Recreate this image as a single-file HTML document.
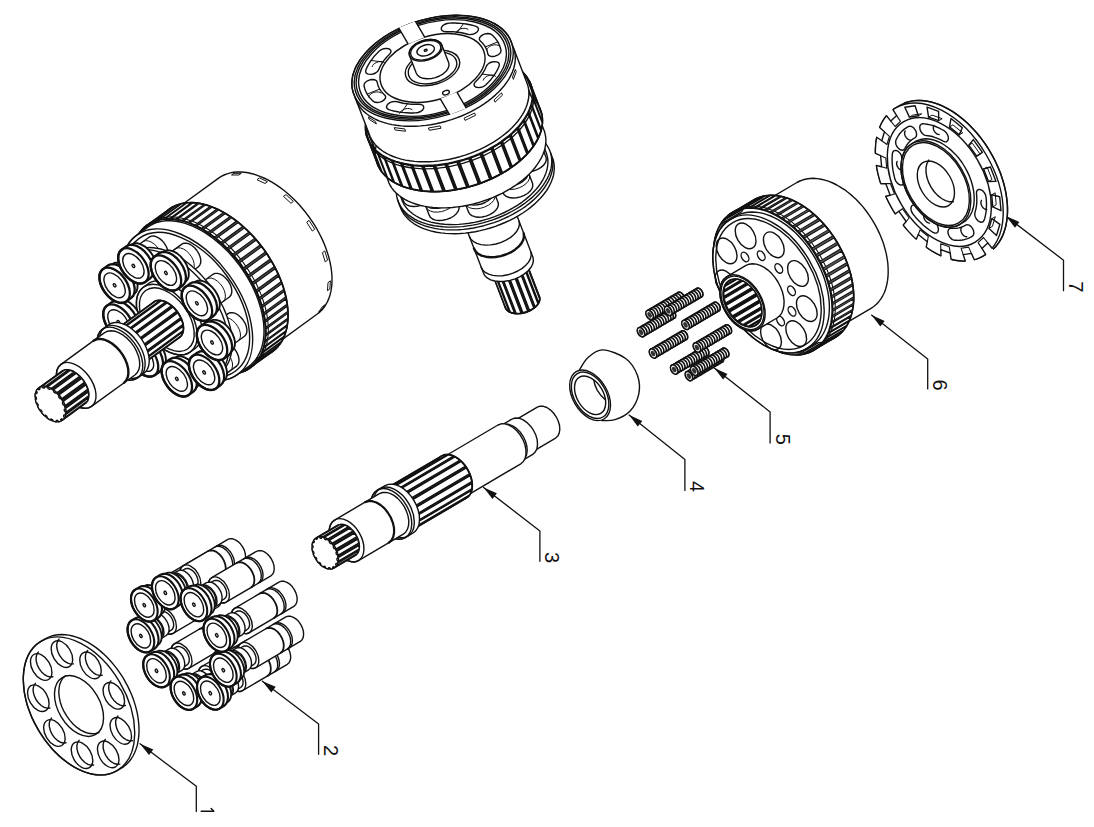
<!DOCTYPE html>
<html><head><meta charset="utf-8"><style>
html,body{margin:0;padding:0;background:#fff;width:1094px;height:827px;overflow:hidden}
svg{display:block}
</style></head><body>
<svg width="1094" height="827" viewBox="0 0 1094 827" stroke-linejoin="round" stroke-linecap="round">
<rect width="1094" height="827" fill="#fff"/>
<path d="M140 743.8L196.3 786.3L196.3 811.5" fill="none" stroke="#111" stroke-width="1.3"/>
<path d="M140 743.8L149 755.1L153.3 749.4Z" fill="#111"/>
<path d="M201.2 811.3L213.8 811.3L211.2 808.6" fill="none" stroke="#111" stroke-width="1.5"/>
<path d="M262.4 681.2L318.6 724.1L318.6 754.3" fill="none" stroke="#111" stroke-width="1.3"/>
<path d="M262.4 681.2L271.3 692.6L275.7 686.8Z" fill="#111"/>
<text x="0" y="0" transform="translate(324.1 750.5) rotate(90)" font-family="Liberation Sans, sans-serif" font-size="20" text-anchor="middle" fill="#111">2</text>
<path d="M483.6 487.5L539.9 531L539.9 561.3" fill="none" stroke="#111" stroke-width="1.3"/>
<path d="M483.6 487.5L492.5 498.9L496.9 493.2Z" fill="#111"/>
<text x="0" y="0" transform="translate(545.4 557.5) rotate(90)" font-family="Liberation Sans, sans-serif" font-size="20" text-anchor="middle" fill="#111">3</text>
<path d="M629.1 415.1L684.9 459.5L684.9 490.4" fill="none" stroke="#111" stroke-width="1.3"/>
<path d="M629.1 415.1L637.8 426.6L642.3 421Z" fill="#111"/>
<text x="0" y="0" transform="translate(690.4 486.6) rotate(90)" font-family="Liberation Sans, sans-serif" font-size="20" text-anchor="middle" fill="#111">4</text>
<path d="M714.3 368.1L770.1 411.9L770.1 443.1" fill="none" stroke="#111" stroke-width="1.3"/>
<path d="M714.3 368.1L723.1 379.6L727.5 373.9Z" fill="#111"/>
<text x="0" y="0" transform="translate(775.6 439.3) rotate(90)" font-family="Liberation Sans, sans-serif" font-size="20" text-anchor="middle" fill="#111">5</text>
<path d="M871.5 315.1L927.7 359L927.7 388.9" fill="none" stroke="#111" stroke-width="1.3"/>
<path d="M871.5 315.1L880.3 326.6L884.7 320.9Z" fill="#111"/>
<text x="0" y="0" transform="translate(933.2 385.1) rotate(90)" font-family="Liberation Sans, sans-serif" font-size="20" text-anchor="middle" fill="#111">6</text>
<path d="M1006.1 216.3L1063.5 260.2L1063.5 290.7" fill="none" stroke="#111" stroke-width="1.3"/>
<path d="M1006.1 216.3L1015 227.7L1019.4 221.9Z" fill="#111"/>
<text x="0" y="0" transform="translate(1069 286.9) rotate(90)" font-family="Liberation Sans, sans-serif" font-size="20" text-anchor="middle" fill="#111">7</text>
<path d="M490.9 270.2 490.7 267.4 491.7 264.5 493.7 261.5 496.8 258.8 500.7 256.5 505 254.8 509.6 253.8 514 253.6 518.1 254.1 521.5 255.3 523.9 257.3 525.3 259.7 539.7 297.1 539.9 299.9 538.9 302.8 536.8 305.8 533.7 308.5 529.9 310.8 525.6 312.5 521 313.5 516.5 313.8 512.5 313.2 509.1 312 506.6 310 505.2 307.6Z" fill="#fff" stroke="#111" stroke-width="1.4"/>
<path d="M491.1 265.9 490.6 268.8 491.4 271.5 493.4 273.7 496.3 275.3 500.1 276.2 504.4 276.4 508.9 275.7 513.4 274.4 517.6 272.3 521.1 269.8 523.7 267 525.2 264 525.6 261 524.7 258.4 522.8 256.2 537.1 293.5 539.1 295.7 539.9 298.4 539.6 301.3 538 304.3 535.4 307.2 531.9 309.7 527.8 311.7 523.3 313.1 518.7 313.7 514.4 313.6 510.6 312.7 507.7 311 505.8 308.8 505 306.2 505.4 303.2Z" fill="#1a1a1a" stroke="none"/>
<path d="M525 259.1L538.9 295.3L539.7 298L525.9 261.9ZM525.8 263.2L539.7 299.3L538.7 302.5L524.8 266.3ZM524 267.7L537.9 303.8L535.1 306.8L521.3 270.7ZM519.8 271.8L533.7 308L529.6 310.4L515.8 274.2ZM513.8 275.1L527.7 311.2L523 312.6L509.1 276.5ZM507.1 276.9L520.9 313L516.2 313.3L502.4 277.2ZM500.5 277L514.4 313.1L510.4 312.2L496.6 276.1ZM495.1 275.4L509 311.5L506.4 309.5L492.5 273.4ZM491.8 272.3L505.6 308.5L504.8 305.7L490.9 269.6Z" fill="#fff" stroke="#111" stroke-width="1.2"/>
<path d="M539.3 296.1 539.9 299 539.3 302.1 537.3 305.2 534.2 308.2 530.2 310.6 525.6 312.5 520.7 313.5 516 313.7 511.8 313 508.4 311.5 506.1 309.3 505 306.6" fill="none" stroke="#111" stroke-width="1.4"/>
<path d="M524.9 258.7 525.6 261.6 524.9 264.7 523 267.9 519.9 270.8 515.8 273.3 511.2 275.1 506.4 276.2 501.7 276.4 497.4 275.7 494 274.2 491.7 272 490.7 269.2" fill="none" stroke="#111" stroke-width="1.8"/>
<path d="M490.9 270.2 490.7 267.4 491.7 264.5 493.7 261.5 496.8 258.8 500.7 256.5 505 254.8 509.6 253.8 514 253.6 518.1 254.1 521.5 255.3 523.9 257.3 525.3 259.7" fill="none" stroke="#111" stroke-width="1.4"/>
<path d="M451.7 190.4 451.3 187.2 452 183.8 453.8 180.4 456.6 177 460.3 173.9 464.6 171.2 469.5 169 474.7 167.4 480 166.5 485.1 166.3 489.9 166.8 494.1 168.1 497.5 169.9 500 172.3 501.4 175.2 533 257.4 533.4 260.6 532.7 264 530.9 267.5 528.1 270.8 524.4 273.9 520.1 276.6 515.2 278.8 510 280.4 504.7 281.3 499.6 281.5 494.8 281 490.6 279.8 487.2 277.9 484.7 275.5 483.3 272.6Z" fill="#fff" stroke="#111" stroke-width="1.4"/>
<path d="M523.7 233.4 524 236.6 523.2 240 521.4 243.4 518.6 246.7 515 249.7 510.7 252.4 505.8 254.5 500.7 256.1 495.5 257 490.4 257.2 485.7 256.7 481.5 255.6 478.1 253.8 475.6 251.4 474 248.6" fill="none" stroke="#111" stroke-width="2.4"/>
<path d="M519.1 221.3 519.4 224.5 518.6 227.8 516.8 231.2 514 234.5 510.3 237.6 506 240.2 501.2 242.4 496 244 490.8 244.9 485.8 245.1 481 244.6 476.9 243.4 473.5 241.6 470.9 239.3 469.4 236.5" fill="none" stroke="#111" stroke-width="1.4"/>
<path d="M530.9 252.1 531.2 255.3 530.4 258.6 528.6 262.1 525.8 265.3 522.2 268.4 517.8 271 513 273.2 507.9 274.8 502.6 275.7 497.6 275.9 492.9 275.4 488.7 274.2 485.3 272.4 482.7 270.1 481.2 267.3" fill="none" stroke="#111" stroke-width="1.4"/>
<path d="M499 176.7 500.8 181.3 498.6 184.7 496.8 180.1Z" fill="#fff" stroke="#111" stroke-width="1.1"/>
<path d="M491.9 184.8 493.7 189.5 489.6 192.3 487.8 187.6Z" fill="#fff" stroke="#111" stroke-width="1.1"/>
<path d="M480.5 190.9 482.3 195.6 477.2 197.1 475.4 192.4Z" fill="#fff" stroke="#111" stroke-width="1.1"/>
<path d="M467.6 193.4 469.4 198.1 464.4 197.9 462.6 193.3Z" fill="#fff" stroke="#111" stroke-width="1.1"/>
<path d="M456.2 191.7 458 196.4 454.5 194.6 452.7 189.9Z" fill="#fff" stroke="#111" stroke-width="1.1"/>
<path d="M397.6 199.7 396.8 196.7 396.4 193.6 396.3 190.4 396.6 187.2 397.2 183.9 398.1 180.6 399.4 177.3 400.9 174 402.8 170.7 405 167.4 407.5 164.1 410.2 160.9 413.3 157.8 416.5 154.7 420.1 151.8 423.9 148.9 427.9 146.2 432 143.5 436.4 141.1 440.9 138.7 445.6 136.6 450.4 134.6 455.3 132.8 460.3 131.2 465.3 129.7 470.4 128.5 475.5 127.5 480.5 126.6 485.6 126 490.6 125.6 495.5 125.5 500.4 125.5 505.1 125.8 509.7 126.2 514.1 126.9 518.4 127.8 522.5 128.9 526.4 130.3 530 131.8 533.4 133.5 536.6 135.4 539.5 137.4 542.1 139.6 544.4 142 546.4 144.5 548.1 147.2 549.5 150 550.6 152.9 553.1 159.4 553.8 162.4 554.2 165.5 554.3 168.7 554 171.9 553.5 175.2 552.5 178.5 551.3 181.8 549.7 185.1 547.9 188.5 545.7 191.8 543.2 195 540.4 198.2 537.4 201.3 534.1 204.4 530.6 207.4 526.8 210.2 522.8 213 518.6 215.6 514.2 218.1 509.7 220.4 505 222.5 500.2 224.5 495.4 226.3 490.4 228 485.3 229.4 480.3 230.6 475.2 231.7 470.1 232.5 465.1 233.1 460.1 233.5 455.1 233.7 450.3 233.6 445.5 233.4 441 232.9 436.5 232.2 432.2 231.3 428.2 230.2 424.3 228.9 420.6 227.4 417.2 225.7 414.1 223.8 411.2 221.7 408.6 219.5 406.3 217.1 404.2 214.6 402.5 211.9 401.1 209.1 400.1 206.2Z" fill="#fff" stroke="#111" stroke-width="1.4"/>
<path d="M552.2 158 552.7 161.1 552.9 164.3 552.7 167.5 552.2 170.8 551.3 174.1 550.1 177.5 548.6 180.9 546.7 184.2 544.6 187.5 542.1 190.8 539.4 194.1 536.3 197.3 533 200.4 529.5 203.4 525.7 206.3 521.7 209 517.4 211.7 513 214.2 508.5 216.5 503.8 218.7 498.9 220.8 494 222.6 488.9 224.2 483.9 225.7 478.7 226.9 473.6 228 468.5 228.8 463.4 229.4 458.3 229.8 453.3 229.9 448.5 229.9 443.7 229.6 439.1 229.1 434.6 228.4 430.3 227.4 426.2 226.3 422.3 224.9 418.7 223.4 415.3 221.6 412.1 219.7 409.2 217.6 406.7 215.3 404.4 212.9 402.4 210.3 400.8 207.6 399.4 204.7" fill="none" stroke="#111" stroke-width="1.4"/>
<path d="M393.5 178 392.8 174.9 392.4 171.8 392.4 168.6 392.7 165.3 393.4 162 394.5 158.6 395.9 155.2 397.6 151.9 399.7 148.5 402.1 145.2 404.8 142 407.8 138.8 411.1 135.6 414.7 132.6 418.5 129.7 422.5 127 426.8 124.3 431.3 121.8 435.9 119.5 440.7 117.4 445.6 115.4 450.5 113.7 455.6 112.1 460.7 110.8 465.9 109.7 471 108.8 476.2 108.1 481.3 107.7 486.3 107.5 491.2 107.5 496 107.8 500.6 108.3 505.1 109 509.4 110 513.4 111.2 517.3 112.6 520.9 114.2 524.2 116 527.3 118 530 120.2 532.4 122.6 534.6 125.1 536.3 127.8 537.8 130.6 538.9 133.5 546.7 154.1 547.5 157.1 547.9 160.3 547.9 163.5 547.5 166.8 546.9 170.1 545.8 173.4 544.4 176.8 542.7 180.2 540.6 183.5 538.2 186.8 535.5 190.1 532.4 193.3 529.1 196.4 525.6 199.4 521.8 202.3 517.7 205.1 513.5 207.7 509 210.2 504.4 212.5 499.6 214.7 494.7 216.6 489.7 218.4 484.6 219.9 479.5 221.3 474.4 222.4 469.2 223.3 464.1 223.9 459 224.4 454 224.6 449.1 224.5 444.3 224.3 439.7 223.8 435.2 223 430.9 222.1 426.8 220.9 423 219.5 419.4 217.9 416.1 216 413 214 410.3 211.8 407.8 209.5 405.7 206.9 403.9 204.3 402.5 201.5 401.4 198.5Z" fill="#fff" stroke="#111" stroke-width="1.4"/>
<path d="M511.8 154.5 511.6 152.1 512.5 149.5 514.3 147 516.9 144.7 520.2 142.7 524 141.2 527.9 140.3 531.7 140.1 535.2 140.6 538.1 141.7 540.3 143.3 541.5 145.4 546.1 157.6 546.3 160 545.5 162.5 543.7 165.1 541 167.4 537.7 169.4 534 170.8 530 171.7 526.2 171.9 522.7 171.5 519.8 170.4 517.7 168.7 516.5 166.6Z" fill="#fff" stroke="#111" stroke-width="1.4"/>
<path d="M541.5 145.4 541.7 147.8 540.8 150.4 539 152.9 536.4 155.3 533.1 157.2 529.3 158.7 525.4 159.6 521.5 159.8 518 159.3 515.1 158.3 513 156.6 511.8 154.5" fill="none" stroke="#111" stroke-width="1.4"/>
<path d="M543.1 150.1 542.9 152.6 541.6 155.2 539.4 157.7 536.3 160 532.7 161.8 528.7 163 524.7 163.5 521 163.4 517.7 162.5 515.2 161.1 513.6 159.1" fill="none" stroke="#111" stroke-width="1"/>
<path d="M498.3 180.5 498.1 178.1 499 175.6 500.8 173 503.4 170.7 506.7 168.7 510.5 167.3 514.4 166.4 518.2 166.2 521.7 166.6 524.6 167.7 526.8 169.4 528 171.5 532.6 183.6 532.8 186 532 188.6 530.2 191.1 527.5 193.5 524.2 195.4 520.5 196.9 516.6 197.8 512.7 198 509.2 197.5 506.3 196.4 504.2 194.8 503 192.7Z" fill="#fff" stroke="#111" stroke-width="1.4"/>
<path d="M528 171.5 528.2 173.9 527.3 176.5 525.5 179 522.9 181.3 519.6 183.3 515.8 184.8 511.9 185.6 508.1 185.9 504.6 185.4 501.6 184.3 499.5 182.7 498.3 180.5" fill="none" stroke="#111" stroke-width="1.4"/>
<path d="M529.6 176.1 529.4 178.7 528.1 181.3 525.9 183.8 522.8 186 519.2 187.8 515.3 189 511.3 189.6 507.5 189.4 504.2 188.6 501.7 187.1 500.1 185.1" fill="none" stroke="#111" stroke-width="1"/>
<path d="M463.9 199.7 463.7 197.3 464.5 194.8 466.3 192.2 469 189.9 472.3 187.9 476 186.5 479.9 185.6 483.8 185.4 487.3 185.8 490.2 186.9 492.3 188.6 493.5 190.7 498.2 202.8 498.4 205.2 497.5 207.8 495.7 210.3 493.1 212.7 489.8 214.6 486 216.1 482.1 217 478.2 217.2 474.8 216.7 471.8 215.6 469.7 214 468.5 211.9Z" fill="#fff" stroke="#111" stroke-width="1.4"/>
<path d="M493.5 190.7 493.7 193.1 492.9 195.7 491.1 198.2 488.4 200.5 485.1 202.5 481.4 204 477.4 204.8 473.6 205.1 470.1 204.6 467.2 203.5 465.1 201.9 463.9 199.7" fill="none" stroke="#111" stroke-width="1.4"/>
<path d="M495.1 195.3 494.9 197.9 493.6 200.5 491.4 203 488.4 205.2 484.7 207 480.8 208.2 476.8 208.8 473 208.6 469.8 207.8 467.2 206.3 465.6 204.3" fill="none" stroke="#111" stroke-width="1"/>
<path d="M424.6 203.1 424.4 200.7 425.2 198.1 427 195.6 429.7 193.3 433 191.3 436.7 189.8 440.6 188.9 444.5 188.7 448 189.2 450.9 190.3 453 191.9 454.2 194 458.9 206.2 459.1 208.6 458.2 211.2 456.4 213.7 453.8 216 450.5 218 446.7 219.4 442.8 220.3 438.9 220.5 435.5 220.1 432.5 219 430.4 217.3 429.2 215.2Z" fill="#fff" stroke="#111" stroke-width="1.4"/>
<path d="M454.2 194 454.4 196.5 453.6 199 451.8 201.5 449.1 203.9 445.8 205.8 442.1 207.3 438.1 208.2 434.3 208.4 430.8 208 427.9 206.9 425.8 205.2 424.6 203.1" fill="none" stroke="#111" stroke-width="1.4"/>
<path d="M455.8 198.7 455.6 201.2 454.3 203.8 452.1 206.4 449.1 208.6 445.4 210.4 441.5 211.6 437.5 212.1 433.7 212 430.5 211.1 427.9 209.7 426.3 207.7" fill="none" stroke="#111" stroke-width="1"/>
<path d="M398.8 189 398.6 186.6 399.5 184.1 401.3 181.5 403.9 179.2 407.2 177.2 411 175.8 414.9 174.9 418.7 174.7 422.2 175.1 425.1 176.2 427.3 177.9 428.5 180 433.1 192.1 433.3 194.5 432.5 197.1 430.7 199.6 428 202 424.7 203.9 421 205.4 417 206.3 413.2 206.5 409.7 206 406.8 204.9 404.7 203.3 403.5 201.2Z" fill="#fff" stroke="#111" stroke-width="1.4"/>
<path d="M428.5 180 428.6 182.4 427.8 185 426 187.5 423.4 189.8 420 191.8 416.3 193.3 412.4 194.1 408.5 194.4 405 193.9 402.1 192.8 400 191.2 398.8 189" fill="none" stroke="#111" stroke-width="1.4"/>
<path d="M430.1 184.6 429.9 187.2 428.6 189.8 426.3 192.3 423.3 194.5 419.7 196.3 415.7 197.5 411.7 198.1 408 197.9 404.7 197.1 402.2 195.6 400.6 193.6" fill="none" stroke="#111" stroke-width="1"/>
<path d="M550.6 152.9 551.3 155.9 551.7 159 551.8 162.2 551.5 165.4 551 168.7 550 172 548.8 175.3 547.2 178.6 545.3 181.9 543.2 185.2 540.7 188.5 537.9 191.7 534.9 194.8 531.6 197.9 528 200.8 524.3 203.7 520.3 206.4 516.1 209 511.7 211.5 507.2 213.8 502.5 216 497.7 218 492.8 219.8 487.9 221.4 482.8 222.9 477.8 224.1 472.7 225.1 467.6 225.9 462.5 226.6 457.5 226.9 452.6 227.1 447.8 227.1 443 226.8 438.4 226.3 434 225.7 429.7 224.8 425.7 223.6 421.8 222.3 418.1 220.8 414.7 219.1 411.6 217.2 408.7 215.2 406.1 213 403.7 210.6 401.7 208 400 205.4 398.6 202.6 397.6 199.7" fill="none" stroke="#111" stroke-width="1.4"/>
<path d="M380.6 161.1 379.9 158 379.4 154.9 379.3 151.8 379.6 148.5 380.1 145.3 381 141.9 382.2 138.6 383.8 135.3 385.6 131.9 387.7 128.6 390.1 125.3 392.8 122.1 395.8 119 399.1 115.9 402.6 112.9 406.3 109.9 410.2 107.2 414.3 104.5 418.7 101.9 423.1 99.6 427.8 97.3 432.5 95.2 437.4 93.3 442.4 91.6 447.4 90.1 452.5 88.7 457.6 87.6 462.7 86.6 467.8 85.9 472.8 85.4 477.8 85.1 482.7 85 487.6 85.1 492.3 85.4 496.9 86 501.3 86.7 505.5 87.7 509.6 88.8 513.4 90.2 517 91.8 520.4 93.5 523.5 95.4 526.4 97.5 529 99.8 531.3 102.2 533.3 104.7 535 107.4 536.4 110.2 537.4 113.1 544.6 131.8 545.3 134.8 545.8 137.9 545.9 141.1 545.6 144.3 545.1 147.6 544.2 150.9 543 154.2 541.5 157.6 539.6 160.9 537.5 164.2 535.1 167.5 532.4 170.7 529.4 173.9 526.1 177 522.7 180 518.9 182.9 515 185.7 510.9 188.4 506.5 190.9 502.1 193.3 497.4 195.5 492.7 197.6 487.8 199.5 482.8 201.2 477.8 202.8 472.7 204.1 467.6 205.3 462.5 206.2 457.4 206.9 452.4 207.5 447.4 207.8 442.5 207.9 437.6 207.7 432.9 207.4 428.4 206.9 423.9 206.1 419.7 205.2 415.6 204 411.8 202.6 408.2 201.1 404.8 199.3 401.7 197.4 398.8 195.3 396.2 193.1 393.9 190.7 391.9 188.1 390.2 185.5 388.8 182.6 387.8 179.7Z" fill="#fff" stroke="#111" stroke-width="1.4"/>
<path d="M538.2 115 538.9 118 539.3 121.1 539.4 124.3 539.2 127.5 538.6 130.8 537.7 134.1 536.5 137.4 535 140.8 533.2 144.1 531 147.4 528.6 150.7 525.9 153.9 522.9 157.1 519.7 160.2 516.2 163.2 512.5 166.1 508.5 168.9 504.4 171.6 500.1 174.1 495.6 176.5 491 178.7 486.2 180.8 481.3 182.7 476.4 184.4 471.4 186 466.3 187.3 461.2 188.5 456.1 189.4 451 190.1 445.9 190.7 440.9 191 436 191.1 431.2 190.9 426.5 190.6 421.9 190.1 417.5 189.3 413.2 188.4 409.2 187.2 405.4 185.8 401.7 184.3 398.4 182.5 395.2 180.6 392.4 178.5 389.8 176.3 387.5 173.9 385.5 171.3 383.8 168.6 382.4 165.8 381.3 162.9" fill="none" stroke="#111" stroke-width="1.4"/>
<path d="M366.7 136.1 366 133.1 365.5 129.9 365.4 126.7 365.6 123.5 366.1 120.2 366.9 116.9 368.1 113.5 369.5 110.1 371.3 106.8 373.3 103.4 375.6 100.1 378.2 96.8 381.1 93.6 384.2 90.5 387.6 87.4 391.2 84.4 395 81.5 399 78.7 403.3 76.1 407.7 73.5 412.2 71.2 416.9 68.9 421.7 66.9 426.6 64.9 431.6 63.2 436.7 61.7 441.8 60.3 446.9 59.1 452.1 58.2 457.2 57.4 462.3 56.8 467.4 56.5 472.4 56.3 477.3 56.4 482 56.6 486.7 57.1 491.2 57.7 495.6 58.6 499.8 59.7 503.8 60.9 507.5 62.4 511.1 64 514.4 65.8 517.5 67.8 520.3 70 522.9 72.3 525.1 74.7 527.1 77.3 528.8 80 530.2 82.9 531.2 85.8 541.3 111.9 542 115 542.5 118.1 542.6 121.3 542.4 124.5 541.9 127.8 541.1 131.2 539.9 134.5 538.5 137.9 536.8 141.3 534.7 144.6 532.4 147.9 529.8 151.2 526.9 154.4 523.8 157.6 520.4 160.7 516.8 163.6 513 166.5 509 169.3 504.7 172 500.3 174.5 495.8 176.9 491.1 179.1 486.3 181.2 481.4 183.1 476.4 184.8 471.3 186.4 466.2 187.7 461.1 188.9 455.9 189.9 450.8 190.6 445.7 191.2 440.6 191.6 435.6 191.7 430.7 191.7 426 191.4 421.3 191 416.8 190.3 412.4 189.4 408.2 188.4 404.2 187.1 400.5 185.6 396.9 184 393.6 182.2 390.5 180.2 387.7 178.1 385.1 175.8 382.9 173.3 380.9 170.7 379.2 168 377.8 165.2 376.8 162.2Z" fill="#fff" stroke="#111" stroke-width="1.4"/>
<path d="M367.5 115.2 366.5 118.6 365.8 121.9 365.5 125.1 365.4 128.4 365.7 131.5 366.3 134.6 367.2 137.6 368.5 140.5 370 143.2 371.8 145.9 374 148.4 376.4 150.8 379 153 382 155.1 385.2 157 388.6 158.7 392.3 160.3 396.2 161.6 400.3 162.8 404.6 163.7 409 164.5 413.6 165.1 418.3 165.4 423.2 165.6 428.1 165.5 433.1 165.3 438.2 164.8 443.3 164.1 448.5 163.3 453.6 162.2 458.7 160.9 463.8 159.5 468.9 157.8 473.8 156 478.7 154 483.4 151.9 488 149.6 492.5 147.1 496.8 144.5 501 141.8 504.9 139 508.6 136 512.1 133 515.3 129.9 518.3 126.7 521.1 123.4 523.5 120.1 525.7 116.8 527.6 113.4 529.2 110.1 530.5 106.7 531.5 103.4 532.1 100.1 532.5 96.8 532.5 93.6 532.2 90.4 531.6 87.3 530.7 84.3 529.5 81.4 528 78.7 526.2 76 524 73.5 521.6 71.1 519 68.9 529 95 531.7 97.3 534.1 99.6 536.2 102.2 538 104.8 539.5 107.6 540.8 110.5 541.7 113.5 542.3 116.5 542.6 119.7 542.5 122.9 542.2 126.2 541.5 129.5 540.5 132.9 539.2 136.2 537.7 139.6 535.8 142.9 533.6 146.3 531.1 149.6 528.4 152.8 525.4 156 522.1 159.1 518.6 162.2 514.9 165.1 511 167.9 506.9 170.7 502.6 173.3 498.1 175.7 493.5 178 488.7 180.2 483.8 182.2 478.9 184 473.9 185.6 468.8 187.1 463.6 188.3 458.5 189.4 453.4 190.3 448.2 190.9 443.1 191.4 438.1 191.7 433.2 191.7 428.3 191.6 423.6 191.2 419 190.7 414.6 189.9 410.3 188.9 406.2 187.8 402.3 186.4 398.7 184.9 395.2 183.1 392 181.2 389.1 179.2 386.4 176.9 384 174.6 381.9 172 380 169.4 378.5 166.6 377.3 163.7 376.4 160.7 375.8 157.7 375.5 154.5 375.5 151.3 375.9 148 376.5 144.7 377.5 141.3Z" fill="#1a1a1a" stroke="none"/>
<path d="M530.5 83.8L540.1 108.7L541.8 114.3L532.2 89.4ZM532.5 90.8L542.1 115.7L542.4 121.6L532.8 96.7ZM532.7 98.2L542.3 123.1L541.3 129.2L531.7 104.3ZM531.3 105.9L540.9 130.8L538.5 137L528.9 112.1ZM528.2 113.7L537.7 138.6L534.1 144.8L524.5 119.9ZM523.5 121.4L533 146.3L528.2 152.4L518.6 127.5ZM517.2 129L526.8 153.9L520.8 159.7L511.2 134.8ZM509.6 136.2L519.2 161.1L512.2 166.5L502.6 141.6ZM500.8 142.9L510.3 167.8L502.5 172.7L492.9 147.8ZM490.9 148.9L500.4 173.9L491.9 178.2L482.3 153.3ZM480.1 154.3L489.7 179.2L480.7 182.8L471.1 157.9ZM468.8 158.7L478.3 183.6L469 186.5L459.4 161.6ZM457 162.2L466.6 187.1L457 189.2L447.5 164.2ZM445.1 164.6L454.7 189.6L445.2 190.8L435.6 165.8ZM433.3 166L442.8 191L433.6 191.3L424 166.3ZM421.7 166.3L431.3 191.2L422.5 190.7L412.9 165.7ZM410.8 165.5L420.4 190.4L412.2 188.9L402.6 164ZM400.6 163.5L410.2 188.5L402.8 186.2L393.2 161.2ZM391.5 160.6L401 185.5L394.5 182.4L385 157.4ZM383.5 156.6L393 181.5L387.6 177.7L378 152.7ZM376.8 151.7L386.4 176.6L382.1 172.1L372.5 147.2ZM371.6 146L381.2 170.9L378.2 165.8L368.6 140.9ZM368 139.6L377.6 164.5L375.9 159L366.3 134ZM366.1 132.6L375.6 157.5L375.3 151.6L365.7 126.7ZM365.8 125.2L375.4 150.1L376.4 144L366.8 119.1ZM521.7 71.7L531.3 96.6L535.6 101.1L526 76.2ZM526.9 77.4L536.5 102.3L539.5 107.4L529.9 82.5Z" fill="#fff" stroke="#111" stroke-width="1.3"/>
<path d="M531.5 86.3L533.2 91.9M533.4 93.3L533.8 99.2M533.7 100.7L532.7 106.8M532.3 108.4L529.9 114.6M529.1 116.2L525.5 122.4M524.4 123.9L519.6 130M518.2 131.5L512.2 137.3M510.6 138.7L503.6 144.1M501.7 145.4L493.9 150.3M491.8 151.5L483.3 155.8M481.1 156.8L472.1 160.4M469.7 161.2L460.4 164.1M458 164.7L448.4 166.8M446.1 167.2L436.6 168.4M434.2 168.6L425 168.9M422.7 168.8L413.9 168.2M411.8 168L403.6 166.5M401.6 166.1L394.2 163.8M392.4 163.1L385.9 160M384.4 159.1L379 155.2M377.8 154.2L373.5 149.7M372.6 148.5L369.6 143.4M369 142.1L367.3 136.5M367 135.1L366.7 129.2M366.8 127.7L367.8 121.6M522.7 74.2L527 78.7M527.9 79.9L530.9 85" fill="none" stroke="#111" stroke-width="1.3"/>
<path d="M539.4 107.2 540.6 110.1 541.6 113.1 542.2 116.2 542.5 119.3 542.5 122.6 542.2 125.9 541.6 129.2 540.6 132.6 539.4 135.9 537.8 139.3 535.9 142.7 533.7 146 531.3 149.4 528.6 152.6 525.6 155.8 522.3 159 518.8 162 515.1 165 511.1 167.8 507 170.6 502.7 173.2 498.2 175.6 493.6 178 488.8 180.1 483.9 182.1 478.9 184 473.9 185.6 468.7 187.1 463.6 188.3 458.4 189.4 453.3 190.3 448.1 191 443 191.4 438 191.7 433 191.7 428.1 191.6 423.4 191.2 418.8 190.6 414.3 189.8 410.1 188.9 406 187.7 402.1 186.3 398.4 184.7 395 183 391.8 181.1 388.8 179 386.2 176.7 383.8 174.3 381.7 171.8 379.9 169.1 378.3 166.3 377.2 163.4 376.3 160.4 375.7 157.3" fill="none" stroke="#111" stroke-width="1.4"/>
<path d="M529.3 81.1 530.6 84 531.6 87 532.2 90 532.5 93.2 532.5 96.4 532.2 99.7 531.6 103.1 530.6 106.4 529.3 109.8 527.8 113.2 525.9 116.5 523.7 119.9 521.3 123.2 518.5 126.5 515.5 129.7 512.3 132.8 508.8 135.9 505 138.8 501.1 141.7 497 144.4 492.6 147 488.2 149.5 483.5 151.8 478.7 154 473.9 156 468.9 157.8 463.8 159.5 458.7 160.9 453.6 162.2 448.4 163.3 443.2 164.1 438.1 164.8 433 165.3 427.9 165.5 423 165.6 418.1 165.4 413.4 165.1 408.8 164.5 404.3 163.7 400 162.7 395.9 161.5 392 160.2 388.4 158.6 384.9 156.8 381.7 154.9 378.8 152.8 376.1 150.6 373.7 148.2 371.6 145.6 369.8 142.9 368.3 140.1 367.1 137.2 366.2 134.2 365.7 131.1" fill="none" stroke="#111" stroke-width="1.8"/>
<path d="M366.7 136.1 366 133.1 365.5 129.9 365.4 126.7 365.6 123.5 366.1 120.2 366.9 116.9 368.1 113.5 369.5 110.1 371.3 106.8 373.3 103.4 375.6 100.1 378.2 96.8 381.1 93.6 384.2 90.5 387.6 87.4 391.2 84.4 395 81.5 399 78.7 403.3 76.1 407.7 73.5 412.2 71.2 416.9 68.9 421.7 66.9 426.6 64.9 431.6 63.2 436.7 61.7 441.8 60.3 446.9 59.1 452.1 58.2 457.2 57.4 462.3 56.8 467.4 56.5 472.4 56.3 477.3 56.4 482 56.6 486.7 57.1 491.2 57.7 495.6 58.6 499.8 59.7 503.8 60.9 507.5 62.4 511.1 64 514.4 65.8 517.5 67.8 520.3 70 522.9 72.3 525.1 74.7 527.1 77.3 528.8 80 530.2 82.9 531.2 85.8" fill="none" stroke="#111" stroke-width="1.4"/>
<path d="M353.1 92.3 352.4 89.2 351.9 86.1 351.9 82.9 352.1 79.6 352.7 76.3 353.6 72.9 354.8 69.5 356.3 66.2 358.2 62.8 360.3 59.4 362.8 56.1 365.5 52.9 368.5 49.6 371.8 46.5 375.3 43.5 379.1 40.5 383.1 37.7 387.3 35 391.7 32.4 396.2 30 400.9 27.7 405.7 25.6 410.6 23.7 415.6 22 420.7 20.4 425.9 19.1 431 17.9 436.2 16.9 441.4 16.2 446.5 15.7 451.5 15.4 456.5 15.3 461.4 15.4 466.2 15.7 470.8 16.3 475.3 17 479.6 18 483.7 19.2 487.5 20.5 491.2 22.1 494.6 23.9 497.8 25.8 500.7 27.9 503.3 30.2 505.6 32.6 507.7 35.2 509.4 37.9 510.8 40.8 511.9 43.7 527.6 84.8 528.4 87.9 528.8 91 528.9 94.2 528.7 97.5 528.1 100.8 527.2 104.2 526 107.5 524.5 110.9 522.6 114.3 520.4 117.6 518 121 515.2 124.2 512.2 127.4 509 130.6 505.4 133.6 501.7 136.5 497.7 139.4 493.5 142.1 489.1 144.6 484.6 147.1 479.9 149.3 475.1 151.4 470.1 153.4 465.1 155.1 460 156.7 454.9 158 449.7 159.2 444.6 160.1 439.4 160.9 434.3 161.4 429.2 161.7 424.2 161.8 419.4 161.7 414.6 161.4 410 160.8 405.5 160.1 401.2 159.1 397.1 157.9 393.2 156.5 389.6 155 386.1 153.2 383 151.3 380.1 149.1 377.5 146.9 375.1 144.4 373.1 141.8 371.4 139.1 370 136.3 368.9 133.3Z" fill="#fff" stroke="#111" stroke-width="1.4"/>
<ellipse cx="432.5" cy="68" rx="83" ry="49" transform="rotate(-17 432.5 68)" fill="none" stroke="#111" stroke-width="1.4"/>
<path d="M514 49.3 514.8 52.4 515.2 55.5 515.3 58.7 515.1 62 514.5 65.3 513.6 68.7 512.4 72.1 510.8 75.4 509 78.8 506.8 82.2 504.4 85.5 501.6 88.7 498.6 92 495.3 95.1 491.8 98.1 488 101.1 484.1 103.9 479.9 106.6 475.5 109.2 471 111.6 466.3 113.9 461.5 116 456.5 117.9 451.5 119.6 446.4 121.2 441.3 122.5 436.1 123.7 430.9 124.7 425.8 125.4 420.7 125.9 415.6 126.2 410.6 126.3 405.7 126.2 401 125.9 396.4 125.3 391.9 124.6 387.6 123.6 383.5 122.4 379.6 121.1 375.9 119.5 372.5 117.7 369.3 115.8 366.5 113.7 363.8 111.4 361.5 109 359.5 106.4 357.8 103.7 356.4 100.8 355.3 97.9" fill="none" stroke="#111" stroke-width="1.4"/>
<path d="M515.2 69.7 512.5 77 513.4 79.4 516.1 72Z" fill="none" stroke="#111" stroke-width="1"/>
<path d="M501.3 93.1 494.1 99.9 495 102.2 502.2 95.4Z" fill="none" stroke="#111" stroke-width="1"/>
<path d="M474.3 113.2 464.1 118.1 465 120.4 475.2 115.5Z" fill="none" stroke="#111" stroke-width="1"/>
<path d="M439.7 126 428.4 128 429.3 130.3 440.6 128.3Z" fill="none" stroke="#111" stroke-width="1"/>
<path d="M404.3 128.9 394.2 127.6 395.1 130 405.2 131.2Z" fill="none" stroke="#111" stroke-width="1"/>
<path d="M375.1 121.3 368.3 117 369.2 119.4 376 123.7Z" fill="none" stroke="#111" stroke-width="1"/>
<ellipse cx="432.5" cy="68" rx="80.5" ry="47.5" transform="rotate(-17 432.5 68)" fill="none" stroke="#111" stroke-width="1.4"/>
<ellipse cx="432.5" cy="68" rx="78.5" ry="46.3" transform="rotate(-17 432.5 68)" fill="none" stroke="#111" stroke-width="1.4"/>
<ellipse cx="432.5" cy="68" rx="76" ry="44.8" transform="rotate(-17 432.5 68)" fill="none" stroke="#111" stroke-width="1.4"/>
<path d="M365.8 70.3 366.6 68.3 367.5 66.4 368.6 64.4 369.8 62.4 371.1 60.5 372.5 58.6 374 56.6 375.7 54.8 377.4 52.9 379.3 51 379.3 51 381.3 49.6 383.7 48.7 386.3 48.4 388.6 48.7 390.2 49.6 391 51 390.7 52.6 389.5 54.3 389.5 54.3 388 55.8 386.6 57.3 385.3 58.8 384 60.4 382.9 61.9 381.8 63.5 380.9 65.1 380 66.7 379.3 68.3 378.6 69.9 378.6 69.9 377.5 71.5 375.6 73 373.2 74 370.6 74.4 368.3 74.1 366.5 73.3 365.7 71.9 365.8 70.3Z" fill="#fff" stroke="#111" stroke-width="1.4"/>
<path d="M372.2 66.6 372.7 65.4 373.7 64.2 375.1 63.2 376.7 62.4 378.5 61.8 380.3 61.6 382 61.7 383.5 62.1 384.6 62.8" fill="none" stroke="#111" stroke-width="1"/>
<path d="M382.9 61.9L371.1 60.5" fill="none" stroke="#111" stroke-width="1"/>
<path d="M449.4 23.1 452.3 23 455.2 23 458 23.2 460.8 23.4 463.5 23.6 466.1 24 468.7 24.5 471.3 25 473.7 25.6 476.1 26.3 476.1 26.3 477.7 27.3 478.5 28.7 478.2 30.3 477 32 475 33.4 472.6 34.3 470 34.6 467.7 34.3 467.7 34.3 465.8 33.8 463.8 33.3 461.8 32.8 459.7 32.5 457.5 32.2 455.3 31.9 453.1 31.8 450.8 31.7 448.5 31.7 446.2 31.7 446.2 31.7 443.8 31.5 442.1 30.6 441.3 29.2 441.4 27.6 442.5 25.9 444.4 24.5 446.9 23.5 449.4 23.1Z" fill="#fff" stroke="#111" stroke-width="1.4"/>
<path d="M455.8 33.3 456.3 32.1 457.2 30.9 458.6 29.9 460.2 29 462.1 28.5 463.9 28.3 465.6 28.4 467 28.8 468.1 29.5" fill="none" stroke="#111" stroke-width="1"/>
<path d="M457.5 32.2L463.5 23.6" fill="none" stroke="#111" stroke-width="1"/>
<path d="M491.6 34.6 493.1 36 494.5 37.4 495.7 38.8 496.8 40.4 497.8 41.9 498.7 43.6 499.5 45.2 500.1 47 500.6 48.7 501 50.5 501 50.5 500.7 52.2 499.5 53.8 497.5 55.2 495 56.2 492.5 56.5 490.2 56.2 488.6 55.3 487.8 53.9 487.8 53.9 487.5 52.4 487.1 51 486.6 49.6 486 48.3 485.3 46.9 484.5 45.7 483.6 44.4 482.6 43.3 481.5 42.1 480.3 41 480.3 41 479.4 39.7 479.5 38 480.6 36.4 482.6 34.9 485 33.9 487.6 33.5 489.9 33.7 491.6 34.6Z" fill="#fff" stroke="#111" stroke-width="1.4"/>
<path d="M486.8 49.8 487.3 48.6 488.3 47.5 489.6 46.4 491.3 45.6 493.1 45 494.9 44.8 496.6 44.9 498.1 45.3 499.2 46" fill="none" stroke="#111" stroke-width="1"/>
<path d="M485.3 46.9L497.8 41.9" fill="none" stroke="#111" stroke-width="1"/>
<path d="M499.2 65.7 498.4 67.7 497.5 69.6 496.4 71.6 495.2 73.6 493.9 75.5 492.5 77.4 491 79.4 489.3 81.2 487.6 83.1 485.7 85 485.7 85 483.7 86.4 481.3 87.3 478.7 87.6 476.4 87.3 474.8 86.4 474 85 474.3 83.4 475.5 81.7 475.5 81.7 477 80.2 478.4 78.7 479.7 77.2 481 75.6 482.1 74.1 483.2 72.5 484.1 70.9 485 69.3 485.7 67.7 486.4 66.1 486.4 66.1 487.5 64.5 489.4 63 491.8 62 494.4 61.6 496.7 61.9 498.5 62.7 499.3 64.1 499.2 65.7Z" fill="#fff" stroke="#111" stroke-width="1.4"/>
<path d="M483.3 80.2 483.8 79 484.7 77.8 486.1 76.8 487.7 75.9 489.6 75.4 491.4 75.1 493.1 75.2 494.6 75.7 495.6 76.4" fill="none" stroke="#111" stroke-width="1"/>
<path d="M482.1 74.1L493.9 75.5" fill="none" stroke="#111" stroke-width="1"/>
<path d="M415.6 112.9 412.7 113 409.8 113 407 112.8 404.2 112.6 401.5 112.4 398.9 112 396.3 111.5 393.7 111 391.3 110.4 388.9 109.7 388.9 109.7 387.3 108.7 386.5 107.3 386.8 105.7 388 104 390 102.6 392.4 101.7 395 101.4 397.3 101.7 397.3 101.7 399.2 102.2 401.2 102.7 403.2 103.2 405.3 103.5 407.5 103.8 409.7 104.1 411.9 104.2 414.2 104.3 416.5 104.3 418.8 104.3 418.8 104.3 421.2 104.5 422.9 105.4 423.7 106.8 423.6 108.4 422.5 110.1 420.6 111.5 418.1 112.5 415.6 112.9Z" fill="#fff" stroke="#111" stroke-width="1.4"/>
<path d="M399.7 113.5 400.2 112.3 401.2 111.1 402.6 110.1 404.2 109.2 406 108.7 407.8 108.5 409.6 108.6 411 109 412.1 109.7" fill="none" stroke="#111" stroke-width="1"/>
<path d="M407.5 103.8L401.5 112.4" fill="none" stroke="#111" stroke-width="1"/>
<path d="M373.4 101.4 371.9 100 370.5 98.6 369.3 97.2 368.2 95.6 367.2 94.1 366.3 92.4 365.5 90.8 364.9 89 364.4 87.3 364 85.5 364 85.5 364.3 83.8 365.5 82.2 367.5 80.8 370 79.8 372.5 79.5 374.8 79.8 376.4 80.7 377.2 82.1 377.2 82.1 377.5 83.6 377.9 85 378.4 86.4 379 87.7 379.7 89.1 380.5 90.3 381.4 91.6 382.4 92.7 383.5 93.9 384.7 95 384.7 95 385.6 96.3 385.5 98 384.4 99.6 382.4 101.1 380 102.1 377.4 102.5 375.1 102.3 373.4 101.4Z" fill="#fff" stroke="#111" stroke-width="1.4"/>
<path d="M368.7 96.9 369.2 95.7 370.1 94.6 371.5 93.5 373.2 92.7 375 92.1 376.8 91.9 378.5 92 380 92.4 381 93.1" fill="none" stroke="#111" stroke-width="1"/>
<path d="M379.7 89.1L367.2 94.1" fill="none" stroke="#111" stroke-width="1"/>
<ellipse cx="432.5" cy="68" rx="54" ry="31.9" transform="rotate(-17 432.5 68)" fill="none" stroke="#111" stroke-width="1.4"/>
<path d="M408.1 43.9 398.7 27.8 415.3 21.2 424.7 37.2Z" fill="#fff" stroke="none"/>
<path d="M407.8 43.3L399 28.3" fill="none" stroke="#111" stroke-width="1.4"/>
<path d="M424.4 36.7L415.6 21.7" fill="none" stroke="#111" stroke-width="1.4"/>
<path d="M456.9 92.1 466.3 108.2 449.7 114.8 440.3 98.8Z" fill="#fff" stroke="none"/>
<path d="M457.2 92.7L466 107.7" fill="none" stroke="#111" stroke-width="1.4"/>
<path d="M440.6 99.3L449.4 114.3" fill="none" stroke="#111" stroke-width="1.4"/>
<ellipse cx="446" cy="92.6" rx="3.5" ry="2.1" transform="rotate(-17 446 92.6)" fill="none" stroke="#111" stroke-width="1.4"/>
<ellipse cx="432.5" cy="68" rx="28" ry="16.5" transform="rotate(-17 432.5 68)" fill="none" stroke="#111" stroke-width="1.4"/>
<ellipse cx="432.5" cy="68" rx="25" ry="14.8" transform="rotate(-17 432.5 68)" fill="none" stroke="#111" stroke-width="1.4"/>
<path d="M409.4 55.2 409.2 52.6 410.1 49.8 412.1 47 415 44.4 418.7 42.3 422.8 40.7 427.1 39.7 431.3 39.5 435.1 40 438.3 41.2 440.6 43 441.9 45.3 448.8 63 449 65.7 448 68.5 446.1 71.3 443.2 73.8 439.5 76 435.4 77.6 431.1 78.6 426.9 78.8 423.1 78.3 419.9 77.1 417.6 75.3 416.2 73Z" fill="#fff" stroke="#111" stroke-width="1.4"/>
<ellipse cx="425.7" cy="50.3" rx="17" ry="10" transform="rotate(-17 425.7 50.3)" fill="none" stroke="#111" stroke-width="1.4"/>
<ellipse cx="425.7" cy="50.3" rx="15.5" ry="9.1" transform="rotate(-17 425.7 50.3)" fill="none" stroke="#111" stroke-width="1.4"/>
<ellipse cx="425.7" cy="50.3" rx="9" ry="5.3" transform="rotate(-17 425.7 50.3)" fill="none" stroke="#111" stroke-width="1.4"/>
<ellipse cx="425.7" cy="50.3" rx="1.5" ry="0.9" transform="rotate(-17 425.7 50.3)" fill="none" stroke="#111" stroke-width="1.4"/>
<path d="M171.7 212.2 169.2 214.2 167 216.5 164.9 219 163.1 221.7 161.5 224.7 160.1 227.9 159 231.3 158.1 234.9 157.5 238.7 157.1 242.6 157 246.7 157.1 250.9 157.5 255.3 158.2 259.7 159 264.2 160.2 268.8 161.5 273.4 163.1 278 165 282.7 167 287.4 169.3 292 171.7 296.5 174.4 301.1 177.3 305.5 180.3 309.8 183.5 314 186.8 318.1 190.2 322 193.8 325.8 197.5 329.4 201.3 332.7 205.2 335.9 209.1 338.9 213.1 341.6 217.1 344.1 221.1 346.3 225.1 348.3 229.1 350 233.1 351.4 237 352.6 240.9 353.4 244.7 354 248.4 354.3 251.9 354.3 255.4 354 258.7 353.4 261.9 352.5 264.9 351.3 267.8 349.9 270.4 348.1 317.3 314 319.8 312.1 322.1 309.8 324.1 307.3 325.9 304.5 327.5 301.6 328.9 298.4 330 295 330.9 291.4 331.5 287.6 331.9 283.7 332 279.6 331.9 275.3 331.5 271 330.9 266.6 330 262.1 328.9 257.5 327.5 252.9 325.9 248.2 324.1 243.6 322 238.9 319.7 234.3 317.3 229.7 314.6 225.2 311.8 220.8 308.7 216.5 305.6 212.3 302.2 208.2 298.8 204.3 295.2 200.5 291.5 196.9 287.7 193.5 283.8 190.3 279.9 187.4 275.9 184.7 271.9 182.2 267.9 179.9 263.9 178 259.9 176.3 255.9 174.8 252 173.7 248.1 172.8 244.3 172.3 240.7 172 237.1 172 233.6 172.3 230.3 172.9 227.1 173.8 224.1 175 221.3 176.4 218.6 178.1Z" fill="#fff" stroke="#111" stroke-width="1.4"/>
<path d="M321.3 310 324.8 304.9 322.4 306.6 318.8 311.8Z" fill="none" stroke="#111" stroke-width="1"/>
<path d="M329.9 288.5 330.4 280.8 328 282.6 327.5 290.3Z" fill="none" stroke="#111" stroke-width="1"/>
<path d="M327.5 259.8 324.8 250.9 322.4 252.7 325.1 261.5Z" fill="none" stroke="#111" stroke-width="1"/>
<path d="M314.5 228.9 309.1 220.4 306.7 222.2 312.1 230.7Z" fill="none" stroke="#111" stroke-width="1"/>
<path d="M293.1 201.2 286 194.6 283.5 196.4 290.7 203Z" fill="none" stroke="#111" stroke-width="1"/>
<path d="M267.1 181.5 259.4 177.9 257 179.7 264.6 183.3Z" fill="none" stroke="#111" stroke-width="1"/>
<path d="M240.9 173.3 234 173.3 231.6 175 238.5 175Z" fill="none" stroke="#111" stroke-width="1"/>
<path d="M146.7 225.4 144.2 227.4 141.9 229.7 139.8 232.2 138 234.9 136.3 237.9 134.9 241.1 133.7 244.5 132.7 248 132 251.8 131.6 255.7 131.3 259.7 131.4 263.9 131.6 268.2 132.1 272.7 132.9 277.2 133.9 281.7 135.1 286.4 136.5 291 138.2 295.7 140.1 300.4 142.2 305.1 144.5 309.7 147.1 314.3 149.8 318.9 152.6 323.3 155.7 327.7 158.9 331.9 162.2 336 165.7 340 169.3 343.8 173 347.4 176.8 350.9 180.7 354.2 184.6 357.2 188.6 360 192.6 362.6 196.7 365 200.7 367.1 204.8 368.9 208.8 370.5 212.8 371.8 216.7 372.9 220.6 373.6 224.3 374.1 228 374.3 231.6 374.2 235.1 373.8 238.4 373.2 241.6 372.3 244.6 371.1 247.4 369.6 250.1 367.8 272.8 351.4 275.3 349.4 277.5 347.1 279.6 344.6 281.5 341.9 283.1 338.9 284.6 335.7 285.7 332.4 286.7 328.8 287.4 325 287.9 321.1 288.1 317.1 288.1 312.9 287.8 308.6 287.3 304.2 286.6 299.7 285.6 295.1 284.4 290.5 282.9 285.8 281.2 281.1 279.3 276.4 277.2 271.7 274.9 267.1 272.4 262.5 269.7 258 266.8 253.5 263.8 249.1 260.6 244.9 257.2 240.8 253.7 236.8 250.1 233 246.4 229.4 242.6 225.9 238.8 222.7 234.8 219.6 230.8 216.8 226.8 214.2 222.8 211.8 218.7 209.7 214.7 207.9 210.7 206.3 206.7 205 202.7 204 198.9 203.2 195.1 202.7 191.4 202.5 187.8 202.6 184.4 203 181 203.6 177.9 204.6 174.9 205.8 172 207.2 169.3 209Z" fill="#fff" stroke="#111" stroke-width="1.4"/>
<path d="M134.1 243.1 135.4 239.9 136.9 236.8 138.6 234 140.5 231.3 142.6 229 144.9 226.8 147.5 224.9 150.1 223.2 153 221.9 156 220.7 159.2 219.9 162.5 219.3 166 219 169.6 219 173.2 219.3 177 219.8 180.8 220.6 184.7 221.7 188.7 223 192.6 224.6 196.6 226.5 200.6 228.6 204.6 230.9 208.6 233.5 212.5 236.3 216.4 239.4 220.3 242.6 224 246 227.7 249.6 231.2 253.4 234.6 257.3 237.9 261.4 241.1 265.6 244.1 269.9 247 274.3 249.6 278.8 252.1 283.3 254.4 287.9 256.5 292.5 258.4 297.2 260.1 301.8 261.6 306.4 262.8 311 263.8 315.5 264.6 320 265.1 324.4 265.4 328.7 265.5 332.8 265.3 336.9 264.9 340.8 264.2 344.5 263.3 348.1 262.2 351.4 260.9 354.6 259.3 357.6 257.5 360.4 255.5 362.9 253.3 365.2 250.9 367.3 248.3 369.1 245.5 370.6 242.6 371.9 239.5 372.9 236.3 373.6 232.9 374.1 229.4 374.3 252.1 357.8 255.6 357.6 258.9 357.2 262.2 356.4 265.3 355.4 268.2 354.1 270.9 352.6 273.5 350.8 275.9 348.7 278.1 346.4 280.1 343.9 281.9 341.1 283.5 338.2 284.9 335 286 331.6 286.9 328 287.5 324.3 287.9 320.4 288.1 316.4 288.1 312.2 287.8 307.9 287.2 303.5 286.5 299.1 285.5 294.6 284.2 290 282.8 285.4 281.1 280.7 279.2 276.1 277.1 271.5 274.8 266.9 272.3 262.3 269.6 257.8 266.8 253.4 263.8 249.1 260.6 245 257.3 240.9 253.9 237 250.3 233.2 246.7 229.6 242.9 226.1 239.1 222.9 235.2 219.9 231.3 217.1 227.3 214.5 223.3 212.1 219.3 210 215.3 208.2 211.3 206.5 207.4 205.2 203.5 204.1 199.6 203.3 195.9 202.8 192.2 202.5 188.6 202.6 185.2 202.9 181.9 203.4 178.7 204.3 175.7 205.4 172.8 206.8 170.1 208.4 167.6 210.3 165.3 212.5 163.1 214.9 161.2 217.5 159.5 220.4 158 223.4 156.8 226.7Z" fill="#444" stroke="none"/>
<path d="M249.2 368.4L270.8 352.7L273.8 350.5L252.2 366.2ZM253.3 365.3L274.9 349.6L277.6 346.9L256 362.6ZM256.9 361.5L278.5 345.8L280.8 342.6L259.2 358.3ZM260 357L281.6 341.3L283.4 337.8L261.8 353.5ZM262.4 352L284 336.3L285.4 332.4L263.8 348.1ZM264.3 346.4L285.9 330.8L286.8 326.4L265.2 342.1ZM265.5 340.4L287.1 324.7L287.6 320.1L266 335.8ZM266.1 333.9L287.7 318.2L287.7 313.4L266.1 329ZM266 327.1L287.6 311.4L287.2 306.3L265.6 322ZM265.3 320L286.9 304.3L286 299L264.4 314.7ZM263.9 312.6L285.5 296.9L284.2 291.5L262.6 307.2ZM262 305.1L283.6 289.4L281.8 283.9L260.2 299.6ZM259.4 297.5L281 281.8L278.8 276.3L257.2 292ZM256.2 289.9L277.8 274.2L275.2 268.7L253.6 284.4ZM252.5 282.3L274.1 266.6L271.1 261.3L249.5 276.9ZM248.3 274.9L269.9 259.2L266.5 254L244.9 269.7ZM243.6 267.7L265.2 252L261.5 246.9L239.9 262.6ZM238.4 260.7L260 245L256.1 240.2L234.5 255.9ZM232.9 254.1L254.5 238.4L250.3 233.9L228.7 249.6ZM227.1 247.9L248.7 232.2L244.3 228.1L222.7 243.7ZM221 242.2L242.6 226.5L238 222.7L216.4 238.4ZM214.6 237L236.2 221.3L231.6 217.9L210 233.6ZM208.2 232.3L229.8 216.6L225.1 213.7L203.5 229.4ZM201.6 228.3L223.2 212.6L218.5 210.1L196.9 225.8ZM195 224.9L216.6 209.2L211.9 207.2L190.3 222.9ZM188.5 222.2L210.1 206.5L205.4 205.1L183.8 220.7ZM182.1 220.3L203.7 204.6L199.1 203.6L177.5 219.3ZM175.8 219L197.4 203.3L193 202.9L171.4 218.6ZM169.7 218.5L191.3 202.8L187.1 202.9L165.5 218.6ZM163.9 218.8L185.5 203.1L181.6 203.7L160 219.4ZM158.5 219.7L180.1 204.1L176.4 205.2L154.8 220.9ZM153.5 221.5L175.1 205.8L171.7 207.5L150.1 223.2ZM148.9 223.9L170.5 208.2L167.4 210.4L145.8 226.1ZM144.7 227.1L166.3 211.4L163.7 214L142.1 229.7ZM141.1 230.9L162.7 215.2L160.5 218.3L138.9 234ZM138.1 235.3L159.7 219.6L157.9 223.2L136.3 238.9ZM234.1 373.6L255.7 357.9L259.7 357.2L238.1 372.9ZM239.6 372.6L261.2 356.9L264.9 355.7L243.3 371.4ZM244.6 370.9L266.2 355.2L269.6 353.5L248 369.2Z" fill="#fff" stroke="#111" stroke-width="1.1"/>
<path d="M251.4 366.8L254.4 364.6M255.5 363.7L258.2 361M259.1 359.9L261.4 356.7M262.2 355.4L264 351.9M264.6 350.4L266 346.5M266.5 344.9L267.4 340.6M267.7 338.8L268.2 334.2M268.3 332.3L268.3 327.5M268.2 325.5L267.7 320.4M267.5 318.4L266.6 313.1M266.1 311L264.8 305.6M264.1 303.5L262.3 298M261.6 295.9L259.3 290.4M258.4 288.3L255.8 282.8M254.7 280.7L251.7 275.4M250.4 273.3L247.1 268.1M245.7 266.1L242.1 261M240.6 259.1L236.7 254.3M235.1 252.5L230.9 248M229.3 246.3L224.9 242.2M223.2 240.6L218.6 236.8M216.8 235.4L212.2 232M210.4 230.7L205.6 227.8M203.8 226.7L199.1 224.2M197.2 223.3L192.5 221.3M190.7 220.7L186 219.2M184.2 218.7L179.7 217.7M178 217.4L173.6 217M171.9 216.9L167.7 217M166.1 217.2L162.2 217.8M160.7 218.2L157 219.3M155.6 219.9L152.3 221.6M151 222.3L148 224.5M146.9 225.5L144.3 228.2M143.3 229.3L141.1 232.4M140.3 233.7L138.5 237.3M236.3 372L240.3 371.3M241.8 371L245.4 369.8M246.8 369.3L250.2 367.6" fill="none" stroke="#111" stroke-width="1.1"/>
<path d="M268.3 354.1 271 352.6 273.6 350.8 276 348.7 278.2 346.4 280.2 343.9 282 341.1 283.5 338.1 284.9 334.9 286 331.5 286.9 328 287.5 324.2 287.9 320.4 288.1 316.3 288.1 312.2 287.8 307.9 287.2 303.5 286.5 299 285.4 294.5 284.2 289.9 282.8 285.3 281.1 280.7 279.2 276.1 277.1 271.4 274.8 266.9 272.3 262.3 269.6 257.8 266.8 253.4 263.8 249.1 260.6 245 257.3 240.9 253.9 237 250.3 233.2 246.7 229.6 242.9 226.2 239.1 222.9 235.2 219.9 231.3 217.1 227.3 214.5 223.3 212.1 219.3 210 215.3 208.2 211.3 206.6 207.4 205.2 203.5 204.1 199.7 203.3 195.9 202.8 192.3 202.5 188.7 202.6 185.3 202.9 181.9 203.4 178.8 204.3 175.7 205.4 172.9 206.8 170.2 208.4 167.6 210.3 165.3 212.4" fill="none" stroke="#111" stroke-width="1.4"/>
<path d="M245.6 370.6 248.4 369 250.9 367.2 253.3 365.2 255.5 362.9 257.5 360.3 259.3 357.6 260.9 354.6 262.2 351.4 263.3 348 264.2 344.4 264.9 340.7 265.3 336.8 265.5 332.8 265.4 328.6 265.1 324.3 264.6 320 263.8 315.5 262.8 311 261.6 306.4 260.1 301.8 258.4 297.2 256.5 292.5 254.4 287.9 252.1 283.3 249.6 278.8 247 274.3 244.1 269.9 241.1 265.6 238 261.4 234.7 257.3 231.2 253.4 227.7 249.7 224 246 220.3 242.6 216.5 239.4 212.6 236.4 208.6 233.5 204.7 231 200.7 228.6 196.7 226.5 192.7 224.6 188.7 223 184.8 221.7 180.9 220.6 177 219.8 173.3 219.3 169.6 219 166.1 219 162.6 219.3 159.3 219.9 156.1 220.7 153.1 221.8 150.2 223.2 147.5 224.9 145 226.8 142.7 228.9" fill="none" stroke="#111" stroke-width="1.8"/>
<path d="M146.7 225.4 144.2 227.4 141.9 229.7 139.8 232.2 138 234.9 136.3 237.9 134.9 241.1 133.7 244.5 132.7 248 132 251.8 131.6 255.7 131.3 259.7 131.4 263.9 131.6 268.2 132.1 272.7 132.9 277.2 133.9 281.7 135.1 286.4 136.5 291 138.2 295.7 140.1 300.4 142.2 305.1 144.5 309.7 147.1 314.3 149.8 318.9 152.6 323.3 155.7 327.7 158.9 331.9 162.2 336 165.7 340 169.3 343.8 173 347.4 176.8 350.9 180.7 354.2 184.6 357.2 188.6 360 192.6 362.6 196.7 365 200.7 367.1 204.8 368.9 208.8 370.5 212.8 371.8 216.7 372.9 220.6 373.6 224.3 374.1 228 374.3 231.6 374.2 235.1 373.8 238.4 373.2 241.6 372.3 244.6 371.1 247.4 369.6 250.1 367.8" fill="none" stroke="#111" stroke-width="1.4"/>
<path d="M136.5 235.3 134 237.3 131.8 239.5 129.7 242 127.9 244.8 126.2 247.8 124.9 250.9 123.7 254.3 122.8 257.9 122.1 261.7 121.7 265.6 121.5 269.7 121.6 273.9 121.9 278.2 122.5 282.6 123.3 287.1 124.3 291.7 125.6 296.3 127.2 301 128.9 305.7 130.9 310.3 133.1 315 135.5 319.6 138.1 324.2 140.8 328.6 143.8 333 146.9 337.3 150.2 341.5 153.6 345.5 157.1 349.4 160.8 353.1 164.5 356.6 168.3 359.9 172.2 363 176.2 365.9 180.2 368.6 184.2 371 188.3 373.2 192.3 375.1 196.3 376.7 200.3 378.1 204.2 379.2 208.1 380 211.9 380.5 215.5 380.7 219.1 380.7 222.6 380.4 225.9 379.7 229.1 378.8 232.1 377.6 235 376.2 237.6 374.4 248.9 366.2 251.4 364.2 253.7 362 255.8 359.5 257.6 356.7 259.2 353.7 260.6 350.6 261.8 347.2 262.7 343.6 263.4 339.8 263.8 335.9 264 331.8 263.9 327.6 263.6 323.3 263 318.9 262.2 314.4 261.1 309.8 259.8 305.2 258.3 300.5 256.5 295.8 254.6 291.2 252.4 286.5 250 281.9 247.4 277.3 244.6 272.9 241.7 268.5 238.6 264.2 235.3 260 231.9 256 228.4 252.1 224.7 248.4 221 244.9 217.1 241.6 213.2 238.5 209.3 235.6 205.3 232.9 201.2 230.5 197.2 228.3 193.2 226.4 189.2 224.8 185.2 223.4 181.3 222.3 177.4 221.5 173.6 221 169.9 220.8 166.3 220.8 162.9 221.1 159.6 221.8 156.4 222.7 153.4 223.9 150.5 225.3 147.8 227.1Z" fill="#fff" stroke="#111" stroke-width="1.4"/>
<ellipse cx="187.1" cy="304.9" rx="86" ry="51.6" transform="rotate(54 187.1 304.9)" fill="none" stroke="#111" stroke-width="1.4"/>
<ellipse cx="187.1" cy="304.9" rx="82" ry="49.2" transform="rotate(54 187.1 304.9)" fill="none" stroke="#111" stroke-width="1.4"/>
<path d="M146.9 338.9 145.4 340.6 144.6 342.9 144.5 345.7 145.1 348.8 146.4 352.1 148.3 355.2 150.7 357.9 153.4 360.2 156.2 361.7 158.9 362.5 161.3 362.4 163.4 361.5 175.5 352.7 177 351.1 177.8 348.7 177.9 345.9 177.3 342.8 176 339.6 174.1 336.5 171.7 333.7 169 331.5 166.3 329.9 163.5 329.1 161.1 329.2 159 330.1Z" fill="#fff" stroke="#111" stroke-width="1.4"/>
<path d="M169.4 357.2 170.8 355.2 171.4 352.6 171.3 349.5 170.3 346.1 168.7 342.8 166.4 339.6 163.7 337 160.8 335.1 157.9 334 155.2 333.8 152.9 334.5" fill="none" stroke="#111" stroke-width="1"/>
<path d="M122.3 301.9 120.9 303.6 120 305.9 119.9 308.7 120.6 311.8 121.9 315.1 123.8 318.2 126.1 320.9 128.8 323.2 131.6 324.7 134.3 325.5 136.8 325.5 138.8 324.6 150.9 315.7 152.4 314.1 153.2 311.8 153.3 308.9 152.7 305.8 151.4 302.6 149.5 299.5 147.1 296.7 144.5 294.5 141.7 292.9 139 292.1 136.5 292.2 134.5 293.1Z" fill="#fff" stroke="#111" stroke-width="1.4"/>
<path d="M144.8 320.2 146.2 318.3 146.9 315.7 146.7 312.5 145.8 309.2 144.1 305.8 141.8 302.7 139.1 300 136.2 298.1 133.3 297 130.6 296.8 128.4 297.6" fill="none" stroke="#111" stroke-width="1"/>
<path d="M180.7 358.8 179.3 360.4 178.4 362.8 178.3 365.6 179 368.7 180.3 371.9 182.2 375 184.5 377.8 187.2 380 190 381.6 192.7 382.4 195.2 382.3 197.2 381.4 209.3 372.6 210.8 370.9 211.6 368.6 211.7 365.8 211.1 362.7 209.8 359.4 207.9 356.3 205.5 353.6 202.9 351.3 200.1 349.8 197.4 349 194.9 349.1 192.9 350Z" fill="#fff" stroke="#111" stroke-width="1.4"/>
<path d="M203.2 377 204.6 375.1 205.3 372.5 205.1 369.4 204.2 366 202.5 362.7 200.2 359.5 197.5 356.9 194.6 355 191.7 353.9 189 353.7 186.8 354.4" fill="none" stroke="#111" stroke-width="1"/>
<path d="M118.5 265.1 117.1 266.8 116.2 269.1 116.1 272 116.8 275.1 118.1 278.3 120 281.4 122.3 284.2 125 286.4 127.8 288 130.5 288.7 133 288.7 135 287.8 147.1 279 148.6 277.3 149.4 275 149.5 272.2 148.9 269 147.6 265.8 145.7 262.7 143.3 260 140.7 257.7 137.9 256.2 135.2 255.4 132.7 255.4 130.7 256.3Z" fill="#fff" stroke="#111" stroke-width="1.4"/>
<path d="M141 283.4 142.4 281.5 143.1 278.9 142.9 275.8 142 272.4 140.3 269 138 265.9 135.3 263.3 132.4 261.3 129.5 260.2 126.8 260 124.5 260.8" fill="none" stroke="#111" stroke-width="1"/>
<path d="M208 352.3 206.5 353.9 205.7 356.2 205.6 359.1 206.2 362.2 207.5 365.4 209.4 368.5 211.8 371.3 214.5 373.5 217.2 375.1 220 375.9 222.4 375.8 224.5 374.9 236.6 366.1 238.1 364.4 238.9 362.1 239 359.3 238.4 356.2 237.1 352.9 235.2 349.8 232.8 347.1 230.1 344.8 227.4 343.3 224.6 342.5 222.2 342.6 220.1 343.4Z" fill="#fff" stroke="#111" stroke-width="1.4"/>
<path d="M230.5 370.5 231.9 368.6 232.5 366 232.4 362.9 231.4 359.5 229.8 356.1 227.5 353 224.8 350.4 221.9 348.4 219 347.3 216.3 347.2 214 347.9" fill="none" stroke="#111" stroke-width="1"/>
<path d="M137.3 245.8 135.8 247.5 135 249.8 134.9 252.6 135.5 255.7 136.8 259 138.7 262.1 141.1 264.8 143.7 267.1 146.5 268.6 149.2 269.4 151.7 269.3 153.7 268.4 165.9 259.6 167.3 258 168.2 255.6 168.3 252.8 167.6 249.7 166.3 246.5 164.4 243.4 162.1 240.6 159.4 238.4 156.6 236.8 153.9 236 151.4 236.1 149.4 237Z" fill="#fff" stroke="#111" stroke-width="1.4"/>
<path d="M159.7 264.1 161.1 262.1 161.8 259.5 161.6 256.4 160.7 253 159 249.7 156.8 246.5 154.1 243.9 151.1 242 148.2 240.9 145.5 240.7 143.3 241.4" fill="none" stroke="#111" stroke-width="1"/>
<path d="M215.9 322.4 214.5 324.1 213.6 326.4 213.5 329.2 214.2 332.3 215.5 335.6 217.4 338.7 219.7 341.4 222.4 343.7 225.2 345.2 227.9 346 230.4 345.9 232.4 345 244.5 336.2 246 334.6 246.8 332.2 246.9 329.4 246.3 326.3 245 323.1 243.1 320 240.7 317.2 238.1 315 235.3 313.4 232.6 312.6 230.1 312.7 228.1 313.6Z" fill="#fff" stroke="#111" stroke-width="1.4"/>
<path d="M238.4 340.7 239.8 338.8 240.5 336.1 240.3 333 239.4 329.7 237.7 326.3 235.4 323.2 232.7 320.5 229.8 318.6 226.9 317.5 224.2 317.3 222 318" fill="none" stroke="#111" stroke-width="1"/>
<path d="M169.8 252.9 168.3 254.6 167.5 256.9 167.4 259.7 168 262.8 169.3 266.1 171.2 269.2 173.6 271.9 176.2 274.2 179 275.7 181.7 276.5 184.2 276.4 186.2 275.6 198.4 266.7 199.8 265.1 200.7 262.8 200.8 259.9 200.1 256.8 198.8 253.6 196.9 250.5 194.6 247.7 191.9 245.5 189.1 243.9 186.4 243.1 183.9 243.2 181.9 244.1Z" fill="#fff" stroke="#111" stroke-width="1.4"/>
<path d="M192.2 271.2 193.6 269.3 194.3 266.6 194.1 263.5 193.2 260.2 191.5 256.8 189.3 253.7 186.6 251 183.7 249.1 180.7 248 178.1 247.8 175.8 248.6" fill="none" stroke="#111" stroke-width="1"/>
<path d="M200.8 283.2 199.4 284.8 198.6 287.1 198.5 290 199.1 293.1 200.4 296.3 202.3 299.4 204.6 302.2 207.3 304.4 210.1 306 212.8 306.8 215.3 306.7 217.3 305.8 229.4 297 230.9 295.3 231.7 293 231.8 290.2 231.2 287.1 229.9 283.8 228 280.7 225.6 278 223 275.7 220.2 274.2 217.5 273.4 215 273.4 213 274.3Z" fill="#fff" stroke="#111" stroke-width="1.4"/>
<path d="M223.3 301.4 224.7 299.5 225.4 296.9 225.2 293.8 224.3 290.4 222.6 287 220.3 283.9 217.6 281.3 214.7 279.3 211.8 278.2 209.1 278.1 206.9 278.8" fill="none" stroke="#111" stroke-width="1"/>
<path d="M127.6 255.4 125.2 257.4 123 259.6 121 262.2 119.3 265 117.8 268.1 116.6 271.4 115.7 274.9 115 278.6 114.6 282.5 114.5 286.6 114.7 290.8 115.1 295.1 115.9 299.5 116.9 304 118.1 308.6 119.7 313.2 121.4 317.8 123.5 322.4 125.7 327 128.2 331.5 130.9 336 133.8 340.4 136.9 344.6 140.1 348.7 143.5 352.6 147 356.4 150.7 359.9 154.5 363.3 158.3 366.4 162.2 369.3 166.2 371.9 170.2 374.2 174.1 376.3 178.1 378.1 182.1 379.5 186 380.7 189.8 381.5 193.5 382 197.2 382.2 200.7 382.1 204 381.7 207.3 380.9 210.3 379.8 213.1 378.4 215.8 376.7 219 374.4 221.5 372.4 223.7 370.1 225.6 367.5 227.3 364.7 228.8 361.7 230 358.4 231 354.8 231.6 351.1 232 347.2 232.1 343.2 231.9 339 231.5 334.6 230.8 330.2 229.8 325.7 228.5 321.1 227 316.5 225.2 311.9 223.2 307.3 220.9 302.7 218.4 298.2 215.7 293.7 212.9 289.4 209.8 285.1 206.5 281 203.1 277.1 199.6 273.3 195.9 269.8 192.2 266.4 188.3 263.3 184.4 260.4 180.5 257.8 176.5 255.5 172.5 253.4 168.5 251.7 164.6 250.2 160.7 249 156.8 248.2 153.1 247.7 149.5 247.5 146 247.6 142.6 248.1 139.4 248.8 136.3 249.9 133.5 251.3 130.9 253Z" fill="#fff" stroke="#111" stroke-width="1.4"/>
<ellipse cx="171.7" cy="316" rx="75" ry="45" transform="rotate(54 171.7 316)" fill="none" stroke="#111" stroke-width="1.4"/>
<path d="M143.3 287.2 141 289.3 139.1 292 137.7 295.1 136.8 298.6 136.4 302.5 136.5 306.7 137.1 311.1 138.3 315.6 139.9 320.2 142 324.8 144.5 329.3 147.4 333.7 150.7 337.8 154.2 341.6 157.9 345 161.8 348 165.8 350.5 169.7 352.4 173.7 353.8 177.5 354.6 181.1 354.9 184.5 354.5 187.6 353.5 190.4 351.9 195.2 348.4 197.5 346.3 199.4 343.6 200.9 340.5 201.8 337 202.2 333.1 202.1 328.9 201.4 324.5 200.3 320 198.6 315.4 196.5 310.8 194 306.3 191.1 301.9 187.9 297.8 184.4 294 180.6 290.6 176.8 287.6 172.8 285.1 168.8 283.2 164.9 281.8 161 281 157.4 280.7 154 281.1 150.9 282.1 148.2 283.7Z" fill="#fff" stroke="#111" stroke-width="1.4"/>
<ellipse cx="166.8" cy="319.6" rx="40" ry="24" transform="rotate(54 166.8 319.6)" fill="none" stroke="#111" stroke-width="1.4"/>
<ellipse cx="166.8" cy="319.6" rx="36" ry="21.6" transform="rotate(54 166.8 319.6)" fill="none" stroke="#111" stroke-width="1.4"/>
<path d="M137 340.5 135 342.7 133.9 345.8 133.8 349.5 134.6 353.7 136.4 357.9 138.9 362 142 365.7 145.5 368.6 149.2 370.7 152.8 371.7 156 371.6 158.7 370.5 162.8 367.5 164.7 365.3 165.8 362.3 165.9 358.5 165.1 354.4 163.4 350.1 160.9 346 157.8 342.4 154.2 339.4 150.6 337.4 147 336.3 143.7 336.4 141 337.6Z" fill="#fff" stroke="#111" stroke-width="1.9"/>
<ellipse cx="147.9" cy="355.5" rx="18.5" ry="11.1" transform="rotate(54 147.9 355.5)" fill="none" stroke="#111" stroke-width="1.9"/>
<path d="M131.2 342.8 129.1 345.2 128 348.5 127.8 352.6 128.7 357 130.6 361.7 133.3 366.1 136.7 370 140.5 373.2 144.4 375.5 148.3 376.6 151.8 376.5 154.8 375.2 159.6 371.7 161.7 369.3 162.9 366 163 362 162.1 357.5 160.3 352.9 157.6 348.5 154.2 344.5 150.4 341.3 146.4 339.1 142.5 338 139 338 136.1 339.3Z" fill="#fff" stroke="#111" stroke-width="2.3"/>
<ellipse cx="143" cy="359" rx="20" ry="12" transform="rotate(54 143 359)" fill="none" stroke="#111" stroke-width="2.3"/>
<ellipse cx="143" cy="359" rx="14" ry="8.4" transform="rotate(54 143 359)" fill="none" stroke="#111" stroke-width="1.4"/>
<ellipse cx="143" cy="359" rx="1.8" ry="1.1" transform="rotate(54 143 359)" fill="none" stroke="#111" stroke-width="1.4"/>
<path d="M112.4 303.6 110.5 305.8 109.4 308.8 109.3 312.6 110.1 316.7 111.8 321 114.3 325.1 117.4 328.7 121 331.7 124.6 333.7 128.2 334.8 131.5 334.7 134.2 333.5 138.2 330.6 140.2 328.4 141.2 325.3 141.4 321.6 140.5 317.4 138.8 313.2 136.3 309.1 133.2 305.4 129.7 302.5 126 300.4 122.4 299.4 119.2 299.4 116.5 300.6Z" fill="#fff" stroke="#111" stroke-width="1.9"/>
<ellipse cx="123.3" cy="318.5" rx="18.5" ry="11.1" transform="rotate(54 123.3 318.5)" fill="none" stroke="#111" stroke-width="1.9"/>
<path d="M106.7 305.9 104.6 308.2 103.4 311.6 103.3 315.6 104.2 320.1 106 324.7 108.7 329.1 112.1 333.1 115.9 336.3 119.9 338.5 123.8 339.6 127.3 339.5 130.2 338.2 135 334.7 137.2 332.3 138.3 329 138.5 325 137.6 320.5 135.7 315.9 133 311.5 129.6 307.5 125.8 304.3 121.8 302.1 118 301 114.4 301.1 111.5 302.3Z" fill="#fff" stroke="#111" stroke-width="2.3"/>
<ellipse cx="118.4" cy="322.1" rx="20" ry="12" transform="rotate(54 118.4 322.1)" fill="none" stroke="#111" stroke-width="2.3"/>
<ellipse cx="118.4" cy="322.1" rx="14" ry="8.4" transform="rotate(54 118.4 322.1)" fill="none" stroke="#111" stroke-width="1.4"/>
<ellipse cx="118.4" cy="322.1" rx="1.8" ry="1.1" transform="rotate(54 118.4 322.1)" fill="none" stroke="#111" stroke-width="1.4"/>
<path d="M170.8 360.4 168.9 362.6 167.8 365.7 167.6 369.4 168.5 373.6 170.2 377.8 172.7 381.9 175.8 385.6 179.3 388.5 183 390.6 186.6 391.6 189.9 391.5 192.6 390.4 196.6 387.4 198.6 385.2 199.6 382.1 199.8 378.4 198.9 374.3 197.2 370 194.7 365.9 191.6 362.3 188.1 359.3 184.4 357.3 180.8 356.2 177.6 356.3 174.9 357.5Z" fill="#fff" stroke="#111" stroke-width="1.9"/>
<ellipse cx="181.7" cy="375.4" rx="18.5" ry="11.1" transform="rotate(54 181.7 375.4)" fill="none" stroke="#111" stroke-width="1.9"/>
<path d="M165.1 362.7 163 365.1 161.8 368.4 161.7 372.5 162.5 376.9 164.4 381.5 167.1 386 170.5 389.9 174.3 393.1 178.3 395.3 182.2 396.5 185.7 396.4 188.6 395.1 193.4 391.6 195.6 389.2 196.7 385.9 196.9 381.8 196 377.4 194.1 372.8 191.4 368.3 188 364.4 184.2 361.2 180.2 359 176.4 357.8 172.8 357.9 169.9 359.2Z" fill="#fff" stroke="#111" stroke-width="2.3"/>
<ellipse cx="176.8" cy="378.9" rx="20" ry="12" transform="rotate(54 176.8 378.9)" fill="none" stroke="#111" stroke-width="2.3"/>
<ellipse cx="176.8" cy="378.9" rx="14" ry="8.4" transform="rotate(54 176.8 378.9)" fill="none" stroke="#111" stroke-width="1.4"/>
<ellipse cx="176.8" cy="378.9" rx="1.8" ry="1.1" transform="rotate(54 176.8 378.9)" fill="none" stroke="#111" stroke-width="1.4"/>
<path d="M108.6 266.8 106.7 269 105.6 272.1 105.4 275.8 106.3 279.9 108 284.2 110.5 288.3 113.6 291.9 117.1 294.9 120.8 297 124.4 298 127.7 297.9 130.4 296.7 134.4 293.8 136.4 291.6 137.4 288.5 137.6 284.8 136.7 280.7 135 276.4 132.5 272.3 129.4 268.6 125.9 265.7 122.2 263.6 118.6 262.6 115.3 262.7 112.7 263.9Z" fill="#fff" stroke="#111" stroke-width="1.9"/>
<ellipse cx="119.5" cy="281.8" rx="18.5" ry="11.1" transform="rotate(54 119.5 281.8)" fill="none" stroke="#111" stroke-width="1.9"/>
<path d="M102.9 269.1 100.8 271.5 99.6 274.8 99.5 278.8 100.3 283.3 102.2 287.9 104.9 292.3 108.3 296.3 112.1 299.5 116.1 301.7 120 302.8 123.5 302.7 126.4 301.5 131.2 297.9 133.4 295.6 134.5 292.2 134.7 288.2 133.8 283.7 131.9 279.1 129.2 274.7 125.8 270.8 122 267.6 118 265.3 114.2 264.2 110.6 264.3 107.7 265.6Z" fill="#fff" stroke="#111" stroke-width="2.3"/>
<ellipse cx="114.6" cy="285.3" rx="20" ry="12" transform="rotate(54 114.6 285.3)" fill="none" stroke="#111" stroke-width="2.3"/>
<ellipse cx="114.6" cy="285.3" rx="14" ry="8.4" transform="rotate(54 114.6 285.3)" fill="none" stroke="#111" stroke-width="1.4"/>
<ellipse cx="114.6" cy="285.3" rx="1.8" ry="1.1" transform="rotate(54 114.6 285.3)" fill="none" stroke="#111" stroke-width="1.4"/>
<path d="M198.1 353.9 196.1 356.1 195 359.2 194.9 362.9 195.7 367 197.5 371.3 200 375.4 203.1 379.1 206.6 382 210.3 384.1 213.9 385.1 217.1 385 219.8 383.8 223.9 380.9 225.8 378.7 226.9 375.6 227 371.9 226.2 367.8 224.5 363.5 222 359.4 218.9 355.8 215.3 352.8 211.7 350.7 208.1 349.7 204.8 349.8 202.1 351Z" fill="#fff" stroke="#111" stroke-width="1.9"/>
<ellipse cx="208.9" cy="368.9" rx="18.5" ry="11.1" transform="rotate(54 208.9 368.9)" fill="none" stroke="#111" stroke-width="1.9"/>
<path d="M192.3 356.2 190.2 358.6 189.1 361.9 188.9 365.9 189.8 370.4 191.7 375 194.4 379.5 197.8 383.4 201.6 386.6 205.5 388.8 209.4 389.9 212.9 389.9 215.9 388.6 220.7 385.1 222.8 382.7 224 379.4 224.1 375.3 223.2 370.9 221.4 366.2 218.7 361.8 215.3 357.9 211.5 354.7 207.5 352.4 203.6 351.3 200.1 351.4 197.2 352.7Z" fill="#fff" stroke="#111" stroke-width="2.3"/>
<ellipse cx="204.1" cy="372.4" rx="20" ry="12" transform="rotate(54 204.1 372.4)" fill="none" stroke="#111" stroke-width="2.3"/>
<ellipse cx="204.1" cy="372.4" rx="14" ry="8.4" transform="rotate(54 204.1 372.4)" fill="none" stroke="#111" stroke-width="1.4"/>
<ellipse cx="204.1" cy="372.4" rx="1.8" ry="1.1" transform="rotate(54 204.1 372.4)" fill="none" stroke="#111" stroke-width="1.4"/>
<path d="M127.3 247.4 125.4 249.6 124.3 252.7 124.2 256.4 125 260.6 126.7 264.8 129.2 268.9 132.4 272.6 135.9 275.5 139.6 277.6 143.1 278.6 146.4 278.5 149.1 277.4 153.1 274.4 155.1 272.2 156.2 269.2 156.3 265.4 155.5 261.3 153.7 257 151.2 252.9 148.1 249.3 144.6 246.3 140.9 244.3 137.3 243.2 134.1 243.3 131.4 244.5Z" fill="#fff" stroke="#111" stroke-width="1.9"/>
<ellipse cx="138.2" cy="262.4" rx="18.5" ry="11.1" transform="rotate(54 138.2 262.4)" fill="none" stroke="#111" stroke-width="1.9"/>
<path d="M121.6 249.7 119.5 252.1 118.3 255.4 118.2 259.5 119.1 263.9 120.9 268.6 123.7 273 127 276.9 130.8 280.1 134.8 282.4 138.7 283.5 142.2 283.4 145.1 282.1 150 278.6 152.1 276.2 153.3 272.9 153.4 268.9 152.5 264.4 150.6 259.8 147.9 255.4 144.6 251.4 140.7 248.2 136.8 246 132.9 244.9 129.4 244.9 126.5 246.2Z" fill="#fff" stroke="#111" stroke-width="2.3"/>
<ellipse cx="133.4" cy="265.9" rx="20" ry="12" transform="rotate(54 133.4 265.9)" fill="none" stroke="#111" stroke-width="2.3"/>
<ellipse cx="133.4" cy="265.9" rx="14" ry="8.4" transform="rotate(54 133.4 265.9)" fill="none" stroke="#111" stroke-width="1.4"/>
<ellipse cx="133.4" cy="265.9" rx="1.8" ry="1.1" transform="rotate(54 133.4 265.9)" fill="none" stroke="#111" stroke-width="1.4"/>
<path d="M206 324 204.1 326.2 203 329.3 202.9 333 203.7 337.2 205.4 341.4 207.9 345.5 211 349.2 214.6 352.1 218.2 354.2 221.8 355.2 225.1 355.2 227.8 354 231.8 351 233.8 348.8 234.8 345.8 235 342 234.1 337.9 232.4 333.6 229.9 329.5 226.8 325.9 223.3 322.9 219.6 320.9 216 319.9 212.8 319.9 210.1 321.1Z" fill="#fff" stroke="#111" stroke-width="1.9"/>
<ellipse cx="216.9" cy="339" rx="18.5" ry="11.1" transform="rotate(54 216.9 339)" fill="none" stroke="#111" stroke-width="1.9"/>
<path d="M200.3 326.4 198.2 328.7 197 332.1 196.9 336.1 197.8 340.6 199.6 345.2 202.3 349.6 205.7 353.5 209.5 356.7 213.5 359 217.4 360.1 220.9 360 223.8 358.7 228.6 355.2 230.8 352.8 231.9 349.5 232.1 345.5 231.2 341 229.3 336.4 226.6 332 223.2 328 219.4 324.8 215.4 322.6 211.6 321.5 208 321.6 205.1 322.8Z" fill="#fff" stroke="#111" stroke-width="2.3"/>
<ellipse cx="212" cy="342.5" rx="20" ry="12" transform="rotate(54 212 342.5)" fill="none" stroke="#111" stroke-width="2.3"/>
<ellipse cx="212" cy="342.5" rx="14" ry="8.4" transform="rotate(54 212 342.5)" fill="none" stroke="#111" stroke-width="1.4"/>
<ellipse cx="212" cy="342.5" rx="1.8" ry="1.1" transform="rotate(54 212 342.5)" fill="none" stroke="#111" stroke-width="1.4"/>
<path d="M159.8 254.6 157.9 256.8 156.8 259.8 156.7 263.5 157.5 267.7 159.2 271.9 161.7 276 164.9 279.7 168.4 282.7 172.1 284.7 175.7 285.7 178.9 285.7 181.6 284.5 185.6 281.5 187.6 279.3 188.7 276.3 188.8 272.5 188 268.4 186.3 264.2 183.7 260.1 180.6 256.4 177.1 253.4 173.4 251.4 169.8 250.4 166.6 250.4 163.9 251.6Z" fill="#fff" stroke="#111" stroke-width="1.9"/>
<ellipse cx="170.7" cy="269.5" rx="18.5" ry="11.1" transform="rotate(54 170.7 269.5)" fill="none" stroke="#111" stroke-width="1.9"/>
<path d="M154.1 256.9 152 259.2 150.8 262.6 150.7 266.6 151.6 271.1 153.4 275.7 156.2 280.1 159.5 284 163.3 287.2 167.3 289.5 171.2 290.6 174.7 290.5 177.6 289.2 182.5 285.7 184.6 283.3 185.8 280 185.9 276 185 271.5 183.1 266.9 180.4 262.5 177.1 258.5 173.3 255.3 169.3 253.1 165.4 252 161.9 252.1 159 253.3Z" fill="#fff" stroke="#111" stroke-width="2.3"/>
<ellipse cx="165.9" cy="273" rx="20" ry="12" transform="rotate(54 165.9 273)" fill="none" stroke="#111" stroke-width="2.3"/>
<ellipse cx="165.9" cy="273" rx="14" ry="8.4" transform="rotate(54 165.9 273)" fill="none" stroke="#111" stroke-width="1.4"/>
<ellipse cx="165.9" cy="273" rx="1.8" ry="1.1" transform="rotate(54 165.9 273)" fill="none" stroke="#111" stroke-width="1.4"/>
<path d="M190.9 284.8 189 287 187.9 290.1 187.8 293.8 188.6 297.9 190.3 302.2 192.8 306.3 195.9 309.9 199.5 312.9 203.1 315 206.7 316 210 315.9 212.7 314.7 216.7 311.8 218.7 309.6 219.7 306.5 219.9 302.8 219.1 298.7 217.3 294.4 214.8 290.3 211.7 286.7 208.2 283.7 204.5 281.6 200.9 280.6 197.7 280.7 195 281.9Z" fill="#fff" stroke="#111" stroke-width="1.9"/>
<ellipse cx="201.8" cy="299.8" rx="18.5" ry="11.1" transform="rotate(54 201.8 299.8)" fill="none" stroke="#111" stroke-width="1.9"/>
<path d="M185.2 287.1 183.1 289.5 181.9 292.8 181.8 296.8 182.7 301.3 184.5 305.9 187.2 310.4 190.6 314.3 194.4 317.5 198.4 319.7 202.3 320.8 205.8 320.8 208.7 319.5 213.5 316 215.7 313.6 216.8 310.3 217 306.2 216.1 301.8 214.2 297.1 211.5 292.7 208.1 288.8 204.3 285.6 200.3 283.3 196.5 282.2 193 282.3 190 283.6Z" fill="#fff" stroke="#111" stroke-width="2.3"/>
<ellipse cx="196.9" cy="303.3" rx="20" ry="12" transform="rotate(54 196.9 303.3)" fill="none" stroke="#111" stroke-width="2.3"/>
<ellipse cx="196.9" cy="303.3" rx="14" ry="8.4" transform="rotate(54 196.9 303.3)" fill="none" stroke="#111" stroke-width="1.4"/>
<ellipse cx="196.9" cy="303.3" rx="1.8" ry="1.1" transform="rotate(54 196.9 303.3)" fill="none" stroke="#111" stroke-width="1.4"/>
<path d="M113.5 331.2 111.3 333.5 110 336.8 109.6 340.8 110.3 345.2 111.8 349.9 114.2 354.5 117.4 358.8 121 362.5 125 365.4 129 367.4 132.9 368.3 136.4 368.1 139.3 366.7 179.8 337.4 182 335 183.3 331.7 183.6 327.7 183 323.3 181.4 318.6 179 314 175.9 309.7 172.2 306 168.3 303.1 164.2 301.1 160.4 300.2 156.8 300.4 153.9 301.8Z" fill="#fff" stroke="#111" stroke-width="1.4"/>
<path d="M110.3 335.6 112 332.5 114.5 330.5 117.8 329.6 121.5 329.8 125.6 331.2 129.7 333.7 133.6 337.1 137.1 341.2 139.9 345.8 141.9 350.5 143 355.2 143.1 359.5 142.1 363.2 140.3 366 137.5 367.7 134.1 368.4 174.6 339 178 338.3 180.7 336.6 182.6 333.8 183.5 330.1 183.4 325.8 182.4 321.1 180.4 316.4 177.5 311.8 174 307.7 170.1 304.3 166 301.8 162 300.4 158.2 300.2 155 301.1 152.4 303.2 150.8 306.2Z" fill="#1a1a1a" stroke="none"/>
<path d="M138.5 367.1L177.9 338.5L180.6 336.5L141.2 365.2ZM142 364.1L181.4 335.5L182.8 332.1L143.4 360.8ZM143.7 359.2L183.1 330.6L183.1 326.3L143.7 354.9ZM143.4 353.1L182.8 324.4L181.3 319.6L141.9 348.2ZM141.1 346.3L180.5 317.7L177.7 313L138.3 341.6ZM137.1 339.9L176.5 311.2L172.8 307.2L133.4 335.8ZM131.9 334.4L171.3 305.8L167.1 302.9L127.7 331.5ZM126.1 330.7L165.5 302.1L161.4 300.7L122 329.3ZM120.4 329.1L159.8 300.5L156.2 300.8L116.8 329.4ZM115.6 329.8L154.9 301.2L152.3 303.2L112.9 331.8Z" fill="#fff" stroke="#111" stroke-width="1.2"/>
<path d="M178.6 338 181.1 336.1 182.8 333.2 183.6 329.6 183.4 325.4 182.3 320.8 180.3 316.2 177.5 311.8 174.2 307.8 170.4 304.5 166.4 302 162.5 300.6 158.8 300.2 155.5 300.9 152.9 302.6" fill="none" stroke="#111" stroke-width="1.4"/>
<path d="M138.2 367.4 140.7 365.5 142.4 362.6 143.1 359 142.9 354.8 141.8 350.2 139.8 345.6 137.1 341.2 133.7 337.2 129.9 333.9 126 331.4 122 329.9 118.3 329.5 115.1 330.3 112.5 332" fill="none" stroke="#111" stroke-width="1.8"/>
<path d="M113.5 331.2 111.3 333.5 110 336.8 109.6 340.8 110.3 345.2 111.8 349.9 114.2 354.5 117.4 358.8 121 362.5 125 365.4 129 367.4 132.9 368.3 136.4 368.1 139.3 366.7" fill="none" stroke="#111" stroke-width="1.4"/>
<path d="M102.3 329.4 100 331.6 98.4 334.5 97.4 337.9 97.1 341.9 97.4 346.2 98.5 350.7 100.2 355.3 102.5 359.9 105.4 364.2 108.6 368.3 112.3 371.9 116.1 375 120.1 377.4 124.1 379 127.9 380 131.5 380.1 134.8 379.4 137.6 377.9 144 373.2 146.3 371 147.9 368.1 148.9 364.7 149.3 360.7 148.9 356.4 147.8 351.9 146.1 347.3 143.8 342.7 141 338.4 137.7 334.3 134 330.7 130.2 327.7 126.2 325.2 122.2 323.6 118.4 322.6 114.8 322.5 111.6 323.2 108.8 324.7Z" fill="#fff" stroke="#111" stroke-width="1.4"/>
<ellipse cx="119.9" cy="353.7" rx="30" ry="18" transform="rotate(54 119.9 353.7)" fill="none" stroke="#111" stroke-width="1.4"/>
<ellipse cx="122.3" cy="351.9" rx="30" ry="18" transform="rotate(54 122.3 351.9)" fill="none" stroke="#111" stroke-width="1.4"/>
<path d="M61 364.4 58.7 366.7 57.1 369.9 56.5 373.8 56.6 378.1 57.7 382.8 59.5 387.6 62.1 392.3 65.3 396.7 69 400.6 72.9 403.9 77.1 406.3 81.2 407.8 85.1 408.3 88.6 407.9 91.5 406.4 135.2 374.7 137.5 372.3 139 369.1 139.7 365.3 139.5 360.9 138.5 356.2 136.6 351.4 134.1 346.7 130.9 342.3 127.2 338.4 123.2 335.2 119.1 332.8 115 331.2 111.1 330.7 107.6 331.2 104.6 332.6Z" fill="#fff" stroke="#111" stroke-width="1.4"/>
<ellipse cx="76.2" cy="385.4" rx="26" ry="15.6" transform="rotate(54 76.2 385.4)" fill="none" stroke="#111" stroke-width="1.4"/>
<path d="M124.1 382.7 126.3 380.3 127.8 377.1 128.4 373.3 128.2 368.9 127.1 364.3 125.3 359.6 122.7 354.9 119.6 350.6 115.9 346.7 112 343.5 107.9 341.1 103.9 339.5 100 338.9 96.5 339.3 93.6 340.7" fill="none" stroke="#111" stroke-width="2.4"/>
<path d="M38.6 388 36.5 390.4 35.3 393.7 35.2 397.7 36.1 402.2 37.9 406.8 40.6 411.3 44 415.2 47.8 418.4 51.8 420.6 55.7 421.7 59.2 421.7 62.1 420.4 85.6 403.3 87.7 401 88.8 397.6 89 393.6 88.1 389.1 86.2 384.5 83.5 380.1 80.1 376.2 76.3 373 72.4 370.7 68.5 369.6 65 369.7 62.1 371Z" fill="#fff" stroke="#111" stroke-width="1.4"/>
<path d="M35.7 392 37.4 389.1 39.9 387.3 43.1 386.6 46.9 387.1 50.9 388.7 54.8 391.5 58.4 395.1 61.5 399.3 63.8 403.9 65.2 408.5 65.6 412.8 64.9 416.5 63.2 419.4 60.7 421.2 57.4 421.9 80.9 404.8 84.1 404.1 86.7 402.3 88.4 399.5 89 395.8 88.7 391.5 87.3 386.9 85 382.3 81.9 378 78.3 374.4 74.3 371.7 70.3 370 66.6 369.5 63.4 370.2 60.8 372.1 59.2 375Z" fill="#1a1a1a" stroke="none"/>
<path d="M61.5 420.6L83.9 404.3L86.2 402.7L63.8 419ZM64.9 417.4L87.4 401.1L88.4 398.1L66 414.4ZM66.2 412.1L88.6 395.8L88.3 391.9L65.9 408.2ZM65.2 405.5L87.6 389.2L85.9 385.1L63.5 401.3ZM62 398.6L84.4 382.3L81.7 378.5L59.3 394.8ZM57.1 392.6L79.6 376.3L76.1 373.4L53.7 389.7ZM51.3 388.2L73.7 371.9L70.2 370.4L47.8 386.7ZM45.5 386.2L67.9 369.9L64.7 370L42.3 386.2ZM40.5 386.8L62.9 370.6L60.6 372.2L38.2 388.5Z" fill="#fff" stroke="#111" stroke-width="1.2"/>
<path d="M61.2 419.1 61.6 418.8 63 419.6 63.4 419.2 63.8 418.7 64.1 418.2 64.4 417.6 63.5 416 63.8 415.5 63.9 414.9 65.3 415.1 65.4 414.5 65.5 413.7 65.6 413 65.6 412.2 64.4 410.9 64.3 410.1 64.2 409.4 65.3 409 65.1 408.2 64.9 407.3 64.7 406.5 64.5 405.6 63 404.7 62.7 403.9 62.4 403.1 63 402.1 62.6 401.3 62.2 400.4 61.7 399.6 61.2 398.8 59.8 398.5 59.3 397.7 58.7 397 58.9 395.6 58.2 394.9 57.6 394.1 56.9 393.4 56.2 392.8 55.1 393.1 54.5 392.5 53.8 392 53.4 390.4 52.6 389.8 51.9 389.3 51.1 388.9 50.4 388.5 49.7 389.4 49 389.1 48.3 388.8 47.4 387.2 46.7 387 46 386.8 45.3 386.7 44.6 386.6 44.4 388 43.8 388 43.2 388 41.9 386.7 41.3 386.8 40.7 387 40.1 387.2 39.6 387.4 40 389 39.5 389.3 39.1 389.7 37.7 388.8 37.3 389.2 36.9 389.7 36.6 390.2 36.3 390.8 37.2 392.4 36.9 392.9 36.8 393.5 35.4 393.3 35.3 393.9 35.2 394.7 35.1 395.4 35.1 396.2 36.3 397.5 36.4 398.3 36.5 399 35.4 399.4 35.5 400.2 35.7 401.1 36 401.9 36.2 402.8 37.6 403.7 38 404.5 38.3 405.3 37.6 406.3 38.1 407.1 38.5 408 39 408.8 39.5 409.6 40.9 410 41.4 410.7 42 411.4 41.8 412.8 42.5 413.6 43.1 414.3 43.8 415 44.5 415.6 45.6 415.3 46.2 415.9 46.9 416.4 47.3 418.1 48.1 418.6 48.8 419.1 49.6 419.5 50.3 419.9 51 419 51.7 419.3 52.4 419.6 53.3 421.2 54 421.4 54.7 421.6 55.4 421.7 56.1 421.8 56.3 420.4 56.9 420.4 57.5 420.4 58.8 421.7 59.4 421.6 60 421.4 60.6 421.2 61.1 421 60.7 419.4 61.2 419.1Z" fill="#fff" stroke="#111" stroke-width="1.4"/>
<path d="M650.5 349.2 649.8 349.8 649.4 350.6 649.3 351.6 649.4 352.7 649.7 353.9 650.3 355.1 651 356.2 651.9 357 652.9 357.7 653.8 358 654.7 358.1 655.5 357.8 686.6 339.5 687.2 339 687.6 338.2 687.7 337.1 687.6 336 687.3 334.8 686.7 333.6 686 332.6 685.1 331.7 684.1 331.1 683.2 330.7 682.3 330.7 681.5 330.9Z" fill="#fff" stroke="#111" stroke-width="1.2"/>
<path d="M654.6 358.1 655.7 357.7 656.5 356.7 656.7 355.3 656.5 353.6 655.7 351.9 654.6 350.4 653.3 349.4 651.9 348.9 650.7 349.1 649.8 349.9M657 356.7 658.1 356.3 658.8 355.3 659.1 353.9 658.8 352.2 658.1 350.5 657 349 655.6 348 654.3 347.5 653.1 347.7 652.2 348.5M659.4 355.3 660.5 354.9 661.2 353.9 661.5 352.4 661.2 350.8 660.5 349.1 659.4 347.6 658 346.6 656.7 346.1 655.4 346.3 654.5 347M661.8 353.9 662.9 353.5 663.6 352.5 663.9 351 663.6 349.4 662.9 347.7 661.8 346.2 660.4 345.2 659 344.7 657.8 344.9 656.9 345.6M664.2 352.5 665.3 352.1 666 351.1 666.3 349.6 666 348 665.3 346.3 664.1 344.8 662.8 343.8 661.4 343.3 660.2 343.5 659.3 344.2M666.6 351.1 667.7 350.7 668.4 349.7 668.6 348.2 668.4 346.6 667.6 344.9 666.5 343.4 665.2 342.4 663.8 341.9 662.6 342.1 661.7 342.8M668.9 349.7 670 349.2 670.8 348.3 671 346.8 670.8 345.2 670 343.5 668.9 342 667.6 341 666.2 340.5 665 340.7 664.1 341.4M671.3 348.2 672.4 347.8 673.2 346.9 673.4 345.4 673.2 343.7 672.4 342.1 671.3 340.6 670 339.6 668.6 339.1 667.4 339.2 666.5 340M673.7 346.8 674.8 346.4 675.6 345.4 675.8 344 675.5 342.3 674.8 340.7 673.7 339.2 672.4 338.2 671 337.7 669.8 337.8 668.9 338.6M676.1 345.4 677.2 345 677.9 344 678.2 342.6 677.9 340.9 677.2 339.3 676.1 337.8 674.7 336.7 673.4 336.3 672.1 336.4 671.2 337.2M678.5 344 679.6 343.6 680.3 342.6 680.6 341.2 680.3 339.5 679.6 337.8 678.5 336.4 677.1 335.3 675.8 334.9 674.5 335 673.6 335.8M680.9 342.6 682 342.2 682.7 341.2 683 339.8 682.7 338.1 682 336.4 680.8 335 679.5 333.9 678.1 333.5 676.9 333.6 676 334.4M683.3 341.2 684.4 340.8 685.1 339.8 685.3 338.4 685.1 336.7 684.3 335 683.2 333.6 681.9 332.5 680.5 332.1 679.3 332.2 678.4 333M685.6 339.8 686.8 339.4 687.5 338.4 687.7 337 687.5 335.3 686.7 333.6 685.6 332.2 684.3 331.1 682.9 330.7 681.7 330.8 680.8 331.6" fill="none" stroke="#111" stroke-width="1.6"/>
<ellipse cx="653" cy="353.5" rx="5" ry="3.1" transform="rotate(59.5 653 353.5)" fill="#fff" stroke="#111" stroke-width="1.6"/>
<ellipse cx="653" cy="353.5" rx="3" ry="1.9" transform="rotate(59.5 653 353.5)" fill="#333" stroke="none"/>
<path d="M638.5 327.9 637.8 328.5 637.4 329.3 637.3 330.3 637.4 331.4 637.7 332.6 638.3 333.8 639 334.9 639.9 335.7 640.9 336.4 641.8 336.7 642.7 336.8 643.5 336.5 674.6 318.2 675.2 317.7 675.6 316.9 675.7 315.8 675.6 314.7 675.3 313.5 674.7 312.3 674 311.3 673.1 310.4 672.1 309.8 671.2 309.4 670.3 309.4 669.5 309.6Z" fill="#fff" stroke="#111" stroke-width="1.2"/>
<path d="M642.6 336.8 643.7 336.4 644.5 335.4 644.7 334 644.5 332.3 643.7 330.6 642.6 329.1 641.3 328.1 639.9 327.6 638.7 327.8 637.8 328.6M645 335.4 646.1 335 646.8 334 647.1 332.6 646.8 330.9 646.1 329.2 645 327.7 643.6 326.7 642.3 326.2 641.1 326.4 640.2 327.2M647.4 334 648.5 333.6 649.2 332.6 649.5 331.1 649.2 329.5 648.5 327.8 647.4 326.3 646 325.3 644.7 324.8 643.4 325 642.5 325.7M649.8 332.6 650.9 332.2 651.6 331.2 651.9 329.7 651.6 328.1 650.9 326.4 649.8 324.9 648.4 323.9 647 323.4 645.8 323.6 644.9 324.3M652.2 331.2 653.3 330.8 654 329.8 654.3 328.3 654 326.7 653.3 325 652.1 323.5 650.8 322.5 649.4 322 648.2 322.2 647.3 322.9M654.6 329.8 655.7 329.4 656.4 328.4 656.6 326.9 656.4 325.3 655.6 323.6 654.5 322.1 653.2 321.1 651.8 320.6 650.6 320.8 649.7 321.5M656.9 328.4 658 327.9 658.8 327 659 325.5 658.8 323.9 658 322.2 656.9 320.7 655.6 319.7 654.2 319.2 653 319.4 652.1 320.1M659.3 326.9 660.4 326.5 661.2 325.6 661.4 324.1 661.2 322.4 660.4 320.8 659.3 319.3 658 318.3 656.6 317.8 655.4 317.9 654.5 318.7M661.7 325.5 662.8 325.1 663.6 324.1 663.8 322.7 663.5 321 662.8 319.4 661.7 317.9 660.4 316.9 659 316.4 657.8 316.5 656.9 317.3M664.1 324.1 665.2 323.7 665.9 322.7 666.2 321.3 665.9 319.6 665.2 318 664.1 316.5 662.7 315.4 661.4 315 660.1 315.1 659.2 315.9M666.5 322.7 667.6 322.3 668.3 321.3 668.6 319.9 668.3 318.2 667.6 316.5 666.5 315.1 665.1 314 663.8 313.6 662.5 313.7 661.6 314.5M668.9 321.3 670 320.9 670.7 319.9 671 318.5 670.7 316.8 670 315.1 668.8 313.7 667.5 312.6 666.1 312.2 664.9 312.3 664 313.1M671.3 319.9 672.4 319.5 673.1 318.5 673.3 317.1 673.1 315.4 672.3 313.7 671.2 312.3 669.9 311.2 668.5 310.8 667.3 310.9 666.4 311.7M673.6 318.5 674.8 318.1 675.5 317.1 675.7 315.7 675.5 314 674.7 312.3 673.6 310.9 672.3 309.8 670.9 309.4 669.7 309.5 668.8 310.3" fill="none" stroke="#111" stroke-width="1.6"/>
<ellipse cx="641" cy="332.2" rx="5" ry="3.1" transform="rotate(59.5 641 332.2)" fill="#fff" stroke="#111" stroke-width="1.6"/>
<ellipse cx="641" cy="332.2" rx="3" ry="1.9" transform="rotate(59.5 641 332.2)" fill="#333" stroke="none"/>
<path d="M671.7 365.2 671 365.8 670.6 366.6 670.5 367.6 670.6 368.7 670.9 369.9 671.5 371.1 672.2 372.2 673.1 373 674.1 373.7 675 374 675.9 374.1 676.7 373.8 707.8 355.5 708.4 355 708.8 354.2 708.9 353.1 708.8 352 708.5 350.8 707.9 349.6 707.2 348.6 706.3 347.7 705.3 347.1 704.4 346.7 703.5 346.7 702.7 346.9Z" fill="#fff" stroke="#111" stroke-width="1.2"/>
<path d="M675.8 374.1 676.9 373.7 677.7 372.7 677.9 371.3 677.7 369.6 676.9 367.9 675.8 366.4 674.5 365.4 673.1 364.9 671.9 365.1 671 365.9M678.2 372.7 679.3 372.3 680 371.3 680.3 369.9 680 368.2 679.3 366.5 678.2 365 676.8 364 675.5 363.5 674.3 363.7 673.4 364.5M680.6 371.3 681.7 370.9 682.4 369.9 682.7 368.4 682.4 366.8 681.7 365.1 680.6 363.6 679.2 362.6 677.9 362.1 676.6 362.3 675.7 363M683 369.9 684.1 369.5 684.8 368.5 685.1 367 684.8 365.4 684.1 363.7 683 362.2 681.6 361.2 680.2 360.7 679 360.9 678.1 361.6M685.4 368.5 686.5 368.1 687.2 367.1 687.5 365.6 687.2 364 686.5 362.3 685.3 360.8 684 359.8 682.6 359.3 681.4 359.5 680.5 360.2M687.8 367.1 688.9 366.7 689.6 365.7 689.8 364.2 689.6 362.6 688.8 360.9 687.7 359.4 686.4 358.4 685 357.9 683.8 358.1 682.9 358.8M690.1 365.7 691.2 365.2 692 364.3 692.2 362.8 692 361.2 691.2 359.5 690.1 358 688.8 357 687.4 356.5 686.2 356.7 685.3 357.4M692.5 364.2 693.6 363.8 694.4 362.9 694.6 361.4 694.4 359.7 693.6 358.1 692.5 356.6 691.2 355.6 689.8 355.1 688.6 355.2 687.7 356M694.9 362.8 696 362.4 696.8 361.4 697 360 696.7 358.3 696 356.7 694.9 355.2 693.6 354.2 692.2 353.7 691 353.8 690.1 354.6M697.3 361.4 698.4 361 699.1 360 699.4 358.6 699.1 356.9 698.4 355.3 697.3 353.8 695.9 352.7 694.6 352.3 693.3 352.4 692.4 353.2M699.7 360 700.8 359.6 701.5 358.6 701.8 357.2 701.5 355.5 700.8 353.8 699.7 352.4 698.3 351.3 697 350.9 695.7 351 694.8 351.8M702.1 358.6 703.2 358.2 703.9 357.2 704.2 355.8 703.9 354.1 703.2 352.4 702 351 700.7 349.9 699.3 349.5 698.1 349.6 697.2 350.4M704.5 357.2 705.6 356.8 706.3 355.8 706.5 354.4 706.3 352.7 705.5 351 704.4 349.6 703.1 348.5 701.7 348.1 700.5 348.2 699.6 349M706.8 355.8 708 355.4 708.7 354.4 708.9 353 708.7 351.3 707.9 349.6 706.8 348.2 705.5 347.1 704.1 346.7 702.9 346.8 702 347.6" fill="none" stroke="#111" stroke-width="1.6"/>
<ellipse cx="674.2" cy="369.5" rx="5" ry="3.1" transform="rotate(59.5 674.2 369.5)" fill="#fff" stroke="#111" stroke-width="1.6"/>
<ellipse cx="674.2" cy="369.5" rx="3" ry="1.9" transform="rotate(59.5 674.2 369.5)" fill="#333" stroke="none"/>
<path d="M647.1 310.6 646.4 311.2 646 312 645.9 313 646 314.1 646.3 315.3 646.9 316.5 647.6 317.6 648.5 318.4 649.5 319.1 650.4 319.4 651.3 319.5 652.1 319.2 683.2 300.9 683.8 300.4 684.2 299.6 684.3 298.5 684.2 297.4 683.9 296.2 683.3 295 682.6 294 681.7 293.1 680.7 292.5 679.8 292.1 678.9 292.1 678.1 292.3Z" fill="#fff" stroke="#111" stroke-width="1.2"/>
<path d="M651.2 319.5 652.3 319.1 653.1 318.1 653.3 316.7 653.1 315 652.3 313.3 651.2 311.8 649.9 310.8 648.5 310.3 647.3 310.5 646.4 311.3M653.6 318.1 654.7 317.7 655.4 316.7 655.7 315.3 655.4 313.6 654.7 311.9 653.6 310.4 652.2 309.4 650.9 308.9 649.7 309.1 648.8 309.9M656 316.7 657.1 316.3 657.8 315.3 658.1 313.8 657.8 312.2 657.1 310.5 656 309 654.6 308 653.3 307.5 652 307.7 651.1 308.4M658.4 315.3 659.5 314.9 660.2 313.9 660.5 312.4 660.2 310.8 659.5 309.1 658.4 307.6 657 306.6 655.6 306.1 654.4 306.3 653.5 307M660.8 313.9 661.9 313.5 662.6 312.5 662.9 311 662.6 309.4 661.9 307.7 660.7 306.2 659.4 305.2 658 304.7 656.8 304.9 655.9 305.6M663.2 312.5 664.3 312.1 665 311.1 665.2 309.6 665 308 664.2 306.3 663.1 304.8 661.8 303.8 660.4 303.3 659.2 303.5 658.3 304.2M665.5 311.1 666.6 310.6 667.4 309.7 667.6 308.2 667.4 306.6 666.6 304.9 665.5 303.4 664.2 302.4 662.8 301.9 661.6 302.1 660.7 302.8M667.9 309.6 669 309.2 669.8 308.3 670 306.8 669.8 305.1 669 303.5 667.9 302 666.6 301 665.2 300.5 664 300.6 663.1 301.4M670.3 308.2 671.4 307.8 672.2 306.8 672.4 305.4 672.1 303.7 671.4 302.1 670.3 300.6 669 299.6 667.6 299.1 666.4 299.2 665.5 300M672.7 306.8 673.8 306.4 674.5 305.4 674.8 304 674.5 302.3 673.8 300.7 672.7 299.2 671.3 298.1 670 297.7 668.7 297.8 667.8 298.6M675.1 305.4 676.2 305 676.9 304 677.2 302.6 676.9 300.9 676.2 299.2 675.1 297.8 673.7 296.7 672.4 296.3 671.1 296.4 670.2 297.2M677.5 304 678.6 303.6 679.3 302.6 679.6 301.2 679.3 299.5 678.6 297.8 677.4 296.4 676.1 295.3 674.7 294.9 673.5 295 672.6 295.8M679.9 302.6 681 302.2 681.7 301.2 681.9 299.8 681.7 298.1 680.9 296.4 679.8 295 678.5 293.9 677.1 293.5 675.9 293.6 675 294.4M682.2 301.2 683.4 300.8 684.1 299.8 684.3 298.4 684.1 296.7 683.3 295 682.2 293.6 680.9 292.5 679.5 292.1 678.3 292.2 677.4 293" fill="none" stroke="#111" stroke-width="1.6"/>
<ellipse cx="649.6" cy="314.9" rx="5" ry="3.1" transform="rotate(59.5 649.6 314.9)" fill="#fff" stroke="#111" stroke-width="1.6"/>
<ellipse cx="649.6" cy="314.9" rx="3" ry="1.9" transform="rotate(59.5 649.6 314.9)" fill="#333" stroke="none"/>
<path d="M686.4 371.8 685.7 372.4 685.3 373.2 685.2 374.2 685.3 375.3 685.6 376.5 686.2 377.7 686.9 378.8 687.8 379.6 688.8 380.3 689.7 380.6 690.6 380.7 691.4 380.4 722.5 362.1 723.1 361.6 723.5 360.8 723.6 359.7 723.5 358.6 723.2 357.4 722.6 356.2 721.9 355.2 721 354.3 720 353.7 719.1 353.3 718.2 353.3 717.4 353.5Z" fill="#fff" stroke="#111" stroke-width="1.2"/>
<path d="M690.5 380.7 691.6 380.3 692.4 379.3 692.6 377.9 692.4 376.2 691.6 374.5 690.5 373 689.2 372 687.8 371.5 686.6 371.7 685.7 372.5M692.9 379.3 694 378.9 694.7 377.9 695 376.5 694.7 374.8 694 373.1 692.9 371.6 691.5 370.6 690.2 370.1 689 370.3 688.1 371.1M695.3 377.9 696.4 377.5 697.1 376.5 697.4 375 697.1 373.4 696.4 371.7 695.3 370.2 693.9 369.2 692.6 368.7 691.3 368.9 690.4 369.6M697.7 376.5 698.8 376.1 699.5 375.1 699.8 373.6 699.5 372 698.8 370.3 697.7 368.8 696.3 367.8 694.9 367.3 693.7 367.5 692.8 368.2M700.1 375.1 701.2 374.7 701.9 373.7 702.2 372.2 701.9 370.6 701.2 368.9 700 367.4 698.7 366.4 697.3 365.9 696.1 366.1 695.2 366.8M702.5 373.7 703.6 373.3 704.3 372.3 704.5 370.8 704.3 369.2 703.5 367.5 702.4 366 701.1 365 699.7 364.5 698.5 364.7 697.6 365.4M704.8 372.3 705.9 371.8 706.7 370.9 706.9 369.4 706.7 367.8 705.9 366.1 704.8 364.6 703.5 363.6 702.1 363.1 700.9 363.3 700 364M707.2 370.8 708.3 370.4 709.1 369.5 709.3 368 709.1 366.3 708.3 364.7 707.2 363.2 705.9 362.2 704.5 361.7 703.3 361.8 702.4 362.6M709.6 369.4 710.7 369 711.5 368 711.7 366.6 711.4 364.9 710.7 363.3 709.6 361.8 708.3 360.8 706.9 360.3 705.7 360.4 704.8 361.2M712 368 713.1 367.6 713.8 366.6 714.1 365.2 713.8 363.5 713.1 361.9 712 360.4 710.6 359.3 709.3 358.9 708 359 707.1 359.8M714.4 366.6 715.5 366.2 716.2 365.2 716.5 363.8 716.2 362.1 715.5 360.4 714.4 359 713 357.9 711.7 357.5 710.4 357.6 709.5 358.4M716.8 365.2 717.9 364.8 718.6 363.8 718.9 362.4 718.6 360.7 717.9 359 716.7 357.6 715.4 356.5 714 356.1 712.8 356.2 711.9 357M719.2 363.8 720.3 363.4 721 362.4 721.2 361 721 359.3 720.2 357.6 719.1 356.2 717.8 355.1 716.4 354.7 715.2 354.8 714.3 355.6M721.5 362.4 722.7 362 723.4 361 723.6 359.6 723.4 357.9 722.6 356.2 721.5 354.8 720.2 353.7 718.8 353.3 717.6 353.4 716.7 354.2" fill="none" stroke="#111" stroke-width="1.6"/>
<ellipse cx="688.9" cy="376.1" rx="5" ry="3.1" transform="rotate(59.5 688.9 376.1)" fill="#fff" stroke="#111" stroke-width="1.6"/>
<ellipse cx="688.9" cy="376.1" rx="3" ry="1.9" transform="rotate(59.5 688.9 376.1)" fill="#333" stroke="none"/>
<path d="M691.7 366.5 691 367.1 690.6 367.9 690.5 368.9 690.6 370 690.9 371.2 691.5 372.4 692.2 373.5 693.1 374.3 694.1 375 695 375.3 695.9 375.4 696.7 375.1 727.8 356.8 728.4 356.3 728.8 355.5 728.9 354.4 728.8 353.3 728.5 352.1 727.9 350.9 727.2 349.9 726.3 349 725.3 348.4 724.4 348 723.5 348 722.7 348.2Z" fill="#fff" stroke="#111" stroke-width="1.2"/>
<path d="M695.8 375.4 696.9 375 697.7 374 697.9 372.6 697.7 370.9 696.9 369.2 695.8 367.7 694.5 366.7 693.1 366.2 691.9 366.4 691 367.2M698.2 374 699.3 373.6 700 372.6 700.3 371.2 700 369.5 699.3 367.8 698.2 366.3 696.8 365.3 695.5 364.8 694.3 365 693.4 365.8M700.6 372.6 701.7 372.2 702.4 371.2 702.7 369.7 702.4 368.1 701.7 366.4 700.6 364.9 699.2 363.9 697.9 363.4 696.6 363.6 695.7 364.3M703 371.2 704.1 370.8 704.8 369.8 705.1 368.3 704.8 366.7 704.1 365 703 363.5 701.6 362.5 700.2 362 699 362.2 698.1 362.9M705.4 369.8 706.5 369.4 707.2 368.4 707.5 366.9 707.2 365.3 706.5 363.6 705.3 362.1 704 361.1 702.6 360.6 701.4 360.8 700.5 361.5M707.8 368.4 708.9 368 709.6 367 709.8 365.5 709.6 363.9 708.8 362.2 707.7 360.7 706.4 359.7 705 359.2 703.8 359.4 702.9 360.1M710.1 367 711.2 366.5 712 365.6 712.2 364.1 712 362.5 711.2 360.8 710.1 359.3 708.8 358.3 707.4 357.8 706.2 358 705.3 358.7M712.5 365.5 713.6 365.1 714.4 364.2 714.6 362.7 714.4 361 713.6 359.4 712.5 357.9 711.2 356.9 709.8 356.4 708.6 356.5 707.7 357.3M714.9 364.1 716 363.7 716.8 362.7 717 361.3 716.7 359.6 716 358 714.9 356.5 713.6 355.5 712.2 355 711 355.1 710.1 355.9M717.3 362.7 718.4 362.3 719.1 361.3 719.4 359.9 719.1 358.2 718.4 356.6 717.3 355.1 715.9 354 714.6 353.6 713.3 353.7 712.4 354.5M719.7 361.3 720.8 360.9 721.5 359.9 721.8 358.5 721.5 356.8 720.8 355.1 719.7 353.7 718.3 352.6 717 352.2 715.7 352.3 714.8 353.1M722.1 359.9 723.2 359.5 723.9 358.5 724.2 357.1 723.9 355.4 723.2 353.7 722 352.3 720.7 351.2 719.3 350.8 718.1 350.9 717.2 351.7M724.5 358.5 725.6 358.1 726.3 357.1 726.5 355.7 726.3 354 725.5 352.3 724.4 350.9 723.1 349.8 721.7 349.4 720.5 349.5 719.6 350.3M726.8 357.1 728 356.7 728.7 355.7 728.9 354.3 728.7 352.6 727.9 350.9 726.8 349.5 725.5 348.4 724.1 348 722.9 348.1 722 348.9" fill="none" stroke="#111" stroke-width="1.6"/>
<ellipse cx="694.2" cy="370.8" rx="5" ry="3.1" transform="rotate(59.5 694.2 370.8)" fill="#fff" stroke="#111" stroke-width="1.6"/>
<ellipse cx="694.2" cy="370.8" rx="3" ry="1.9" transform="rotate(59.5 694.2 370.8)" fill="#333" stroke="none"/>
<path d="M665.7 306.6 665 307.2 664.6 308 664.5 309 664.6 310.1 664.9 311.3 665.5 312.5 666.2 313.6 667.1 314.4 668.1 315.1 669 315.4 669.9 315.5 670.7 315.2 701.8 296.9 702.4 296.4 702.8 295.6 702.9 294.5 702.8 293.4 702.5 292.2 701.9 291 701.2 290 700.3 289.1 699.3 288.5 698.4 288.1 697.5 288.1 696.7 288.3Z" fill="#fff" stroke="#111" stroke-width="1.2"/>
<path d="M669.8 315.5 670.9 315.1 671.7 314.1 671.9 312.7 671.7 311 670.9 309.3 669.8 307.8 668.5 306.8 667.1 306.3 665.9 306.5 665 307.3M672.2 314.1 673.3 313.7 674 312.7 674.3 311.3 674 309.6 673.3 307.9 672.2 306.4 670.8 305.4 669.5 304.9 668.3 305.1 667.4 305.9M674.6 312.7 675.7 312.3 676.4 311.3 676.7 309.8 676.4 308.2 675.7 306.5 674.6 305 673.2 304 671.9 303.5 670.6 303.7 669.7 304.4M677 311.3 678.1 310.9 678.8 309.9 679.1 308.4 678.8 306.8 678.1 305.1 677 303.6 675.6 302.6 674.2 302.1 673 302.3 672.1 303M679.4 309.9 680.5 309.5 681.2 308.5 681.5 307 681.2 305.4 680.5 303.7 679.3 302.2 678 301.2 676.6 300.7 675.4 300.9 674.5 301.6M681.8 308.5 682.9 308.1 683.6 307.1 683.8 305.6 683.6 304 682.8 302.3 681.7 300.8 680.4 299.8 679 299.3 677.8 299.5 676.9 300.2M684.1 307.1 685.2 306.6 686 305.7 686.2 304.2 686 302.6 685.2 300.9 684.1 299.4 682.8 298.4 681.4 297.9 680.2 298.1 679.3 298.8M686.5 305.6 687.6 305.2 688.4 304.3 688.6 302.8 688.4 301.1 687.6 299.5 686.5 298 685.2 297 683.8 296.5 682.6 296.6 681.7 297.4M688.9 304.2 690 303.8 690.8 302.8 691 301.4 690.7 299.7 690 298.1 688.9 296.6 687.6 295.6 686.2 295.1 685 295.2 684.1 296M691.3 302.8 692.4 302.4 693.1 301.4 693.4 300 693.1 298.3 692.4 296.7 691.3 295.2 689.9 294.1 688.6 293.7 687.3 293.8 686.4 294.6M693.7 301.4 694.8 301 695.5 300 695.8 298.6 695.5 296.9 694.8 295.2 693.7 293.8 692.3 292.7 691 292.3 689.7 292.4 688.8 293.2M696.1 300 697.2 299.6 697.9 298.6 698.2 297.2 697.9 295.5 697.2 293.8 696 292.4 694.7 291.3 693.3 290.9 692.1 291 691.2 291.8M698.5 298.6 699.6 298.2 700.3 297.2 700.5 295.8 700.3 294.1 699.5 292.4 698.4 291 697.1 289.9 695.7 289.5 694.5 289.6 693.6 290.4M700.8 297.2 702 296.8 702.7 295.8 702.9 294.4 702.7 292.7 701.9 291 700.8 289.6 699.5 288.5 698.1 288.1 696.9 288.2 696 289" fill="none" stroke="#111" stroke-width="1.6"/>
<ellipse cx="668.2" cy="310.9" rx="5" ry="3.1" transform="rotate(59.5 668.2 310.9)" fill="#fff" stroke="#111" stroke-width="1.6"/>
<ellipse cx="668.2" cy="310.9" rx="3" ry="1.9" transform="rotate(59.5 668.2 310.9)" fill="#333" stroke="none"/>
<path d="M694.4 343.2 693.7 343.8 693.3 344.6 693.2 345.6 693.3 346.7 693.6 347.9 694.2 349.1 694.9 350.2 695.8 351 696.8 351.7 697.7 352 698.6 352.1 699.4 351.8 730.5 333.5 731.1 333 731.5 332.2 731.6 331.1 731.5 330 731.2 328.8 730.6 327.6 729.9 326.6 729 325.7 728 325.1 727.1 324.7 726.2 324.7 725.4 324.9Z" fill="#fff" stroke="#111" stroke-width="1.2"/>
<path d="M698.5 352.1 699.6 351.7 700.4 350.7 700.6 349.3 700.4 347.6 699.6 345.9 698.5 344.4 697.2 343.4 695.8 342.9 694.6 343.1 693.7 343.9M700.9 350.7 702 350.3 702.7 349.3 703 347.9 702.7 346.2 702 344.5 700.9 343 699.5 342 698.2 341.5 697 341.7 696.1 342.5M703.3 349.3 704.4 348.9 705.1 347.9 705.4 346.4 705.1 344.8 704.4 343.1 703.3 341.6 701.9 340.6 700.6 340.1 699.3 340.3 698.4 341M705.7 347.9 706.8 347.5 707.5 346.5 707.8 345 707.5 343.4 706.8 341.7 705.7 340.2 704.3 339.2 702.9 338.7 701.7 338.9 700.8 339.6M708.1 346.5 709.2 346.1 709.9 345.1 710.2 343.6 709.9 342 709.2 340.3 708 338.8 706.7 337.8 705.3 337.3 704.1 337.5 703.2 338.2M710.5 345.1 711.6 344.7 712.3 343.7 712.5 342.2 712.3 340.6 711.5 338.9 710.4 337.4 709.1 336.4 707.7 335.9 706.5 336.1 705.6 336.8M712.8 343.7 713.9 343.2 714.7 342.3 714.9 340.8 714.7 339.2 713.9 337.5 712.8 336 711.5 335 710.1 334.5 708.9 334.7 708 335.4M715.2 342.2 716.3 341.8 717.1 340.9 717.3 339.4 717.1 337.7 716.3 336.1 715.2 334.6 713.9 333.6 712.5 333.1 711.3 333.2 710.4 334M717.6 340.8 718.7 340.4 719.5 339.4 719.7 338 719.4 336.3 718.7 334.7 717.6 333.2 716.3 332.2 714.9 331.7 713.7 331.8 712.8 332.6M720 339.4 721.1 339 721.8 338 722.1 336.6 721.8 334.9 721.1 333.3 720 331.8 718.6 330.7 717.3 330.3 716 330.4 715.1 331.2M722.4 338 723.5 337.6 724.2 336.6 724.5 335.2 724.2 333.5 723.5 331.8 722.4 330.4 721 329.3 719.7 328.9 718.4 329 717.5 329.8M724.8 336.6 725.9 336.2 726.6 335.2 726.9 333.8 726.6 332.1 725.9 330.4 724.7 329 723.4 327.9 722 327.5 720.8 327.6 719.9 328.4M727.2 335.2 728.3 334.8 729 333.8 729.2 332.4 729 330.7 728.2 329 727.1 327.6 725.8 326.5 724.4 326.1 723.2 326.2 722.3 327M729.5 333.8 730.7 333.4 731.4 332.4 731.6 331 731.4 329.3 730.6 327.6 729.5 326.2 728.2 325.1 726.8 324.7 725.6 324.8 724.7 325.6" fill="none" stroke="#111" stroke-width="1.6"/>
<ellipse cx="696.9" cy="347.5" rx="5" ry="3.1" transform="rotate(59.5 696.9 347.5)" fill="#fff" stroke="#111" stroke-width="1.6"/>
<ellipse cx="696.9" cy="347.5" rx="3" ry="1.9" transform="rotate(59.5 696.9 347.5)" fill="#333" stroke="none"/>
<path d="M683 320.6 682.3 321.2 681.9 322 681.8 323 681.9 324.1 682.2 325.3 682.8 326.5 683.5 327.6 684.4 328.4 685.4 329.1 686.3 329.4 687.2 329.5 688 329.2 719.1 310.9 719.7 310.4 720.1 309.6 720.2 308.5 720.1 307.4 719.8 306.2 719.2 305 718.5 304 717.6 303.1 716.6 302.5 715.7 302.1 714.8 302.1 714 302.3Z" fill="#fff" stroke="#111" stroke-width="1.2"/>
<path d="M687.1 329.5 688.2 329.1 689 328.1 689.2 326.7 689 325 688.2 323.3 687.1 321.8 685.8 320.8 684.4 320.3 683.2 320.5 682.3 321.3M689.5 328.1 690.6 327.7 691.3 326.7 691.6 325.3 691.3 323.6 690.6 321.9 689.5 320.4 688.1 319.4 686.8 318.9 685.6 319.1 684.7 319.9M691.9 326.7 693 326.3 693.7 325.3 694 323.8 693.7 322.2 693 320.5 691.9 319 690.5 318 689.2 317.5 687.9 317.7 687 318.4M694.3 325.3 695.4 324.9 696.1 323.9 696.4 322.4 696.1 320.8 695.4 319.1 694.3 317.6 692.9 316.6 691.5 316.1 690.3 316.3 689.4 317M696.7 323.9 697.8 323.5 698.5 322.5 698.8 321 698.5 319.4 697.8 317.7 696.6 316.2 695.3 315.2 693.9 314.7 692.7 314.9 691.8 315.6M699.1 322.5 700.2 322.1 700.9 321.1 701.1 319.6 700.9 318 700.1 316.3 699 314.8 697.7 313.8 696.3 313.3 695.1 313.5 694.2 314.2M701.4 321.1 702.5 320.6 703.3 319.7 703.5 318.2 703.3 316.6 702.5 314.9 701.4 313.4 700.1 312.4 698.7 311.9 697.5 312.1 696.6 312.8M703.8 319.6 704.9 319.2 705.7 318.3 705.9 316.8 705.7 315.1 704.9 313.5 703.8 312 702.5 311 701.1 310.5 699.9 310.6 699 311.4M706.2 318.2 707.3 317.8 708.1 316.8 708.3 315.4 708 313.7 707.3 312.1 706.2 310.6 704.9 309.6 703.5 309.1 702.3 309.2 701.4 310M708.6 316.8 709.7 316.4 710.4 315.4 710.7 314 710.4 312.3 709.7 310.7 708.6 309.2 707.2 308.1 705.9 307.7 704.6 307.8 703.7 308.6M711 315.4 712.1 315 712.8 314 713.1 312.6 712.8 310.9 712.1 309.2 711 307.8 709.6 306.7 708.3 306.3 707 306.4 706.1 307.2M713.4 314 714.5 313.6 715.2 312.6 715.5 311.2 715.2 309.5 714.5 307.8 713.3 306.4 712 305.3 710.6 304.9 709.4 305 708.5 305.8M715.8 312.6 716.9 312.2 717.6 311.2 717.8 309.8 717.6 308.1 716.8 306.4 715.7 305 714.4 303.9 713 303.5 711.8 303.6 710.9 304.4M718.1 311.2 719.3 310.8 720 309.8 720.2 308.4 720 306.7 719.2 305 718.1 303.6 716.8 302.5 715.4 302.1 714.2 302.2 713.3 303" fill="none" stroke="#111" stroke-width="1.6"/>
<ellipse cx="685.5" cy="324.9" rx="5" ry="3.1" transform="rotate(59.5 685.5 324.9)" fill="#fff" stroke="#111" stroke-width="1.6"/>
<ellipse cx="685.5" cy="324.9" rx="3" ry="1.9" transform="rotate(59.5 685.5 324.9)" fill="#333" stroke="none"/>
<path d="M174.3 643.8 172.6 645.4 171.4 647.8 171 650.6 171.2 653.9 172.2 657.3 173.8 660.6 175.9 663.6 178.4 666.1 181.2 667.9 183.9 668.9 186.5 669.1 188.7 668.3 233.5 641.9 235.3 640.3 236.4 638 236.9 635.1 236.6 631.9 235.6 628.5 234 625.1 231.9 622.1 229.4 619.6 226.7 617.8 223.9 616.8 221.3 616.7 219.1 617.5Z" fill="#fff" stroke="#111" stroke-width="1.4"/>
<ellipse cx="181.5" cy="656.1" rx="14.2" ry="8.9" transform="rotate(59.5 181.5 656.1)" fill="none" stroke="#111" stroke-width="1.4"/>
<path d="M213.9 653.5 215.7 651.7 216.8 649.1 217 645.8 216.5 642.2 215.1 638.6 213.1 635.1 210.6 632.2 207.7 630 204.7 628.7 201.9 628.3 199.4 629" fill="none" stroke="#111" stroke-width="1.8"/>
<path d="M220.7 649.4 222.6 647.6 223.7 645 223.9 641.8 223.4 638.2 222 634.5 220 631.1 217.5 628.1 214.6 625.9 211.6 624.6 208.8 624.3 206.3 625" fill="none" stroke="#111" stroke-width="1.4"/>
<path d="M222.5 648.4 224.3 646.6 225.4 644 225.7 640.8 225.1 637.2 223.8 633.5 221.7 630.1 219.2 627.1 216.3 624.9 213.3 623.6 210.5 623.3 208.1 624" fill="none" stroke="#111" stroke-width="1.4"/>
<path d="M170.1 650.6 168.9 651.8 168 653.5 167.7 655.6 167.9 658 168.6 660.5 169.8 663 171.4 665.2 173.2 667.1 175.2 668.4 177.2 669.1 179.1 669.2 180.8 668.7 186.8 665.1 188.1 663.9 189 662.2 189.3 660.1 189.1 657.7 188.4 655.2 187.2 652.7 185.6 650.5 183.8 648.6 181.8 647.3 179.7 646.6 177.8 646.5 176.2 647Z" fill="#fff" stroke="#111" stroke-width="1.4"/>
<ellipse cx="175.5" cy="659.6" rx="10.5" ry="6.6" transform="rotate(59.5 175.5 659.6)" fill="none" stroke="#111" stroke-width="1.4"/>
<path d="M164 651.9 162.4 653.3 161.4 655.3 161 657.9 161.3 660.8 162.1 663.8 163.5 666.7 165.4 669.3 167.6 671.5 170 673.1 172.4 674 174.7 674.1 176.7 673.4 181.8 670.4 183.4 669 184.4 667 184.8 664.4 184.5 661.6 183.7 658.6 182.3 655.6 180.4 653 178.2 650.8 175.8 649.2 173.4 648.3 171.1 648.2 169.1 648.9Z" fill="#fff" stroke="#111" stroke-width="1.4"/>
<ellipse cx="170.3" cy="662.7" rx="12.5" ry="7.9" transform="rotate(59.5 170.3 662.7)" fill="none" stroke="#111" stroke-width="1.4"/>
<path d="M159.6 656.2 158.2 657.5 157.3 659.3 157 661.5 157.2 664 157.9 666.7 159.2 669.2 160.8 671.6 162.8 673.5 164.9 674.9 167 675.7 169 675.8 170.7 675.2 175.9 672.2 177.2 670.9 178.1 669.1 178.5 666.9 178.3 664.4 177.5 661.7 176.3 659.2 174.6 656.8 172.7 654.9 170.6 653.5 168.5 652.7 166.5 652.6 164.7 653.2Z" fill="#fff" stroke="#111" stroke-width="1.4"/>
<ellipse cx="165.1" cy="665.7" rx="11" ry="6.9" transform="rotate(59.5 165.1 665.7)" fill="none" stroke="#111" stroke-width="1.4"/>
<path d="M152.5 654 150.4 655.9 149.1 658.6 148.6 661.9 148.9 665.7 150 669.7 151.9 673.5 154.3 677 157.3 679.9 160.4 682 163.6 683.2 166.6 683.4 169.2 682.5 173.5 679.9 175.5 678.1 176.9 675.4 177.4 672 177.1 668.3 176 664.3 174.1 660.4 171.6 656.9 168.7 654 165.5 651.9 162.4 650.8 159.4 650.6 156.8 651.5Z" fill="#fff" stroke="#111" stroke-width="1.8"/>
<ellipse cx="160.8" cy="668.3" rx="16.5" ry="10.4" transform="rotate(59.5 160.8 668.3)" fill="none" stroke="#111" stroke-width="1.8"/>
<path d="M147.4 655.3 145.2 657.3 143.7 660.2 143.2 663.9 143.5 668 144.7 672.3 146.7 676.6 149.4 680.4 152.6 683.5 156.1 685.8 159.5 687.1 162.8 687.3 165.7 686.3 170 683.8 172.2 681.8 173.6 678.8 174.2 675.2 173.9 671 172.6 666.7 170.6 662.5 167.9 658.7 164.7 655.5 161.3 653.2 157.8 652 154.5 651.8 151.7 652.8Z" fill="#fff" stroke="#111" stroke-width="2.1"/>
<ellipse cx="156.5" cy="670.8" rx="18" ry="11.3" transform="rotate(59.5 156.5 670.8)" fill="none" stroke="#111" stroke-width="2.1"/>
<ellipse cx="156.5" cy="670.8" rx="13.2" ry="8.3" transform="rotate(59.5 156.5 670.8)" fill="none" stroke="#111" stroke-width="1.4"/>
<ellipse cx="156.5" cy="670.8" rx="1.8" ry="1.1" transform="rotate(59.5 156.5 670.8)" fill="none" stroke="#111" stroke-width="1.4"/>
<path d="M158.7 609 156.9 610.6 155.8 612.9 155.3 615.8 155.6 619 156.6 622.4 158.2 625.7 160.3 628.8 162.8 631.3 165.5 633.1 168.2 634.1 170.8 634.2 173.1 633.4 217.9 607 219.6 605.5 220.8 603.1 221.2 600.3 220.9 597 220 593.6 218.4 590.3 216.2 587.3 213.7 584.8 211 582.9 208.3 581.9 205.7 581.8 203.5 582.6Z" fill="#fff" stroke="#111" stroke-width="1.4"/>
<ellipse cx="165.9" cy="621.2" rx="14.2" ry="8.9" transform="rotate(59.5 165.9 621.2)" fill="none" stroke="#111" stroke-width="1.4"/>
<path d="M198.2 618.6 200 616.8 201.1 614.2 201.4 611 200.8 607.4 199.5 603.7 197.5 600.3 194.9 597.3 192 595.1 189.1 593.8 186.3 593.5 183.8 594.2" fill="none" stroke="#111" stroke-width="1.8"/>
<path d="M205.1 614.6 206.9 612.8 208 610.1 208.3 606.9 207.7 603.3 206.4 599.6 204.4 596.2 201.8 593.3 198.9 591 196 589.7 193.2 589.4 190.7 590.1" fill="none" stroke="#111" stroke-width="1.4"/>
<path d="M206.8 613.5 208.6 611.7 209.7 609.1 210 605.9 209.5 602.3 208.1 598.6 206.1 595.2 203.5 592.2 200.7 590 197.7 588.7 194.9 588.4 192.4 589.1" fill="none" stroke="#111" stroke-width="1.4"/>
<path d="M154.5 615.7 153.2 616.9 152.4 618.6 152 620.7 152.2 623.1 152.9 625.7 154.1 628.1 155.7 630.3 157.6 632.2 159.6 633.5 161.6 634.3 163.5 634.4 165.2 633.8 171.2 630.2 172.5 629.1 173.3 627.4 173.7 625.2 173.5 622.8 172.7 620.3 171.6 617.8 170 615.6 168.1 613.8 166.1 612.4 164.1 611.7 162.2 611.6 160.5 612.2Z" fill="#fff" stroke="#111" stroke-width="1.4"/>
<ellipse cx="159.8" cy="624.8" rx="10.5" ry="6.6" transform="rotate(59.5 159.8 624.8)" fill="none" stroke="#111" stroke-width="1.4"/>
<path d="M148.3 617 146.8 618.4 145.8 620.5 145.4 623 145.6 625.9 146.5 628.9 147.9 631.8 149.7 634.4 152 636.6 154.3 638.2 156.8 639.1 159 639.2 161 638.6 166.2 635.5 167.7 634.1 168.7 632.1 169.1 629.5 168.9 626.7 168 623.7 166.6 620.8 164.7 618.1 162.5 615.9 160.1 614.3 157.7 613.4 155.5 613.3 153.5 614Z" fill="#fff" stroke="#111" stroke-width="1.4"/>
<ellipse cx="154.7" cy="627.8" rx="12.5" ry="7.9" transform="rotate(59.5 154.7 627.8)" fill="none" stroke="#111" stroke-width="1.4"/>
<path d="M143.9 621.4 142.6 622.6 141.7 624.4 141.3 626.6 141.5 629.2 142.3 631.8 143.5 634.4 145.2 636.7 147.1 638.6 149.2 640 151.3 640.8 153.3 640.9 155.1 640.3 160.2 637.3 161.6 636 162.5 634.2 162.8 632 162.6 629.5 161.9 626.9 160.6 624.3 159 621.9 157 620 154.9 618.6 152.8 617.8 150.8 617.7 149.1 618.3Z" fill="#fff" stroke="#111" stroke-width="1.4"/>
<ellipse cx="149.5" cy="630.8" rx="11" ry="6.9" transform="rotate(59.5 149.5 630.8)" fill="none" stroke="#111" stroke-width="1.4"/>
<path d="M136.8 619.2 134.8 621 133.5 623.7 132.9 627.1 133.2 630.8 134.4 634.8 136.2 638.7 138.7 642.2 141.6 645.1 144.8 647.2 148 648.3 151 648.5 153.6 647.6 157.9 645.1 159.9 643.2 161.2 640.5 161.7 637.2 161.4 633.4 160.3 629.4 158.4 625.6 156 622.1 153.1 619.2 149.9 617.1 146.7 615.9 143.7 615.7 141.1 616.6Z" fill="#fff" stroke="#111" stroke-width="1.8"/>
<ellipse cx="145.2" cy="633.4" rx="16.5" ry="10.4" transform="rotate(59.5 145.2 633.4)" fill="none" stroke="#111" stroke-width="1.8"/>
<path d="M131.7 620.4 129.5 622.4 128.1 625.4 127.5 629 127.8 633.1 129.1 637.5 131.1 641.7 133.8 645.5 137 648.7 140.4 651 143.9 652.2 147.2 652.4 150 651.4 154.3 648.9 156.5 646.9 158 643.9 158.6 640.3 158.2 636.2 157 631.8 155 627.6 152.3 623.8 149.1 620.6 145.6 618.3 142.2 617.1 138.9 616.9 136 617.9Z" fill="#fff" stroke="#111" stroke-width="2.1"/>
<ellipse cx="140.9" cy="635.9" rx="18" ry="11.3" transform="rotate(59.5 140.9 635.9)" fill="none" stroke="#111" stroke-width="2.1"/>
<ellipse cx="140.9" cy="635.9" rx="13.2" ry="8.3" transform="rotate(59.5 140.9 635.9)" fill="none" stroke="#111" stroke-width="1.4"/>
<ellipse cx="140.9" cy="635.9" rx="1.8" ry="1.1" transform="rotate(59.5 140.9 635.9)" fill="none" stroke="#111" stroke-width="1.4"/>
<path d="M201.7 666.5 200 668.1 198.8 670.4 198.4 673.3 198.7 676.5 199.6 679.9 201.2 683.2 203.4 686.3 205.9 688.7 208.6 690.6 211.3 691.6 213.9 691.7 216.1 690.9 260.9 664.5 262.7 663 263.8 660.6 264.3 657.7 264 654.5 263.1 651.1 261.4 647.8 259.3 644.8 256.8 642.3 254.1 640.4 251.4 639.4 248.8 639.3 246.5 640.1Z" fill="#fff" stroke="#111" stroke-width="1.4"/>
<ellipse cx="208.9" cy="678.7" rx="14.2" ry="8.9" transform="rotate(59.5 208.9 678.7)" fill="none" stroke="#111" stroke-width="1.4"/>
<path d="M241.3 676.1 243.1 674.3 244.2 671.7 244.5 668.5 243.9 664.9 242.6 661.2 240.5 657.8 238 654.8 235.1 652.6 232.2 651.3 229.3 650.9 226.9 651.7" fill="none" stroke="#111" stroke-width="1.8"/>
<path d="M248.2 672.1 250 670.3 251.1 667.6 251.4 664.4 250.8 660.8 249.5 657.1 247.4 653.7 244.9 650.8 242 648.5 239.1 647.2 236.2 646.9 233.8 647.6" fill="none" stroke="#111" stroke-width="1.4"/>
<path d="M249.9 671 251.7 669.2 252.8 666.6 253.1 663.4 252.5 659.8 251.2 656.1 249.2 652.7 246.6 649.7 243.7 647.5 240.8 646.2 238 645.9 235.5 646.6" fill="none" stroke="#111" stroke-width="1.4"/>
<path d="M197.6 673.2 196.3 674.4 195.4 676.1 195.1 678.2 195.3 680.6 196 683.2 197.2 685.6 198.8 687.8 200.6 689.7 202.6 691 204.7 691.8 206.6 691.9 208.2 691.3 214.3 687.7 215.6 686.6 216.4 684.9 216.7 682.7 216.5 680.3 215.8 677.8 214.6 675.3 213.1 673.1 211.2 671.3 209.2 669.9 207.2 669.2 205.3 669.1 203.6 669.7Z" fill="#fff" stroke="#111" stroke-width="1.4"/>
<ellipse cx="202.9" cy="682.3" rx="10.5" ry="6.6" transform="rotate(59.5 202.9 682.3)" fill="none" stroke="#111" stroke-width="1.4"/>
<path d="M191.4 674.5 189.9 675.9 188.8 678 188.5 680.5 188.7 683.4 189.5 686.4 190.9 689.3 192.8 691.9 195 694.1 197.4 695.7 199.8 696.6 202.1 696.7 204.1 696.1 209.2 693 210.8 691.6 211.8 689.6 212.2 687 212 684.2 211.1 681.2 209.7 678.3 207.8 675.6 205.6 673.4 203.2 671.8 200.8 670.9 198.5 670.8 196.6 671.5Z" fill="#fff" stroke="#111" stroke-width="1.4"/>
<ellipse cx="197.7" cy="685.3" rx="12.5" ry="7.9" transform="rotate(59.5 197.7 685.3)" fill="none" stroke="#111" stroke-width="1.4"/>
<path d="M187 678.9 185.6 680.1 184.7 681.9 184.4 684.1 184.6 686.7 185.4 689.3 186.6 691.9 188.2 694.2 190.2 696.1 192.3 697.5 194.4 698.3 196.4 698.4 198.1 697.8 203.3 694.8 204.7 693.5 205.6 691.7 205.9 689.5 205.7 687 204.9 684.4 203.7 681.8 202.1 679.4 200.1 677.5 198 676.1 195.9 675.3 193.9 675.2 192.2 675.8Z" fill="#fff" stroke="#111" stroke-width="1.4"/>
<ellipse cx="192.6" cy="688.3" rx="11" ry="6.9" transform="rotate(59.5 192.6 688.3)" fill="none" stroke="#111" stroke-width="1.4"/>
<path d="M179.9 676.7 177.8 678.5 176.5 681.2 176 684.6 176.3 688.3 177.4 692.3 179.3 696.2 181.8 699.7 184.7 702.6 187.8 704.7 191 705.8 194 706 196.6 705.1 200.9 702.6 203 700.7 204.3 698 204.8 694.7 204.5 690.9 203.4 686.9 201.5 683.1 199 679.6 196.1 676.7 193 674.6 189.8 673.4 186.8 673.2 184.2 674.1Z" fill="#fff" stroke="#111" stroke-width="1.8"/>
<ellipse cx="188.3" cy="690.9" rx="16.5" ry="10.4" transform="rotate(59.5 188.3 690.9)" fill="none" stroke="#111" stroke-width="1.8"/>
<path d="M174.8 677.9 172.6 679.9 171.2 682.9 170.6 686.5 170.9 690.6 172.1 695 174.2 699.2 176.9 703 180.1 706.2 183.5 708.5 187 709.7 190.2 709.9 193.1 708.9 197.4 706.4 199.6 704.4 201.1 701.4 201.6 697.8 201.3 693.7 200.1 689.3 198 685.1 195.3 681.3 192.2 678.1 188.7 675.8 185.2 674.6 182 674.4 179.1 675.4Z" fill="#fff" stroke="#111" stroke-width="2.1"/>
<ellipse cx="183.9" cy="693.4" rx="18" ry="11.3" transform="rotate(59.5 183.9 693.4)" fill="none" stroke="#111" stroke-width="2.1"/>
<ellipse cx="183.9" cy="693.4" rx="13.2" ry="8.3" transform="rotate(59.5 183.9 693.4)" fill="none" stroke="#111" stroke-width="1.4"/>
<ellipse cx="183.9" cy="693.4" rx="1.8" ry="1.1" transform="rotate(59.5 183.9 693.4)" fill="none" stroke="#111" stroke-width="1.4"/>
<path d="M162.1 578.1 160.4 579.7 159.2 582.1 158.8 584.9 159 588.2 160 591.6 161.6 594.9 163.7 597.9 166.2 600.4 169 602.2 171.7 603.3 174.3 603.4 176.5 602.6 221.3 576.2 223.1 574.6 224.2 572.3 224.7 569.4 224.4 566.2 223.4 562.8 221.8 559.5 219.7 556.4 217.2 553.9 214.5 552.1 211.7 551.1 209.2 551 206.9 551.8Z" fill="#fff" stroke="#111" stroke-width="1.4"/>
<ellipse cx="169.3" cy="590.4" rx="14.2" ry="8.9" transform="rotate(59.5 169.3 590.4)" fill="none" stroke="#111" stroke-width="1.4"/>
<path d="M201.7 587.8 203.5 586 204.6 583.4 204.8 580.1 204.3 576.5 202.9 572.9 200.9 569.5 198.4 566.5 195.5 564.3 192.5 563 189.7 562.6 187.3 563.3" fill="none" stroke="#111" stroke-width="1.8"/>
<path d="M208.6 583.7 210.4 581.9 211.5 579.3 211.7 576.1 211.2 572.5 209.8 568.8 207.8 565.4 205.3 562.4 202.4 560.2 199.4 558.9 196.6 558.6 194.1 559.3" fill="none" stroke="#111" stroke-width="1.4"/>
<path d="M210.3 582.7 212.1 580.9 213.2 578.3 213.5 575.1 212.9 571.5 211.6 567.8 209.5 564.4 207 561.4 204.1 559.2 201.2 557.9 198.3 557.6 195.9 558.3" fill="none" stroke="#111" stroke-width="1.4"/>
<path d="M158 584.9 156.7 586.1 155.8 587.8 155.5 589.9 155.7 592.3 156.4 594.8 157.6 597.3 159.2 599.5 161 601.4 163 602.7 165.1 603.5 167 603.5 168.6 603 174.6 599.4 175.9 598.3 176.8 596.5 177.1 594.4 176.9 592 176.2 589.5 175 587 173.4 584.8 171.6 583 169.6 581.6 167.6 580.9 165.6 580.8 164 581.3Z" fill="#fff" stroke="#111" stroke-width="1.4"/>
<ellipse cx="163.3" cy="593.9" rx="10.5" ry="6.6" transform="rotate(59.5 163.3 593.9)" fill="none" stroke="#111" stroke-width="1.4"/>
<path d="M151.8 586.2 150.2 587.6 149.2 589.7 148.8 592.2 149.1 595.1 149.9 598.1 151.3 601 153.2 603.6 155.4 605.8 157.8 607.4 160.2 608.3 162.5 608.4 164.5 607.8 169.6 604.7 171.2 603.3 172.2 601.3 172.6 598.7 172.3 595.9 171.5 592.9 170.1 589.9 168.2 587.3 166 585.1 163.6 583.5 161.2 582.6 158.9 582.5 156.9 583.2Z" fill="#fff" stroke="#111" stroke-width="1.4"/>
<ellipse cx="158.1" cy="597" rx="12.5" ry="7.9" transform="rotate(59.5 158.1 597)" fill="none" stroke="#111" stroke-width="1.4"/>
<path d="M147.4 590.5 146 591.8 145.1 593.6 144.8 595.8 145 598.3 145.7 601 147 603.5 148.6 605.9 150.6 607.8 152.7 609.2 154.8 610 156.8 610.1 158.5 609.5 163.7 606.5 165.1 605.2 165.9 603.4 166.3 601.2 166.1 598.7 165.3 596 164.1 593.5 162.4 591.1 160.5 589.2 158.4 587.8 156.3 587 154.3 586.9 152.5 587.5Z" fill="#fff" stroke="#111" stroke-width="1.4"/>
<ellipse cx="152.9" cy="600" rx="11" ry="6.9" transform="rotate(59.5 152.9 600)" fill="none" stroke="#111" stroke-width="1.4"/>
<path d="M140.3 588.3 138.2 590.2 136.9 592.9 136.4 596.2 136.7 600 137.8 604 139.7 607.8 142.2 611.3 145.1 614.2 148.2 616.3 151.4 617.5 154.4 617.7 157 616.8 161.3 614.2 163.4 612.4 164.7 609.7 165.2 606.3 164.9 602.6 163.8 598.6 161.9 594.8 159.4 591.3 156.5 588.3 153.4 586.2 150.2 585.1 147.2 584.9 144.6 585.8Z" fill="#fff" stroke="#111" stroke-width="1.8"/>
<ellipse cx="148.6" cy="602.6" rx="16.5" ry="10.4" transform="rotate(59.5 148.6 602.6)" fill="none" stroke="#111" stroke-width="1.8"/>
<path d="M135.2 589.6 133 591.6 131.5 594.5 131 598.2 131.3 602.3 132.5 606.6 134.6 610.9 137.3 614.7 140.4 617.8 143.9 620.1 147.4 621.4 150.6 621.6 153.5 620.6 157.8 618.1 160 616.1 161.4 613.1 162 609.5 161.7 605.3 160.4 601 158.4 596.8 155.7 593 152.5 589.8 149.1 587.5 145.6 586.3 142.3 586.1 139.5 587.1Z" fill="#fff" stroke="#111" stroke-width="2.1"/>
<ellipse cx="144.3" cy="605.1" rx="18" ry="11.3" transform="rotate(59.5 144.3 605.1)" fill="none" stroke="#111" stroke-width="2.1"/>
<ellipse cx="144.3" cy="605.1" rx="13.2" ry="8.3" transform="rotate(59.5 144.3 605.1)" fill="none" stroke="#111" stroke-width="1.4"/>
<ellipse cx="144.3" cy="605.1" rx="1.8" ry="1.1" transform="rotate(59.5 144.3 605.1)" fill="none" stroke="#111" stroke-width="1.4"/>
<path d="M228.1 666.2 226.4 667.8 225.2 670.2 224.8 673 225 676.3 226 679.7 227.6 683 229.7 686 232.2 688.5 235 690.3 237.7 691.3 240.3 691.5 242.5 690.7 287.3 664.3 289.1 662.7 290.2 660.4 290.7 657.5 290.4 654.3 289.4 650.9 287.8 647.5 285.7 644.5 283.2 642 280.5 640.2 277.7 639.2 275.2 639.1 272.9 639.9Z" fill="#fff" stroke="#111" stroke-width="1.4"/>
<ellipse cx="235.3" cy="678.5" rx="14.2" ry="8.9" transform="rotate(59.5 235.3 678.5)" fill="none" stroke="#111" stroke-width="1.4"/>
<path d="M267.7 675.9 269.5 674.1 270.6 671.5 270.8 668.2 270.3 664.6 268.9 661 266.9 657.5 264.4 654.6 261.5 652.4 258.5 651 255.7 650.7 253.2 651.4" fill="none" stroke="#111" stroke-width="1.8"/>
<path d="M274.6 671.8 276.4 670 277.5 667.4 277.7 664.2 277.2 660.6 275.8 656.9 273.8 653.5 271.3 650.5 268.4 648.3 265.4 647 262.6 646.7 260.1 647.4" fill="none" stroke="#111" stroke-width="1.4"/>
<path d="M276.3 670.8 278.1 669 279.2 666.4 279.5 663.2 278.9 659.6 277.6 655.9 275.5 652.5 273 649.5 270.1 647.3 267.2 646 264.3 645.7 261.9 646.4" fill="none" stroke="#111" stroke-width="1.4"/>
<path d="M224 673 222.7 674.2 221.8 675.9 221.5 678 221.7 680.4 222.4 682.9 223.6 685.4 225.2 687.6 227 689.5 229 690.8 231 691.5 233 691.6 234.6 691.1 240.6 687.5 241.9 686.3 242.8 684.6 243.1 682.5 242.9 680.1 242.2 677.6 241 675.1 239.4 672.9 237.6 671 235.6 669.7 233.5 669 231.6 668.9 230 669.4Z" fill="#fff" stroke="#111" stroke-width="1.4"/>
<ellipse cx="229.3" cy="682" rx="10.5" ry="6.6" transform="rotate(59.5 229.3 682)" fill="none" stroke="#111" stroke-width="1.4"/>
<path d="M217.8 674.3 216.2 675.7 215.2 677.7 214.8 680.3 215.1 683.2 215.9 686.1 217.3 689.1 219.2 691.7 221.4 693.9 223.8 695.5 226.2 696.4 228.5 696.5 230.5 695.8 235.6 692.8 237.2 691.4 238.2 689.4 238.6 686.8 238.3 684 237.5 681 236.1 678 234.2 675.4 232 673.2 229.6 671.6 227.2 670.7 224.9 670.6 222.9 671.3Z" fill="#fff" stroke="#111" stroke-width="1.4"/>
<ellipse cx="224.1" cy="685.1" rx="12.5" ry="7.9" transform="rotate(59.5 224.1 685.1)" fill="none" stroke="#111" stroke-width="1.4"/>
<path d="M213.4 678.6 212 679.9 211.1 681.7 210.8 683.9 211 686.4 211.7 689.1 213 691.6 214.6 694 216.6 695.9 218.7 697.3 220.8 698.1 222.8 698.2 224.5 697.6 229.7 694.6 231 693.3 231.9 691.5 232.3 689.3 232.1 686.8 231.3 684.1 230.1 681.6 228.4 679.2 226.5 677.3 224.4 675.9 222.3 675.1 220.3 675 218.5 675.6Z" fill="#fff" stroke="#111" stroke-width="1.4"/>
<ellipse cx="218.9" cy="688.1" rx="11" ry="6.9" transform="rotate(59.5 218.9 688.1)" fill="none" stroke="#111" stroke-width="1.4"/>
<path d="M206.3 676.4 204.2 678.3 202.9 681 202.4 684.3 202.7 688.1 203.8 692.1 205.7 695.9 208.1 699.4 211.1 702.3 214.2 704.4 217.4 705.6 220.4 705.8 223 704.9 227.3 702.3 229.3 700.5 230.7 697.8 231.2 694.4 230.9 690.7 229.8 686.7 227.9 682.8 225.4 679.3 222.5 676.4 219.4 674.3 216.2 673.2 213.2 673 210.6 673.9Z" fill="#fff" stroke="#111" stroke-width="1.8"/>
<ellipse cx="214.6" cy="690.7" rx="16.5" ry="10.4" transform="rotate(59.5 214.6 690.7)" fill="none" stroke="#111" stroke-width="1.8"/>
<path d="M201.2 677.7 199 679.7 197.5 682.6 197 686.3 197.3 690.4 198.5 694.7 200.6 699 203.3 702.8 206.4 705.9 209.9 708.2 213.4 709.5 216.6 709.7 219.5 708.7 223.8 706.2 226 704.1 227.4 701.2 228 697.6 227.7 693.4 226.4 689.1 224.4 684.9 221.7 681.1 218.5 677.9 215.1 675.6 211.6 674.3 208.3 674.2 205.5 675.1Z" fill="#fff" stroke="#111" stroke-width="2.1"/>
<ellipse cx="210.3" cy="693.2" rx="18" ry="11.3" transform="rotate(59.5 210.3 693.2)" fill="none" stroke="#111" stroke-width="2.1"/>
<ellipse cx="210.3" cy="693.2" rx="13.2" ry="8.3" transform="rotate(59.5 210.3 693.2)" fill="none" stroke="#111" stroke-width="1.4"/>
<ellipse cx="210.3" cy="693.2" rx="1.8" ry="1.1" transform="rotate(59.5 210.3 693.2)" fill="none" stroke="#111" stroke-width="1.4"/>
<path d="M183.1 565.8 181.3 567.4 180.2 569.7 179.7 572.6 180 575.9 180.9 579.3 182.6 582.6 184.7 585.6 187.2 588.1 189.9 589.9 192.6 590.9 195.2 591 197.5 590.3 242.3 563.9 244 562.3 245.2 560 245.6 557.1 245.3 553.8 244.4 550.4 242.8 547.1 240.6 544.1 238.1 541.6 235.4 539.8 232.7 538.8 230.1 538.7 227.9 539.4Z" fill="#fff" stroke="#111" stroke-width="1.4"/>
<ellipse cx="190.3" cy="578" rx="14.2" ry="8.9" transform="rotate(59.5 190.3 578)" fill="none" stroke="#111" stroke-width="1.4"/>
<path d="M222.6 575.5 224.4 573.7 225.5 571 225.8 567.8 225.2 564.2 223.9 560.6 221.9 557.1 219.3 554.2 216.4 551.9 213.5 550.6 210.7 550.3 208.2 551" fill="none" stroke="#111" stroke-width="1.8"/>
<path d="M229.5 571.4 231.3 569.6 232.4 567 232.7 563.7 232.1 560.2 230.8 556.5 228.8 553.1 226.2 550.1 223.3 547.9 220.4 546.6 217.6 546.2 215.1 546.9" fill="none" stroke="#111" stroke-width="1.4"/>
<path d="M231.2 570.4 233 568.6 234.1 566 234.4 562.7 233.9 559.1 232.5 555.5 230.5 552 227.9 549.1 225.1 546.9 222.1 545.5 219.3 545.2 216.8 545.9" fill="none" stroke="#111" stroke-width="1.4"/>
<path d="M178.9 572.6 177.6 573.7 176.8 575.4 176.4 577.6 176.6 580 177.3 582.5 178.5 585 180.1 587.2 182 589 184 590.4 186 591.1 187.9 591.2 189.6 590.6 195.6 587.1 196.9 585.9 197.7 584.2 198.1 582.1 197.9 579.7 197.1 577.1 196 574.7 194.4 572.5 192.5 570.6 190.5 569.3 188.5 568.5 186.6 568.4 184.9 569Z" fill="#fff" stroke="#111" stroke-width="1.4"/>
<ellipse cx="184.2" cy="581.6" rx="10.5" ry="6.6" transform="rotate(59.5 184.2 581.6)" fill="none" stroke="#111" stroke-width="1.4"/>
<path d="M172.7 573.9 171.2 575.3 170.2 577.3 169.8 579.9 170 582.7 170.9 585.7 172.3 588.6 174.1 591.3 176.4 593.5 178.7 595.1 181.2 596 183.4 596.1 185.4 595.4 190.6 592.4 192.1 591 193.1 588.9 193.5 586.4 193.3 583.5 192.4 580.5 191 577.6 189.1 575 186.9 572.8 184.5 571.2 182.1 570.3 179.9 570.2 177.9 570.8Z" fill="#fff" stroke="#111" stroke-width="1.4"/>
<ellipse cx="179.1" cy="584.6" rx="12.5" ry="7.9" transform="rotate(59.5 179.1 584.6)" fill="none" stroke="#111" stroke-width="1.4"/>
<path d="M168.3 578.2 167 579.4 166.1 581.2 165.7 583.5 165.9 586 166.7 588.6 167.9 591.2 169.6 593.5 171.5 595.5 173.6 596.9 175.7 597.7 177.7 597.8 179.5 597.2 184.6 594.1 186 592.9 186.9 591.1 187.2 588.9 187 586.3 186.3 583.7 185 581.1 183.4 578.8 181.4 576.9 179.3 575.5 177.2 574.7 175.2 574.6 173.5 575.2Z" fill="#fff" stroke="#111" stroke-width="1.4"/>
<ellipse cx="173.9" cy="587.7" rx="11" ry="6.9" transform="rotate(59.5 173.9 587.7)" fill="none" stroke="#111" stroke-width="1.4"/>
<path d="M161.2 576 159.2 577.9 157.8 580.6 157.3 583.9 157.6 587.7 158.8 591.6 160.6 595.5 163.1 599 166 601.9 169.2 604 172.4 605.2 175.4 605.3 178 604.4 182.3 601.9 184.3 600.1 185.6 597.4 186.1 594 185.8 590.2 184.7 586.3 182.8 582.4 180.4 578.9 177.5 576 174.3 573.9 171.1 572.7 168.1 572.6 165.5 573.5Z" fill="#fff" stroke="#111" stroke-width="1.8"/>
<ellipse cx="169.6" cy="590.2" rx="16.5" ry="10.4" transform="rotate(59.5 169.6 590.2)" fill="none" stroke="#111" stroke-width="1.8"/>
<path d="M156.1 577.3 153.9 579.3 152.5 582.2 151.9 585.9 152.2 590 153.5 594.3 155.5 598.5 158.2 602.3 161.4 605.5 164.8 607.8 168.3 609.1 171.6 609.2 174.4 608.3 178.7 605.7 180.9 603.7 182.4 600.8 182.9 597.1 182.6 593 181.4 588.7 179.4 584.5 176.7 580.7 173.5 577.5 170 575.2 166.6 573.9 163.3 573.8 160.4 574.7Z" fill="#fff" stroke="#111" stroke-width="2.1"/>
<ellipse cx="165.3" cy="592.8" rx="18" ry="11.3" transform="rotate(59.5 165.3 592.8)" fill="none" stroke="#111" stroke-width="2.1"/>
<ellipse cx="165.3" cy="592.8" rx="13.2" ry="8.3" transform="rotate(59.5 165.3 592.8)" fill="none" stroke="#111" stroke-width="1.4"/>
<ellipse cx="165.3" cy="592.8" rx="1.8" ry="1.1" transform="rotate(59.5 165.3 592.8)" fill="none" stroke="#111" stroke-width="1.4"/>
<path d="M241.1 643.3 239.3 644.9 238.2 647.2 237.7 650.1 238 653.3 239 656.7 240.6 660.1 242.7 663.1 245.2 665.6 247.9 667.4 250.7 668.4 253.3 668.5 255.5 667.8 300.3 641.4 302.1 639.8 303.2 637.4 303.6 634.6 303.4 631.3 302.4 627.9 300.8 624.6 298.7 621.6 296.2 619.1 293.5 617.3 290.7 616.3 288.1 616.1 285.9 616.9Z" fill="#fff" stroke="#111" stroke-width="1.4"/>
<ellipse cx="248.3" cy="655.5" rx="14.2" ry="8.9" transform="rotate(59.5 248.3 655.5)" fill="none" stroke="#111" stroke-width="1.4"/>
<path d="M280.6 652.9 282.5 651.1 283.5 648.5 283.8 645.3 283.3 641.7 281.9 638 279.9 634.6 277.4 631.6 274.5 629.4 271.5 628.1 268.7 627.8 266.2 628.5" fill="none" stroke="#111" stroke-width="1.8"/>
<path d="M287.5 648.9 289.3 647.1 290.4 644.4 290.7 641.2 290.2 637.6 288.8 634 286.8 630.5 284.2 627.6 281.4 625.4 278.4 624 275.6 623.7 273.1 624.4" fill="none" stroke="#111" stroke-width="1.4"/>
<path d="M289.3 647.9 291.1 646.1 292.2 643.4 292.4 640.2 291.9 636.6 290.5 632.9 288.5 629.5 286 626.6 283.1 624.3 280.1 623 277.3 622.7 274.8 623.4" fill="none" stroke="#111" stroke-width="1.4"/>
<path d="M236.9 650 235.6 651.2 234.8 652.9 234.5 655 234.7 657.5 235.4 660 236.6 662.4 238.1 664.7 240 666.5 242 667.8 244 668.6 245.9 668.7 247.6 668.1 253.6 664.6 254.9 663.4 255.8 661.7 256.1 659.5 255.9 657.1 255.2 654.6 254 652.2 252.4 649.9 250.6 648.1 248.6 646.7 246.5 646 244.6 645.9 243 646.5Z" fill="#fff" stroke="#111" stroke-width="1.4"/>
<ellipse cx="242.3" cy="659.1" rx="10.5" ry="6.6" transform="rotate(59.5 242.3 659.1)" fill="none" stroke="#111" stroke-width="1.4"/>
<path d="M230.7 651.3 229.2 652.7 228.2 654.8 227.8 657.3 228 660.2 228.9 663.2 230.3 666.1 232.2 668.8 234.4 671 236.8 672.6 239.2 673.4 241.5 673.6 243.4 672.9 248.6 669.8 250.1 668.4 251.2 666.4 251.5 663.9 251.3 661 250.5 658 249 655.1 247.2 652.4 245 650.2 242.6 648.6 240.2 647.7 237.9 647.6 235.9 648.3Z" fill="#fff" stroke="#111" stroke-width="1.4"/>
<ellipse cx="237.1" cy="662.1" rx="12.5" ry="7.9" transform="rotate(59.5 237.1 662.1)" fill="none" stroke="#111" stroke-width="1.4"/>
<path d="M226.3 655.7 225 656.9 224.1 658.7 223.8 660.9 224 663.5 224.7 666.1 226 668.7 227.6 671 229.5 672.9 231.6 674.3 233.8 675.1 235.8 675.2 237.5 674.6 242.7 671.6 244 670.4 244.9 668.6 245.3 666.3 245.1 663.8 244.3 661.2 243.1 658.6 241.4 656.3 239.5 654.3 237.4 652.9 235.2 652.1 233.2 652 231.5 652.6Z" fill="#fff" stroke="#111" stroke-width="1.4"/>
<ellipse cx="231.9" cy="665.2" rx="11" ry="6.9" transform="rotate(59.5 231.9 665.2)" fill="none" stroke="#111" stroke-width="1.4"/>
<path d="M219.2 653.5 217.2 655.3 215.9 658 215.4 661.4 215.7 665.2 216.8 669.1 218.7 673 221.1 676.5 224 679.4 227.2 681.5 230.4 682.6 233.4 682.8 236 681.9 240.3 679.4 242.3 677.5 243.7 674.8 244.2 671.5 243.9 667.7 242.7 663.7 240.9 659.9 238.4 656.4 235.5 653.5 232.3 651.4 229.1 650.2 226.2 650.1 223.5 650.9Z" fill="#fff" stroke="#111" stroke-width="1.8"/>
<ellipse cx="227.6" cy="667.7" rx="16.5" ry="10.4" transform="rotate(59.5 227.6 667.7)" fill="none" stroke="#111" stroke-width="1.8"/>
<path d="M214.2 654.7 212 656.7 210.5 659.7 209.9 663.3 210.3 667.5 211.5 671.8 213.5 676 216.2 679.8 219.4 683 222.9 685.3 226.3 686.5 229.6 686.7 232.4 685.7 236.8 683.2 239 681.2 240.4 678.3 241 674.6 240.6 670.5 239.4 666.2 237.4 661.9 234.7 658.1 231.5 655 228.1 652.7 224.6 651.4 221.3 651.2 218.5 652.2Z" fill="#fff" stroke="#111" stroke-width="2.1"/>
<ellipse cx="223.3" cy="670.2" rx="18" ry="11.3" transform="rotate(59.5 223.3 670.2)" fill="none" stroke="#111" stroke-width="2.1"/>
<ellipse cx="223.3" cy="670.2" rx="13.2" ry="8.3" transform="rotate(59.5 223.3 670.2)" fill="none" stroke="#111" stroke-width="1.4"/>
<ellipse cx="223.3" cy="670.2" rx="1.8" ry="1.1" transform="rotate(59.5 223.3 670.2)" fill="none" stroke="#111" stroke-width="1.4"/>
<path d="M211.7 577.7 209.9 579.3 208.8 581.6 208.3 584.5 208.6 587.8 209.6 591.2 211.2 594.5 213.3 597.5 215.8 600 218.5 601.8 221.3 602.8 223.9 603 226.1 602.2 270.9 575.8 272.6 574.2 273.8 571.9 274.2 569 274 565.8 273 562.4 271.4 559 269.3 556 266.8 553.5 264 551.7 261.3 550.7 258.7 550.6 256.5 551.3Z" fill="#fff" stroke="#111" stroke-width="1.4"/>
<ellipse cx="218.9" cy="590" rx="14.2" ry="8.9" transform="rotate(59.5 218.9 590)" fill="none" stroke="#111" stroke-width="1.4"/>
<path d="M251.2 587.4 253 585.6 254.1 583 254.4 579.7 253.9 576.1 252.5 572.5 250.5 569 247.9 566.1 245.1 563.9 242.1 562.5 239.3 562.2 236.8 562.9" fill="none" stroke="#111" stroke-width="1.8"/>
<path d="M258.1 583.3 259.9 581.5 261 578.9 261.3 575.7 260.8 572.1 259.4 568.4 257.4 565 254.8 562 252 559.8 249 558.5 246.2 558.2 243.7 558.9" fill="none" stroke="#111" stroke-width="1.4"/>
<path d="M259.9 582.3 261.7 580.5 262.8 577.9 263 574.6 262.5 571.1 261.1 567.4 259.1 564 256.6 561 253.7 558.8 250.7 557.5 247.9 557.1 245.4 557.8" fill="none" stroke="#111" stroke-width="1.4"/>
<path d="M207.5 584.5 206.2 585.6 205.4 587.4 205.1 589.5 205.3 591.9 206 594.4 207.2 596.9 208.7 599.1 210.6 600.9 212.6 602.3 214.6 603 216.5 603.1 218.2 602.6 224.2 599 225.5 597.8 226.4 596.1 226.7 594 226.5 591.6 225.8 589.1 224.6 586.6 223 584.4 221.2 582.5 219.2 581.2 217.1 580.5 215.2 580.4 213.6 580.9Z" fill="#fff" stroke="#111" stroke-width="1.4"/>
<ellipse cx="212.9" cy="593.5" rx="10.5" ry="6.6" transform="rotate(59.5 212.9 593.5)" fill="none" stroke="#111" stroke-width="1.4"/>
<path d="M201.3 585.8 199.8 587.2 198.8 589.2 198.4 591.8 198.6 594.6 199.5 597.6 200.9 600.6 202.8 603.2 205 605.4 207.4 607 209.8 607.9 212.1 608 214 607.3 219.2 604.3 220.7 602.9 221.7 600.8 222.1 598.3 221.9 595.4 221.1 592.4 219.6 589.5 217.8 586.9 215.6 584.7 213.2 583.1 210.8 582.2 208.5 582.1 206.5 582.7Z" fill="#fff" stroke="#111" stroke-width="1.4"/>
<ellipse cx="207.7" cy="596.6" rx="12.5" ry="7.9" transform="rotate(59.5 207.7 596.6)" fill="none" stroke="#111" stroke-width="1.4"/>
<path d="M196.9 590.1 195.6 591.4 194.7 593.2 194.3 595.4 194.6 597.9 195.3 600.6 196.5 603.1 198.2 605.5 200.1 607.4 202.2 608.8 204.4 609.6 206.4 609.7 208.1 609.1 213.3 606 214.6 604.8 215.5 603 215.9 600.8 215.6 598.3 214.9 595.6 213.7 593 212 590.7 210.1 588.8 208 587.4 205.8 586.6 203.8 586.5 202.1 587.1Z" fill="#fff" stroke="#111" stroke-width="1.4"/>
<ellipse cx="202.5" cy="599.6" rx="11" ry="6.9" transform="rotate(59.5 202.5 599.6)" fill="none" stroke="#111" stroke-width="1.4"/>
<path d="M189.8 587.9 187.8 589.8 186.5 592.5 186 595.8 186.3 599.6 187.4 603.6 189.3 607.4 191.7 610.9 194.6 613.8 197.8 615.9 201 617.1 204 617.2 206.6 616.4 210.9 613.8 212.9 612 214.2 609.3 214.8 605.9 214.5 602.1 213.3 598.2 211.5 594.3 209 590.8 206.1 587.9 202.9 585.8 199.7 584.7 196.7 584.5 194.1 585.4Z" fill="#fff" stroke="#111" stroke-width="1.8"/>
<ellipse cx="198.2" cy="602.1" rx="16.5" ry="10.4" transform="rotate(59.5 198.2 602.1)" fill="none" stroke="#111" stroke-width="1.8"/>
<path d="M184.8 589.2 182.5 591.2 181.1 594.1 180.5 597.8 180.9 601.9 182.1 606.2 184.1 610.4 186.8 614.3 190 617.4 193.5 619.7 196.9 621 200.2 621.2 203 620.2 207.3 617.7 209.6 615.6 211 612.7 211.6 609 211.2 604.9 210 600.6 208 596.4 205.3 592.6 202.1 589.4 198.7 587.1 195.2 585.8 191.9 585.7 189.1 586.6Z" fill="#fff" stroke="#111" stroke-width="2.1"/>
<ellipse cx="193.9" cy="604.7" rx="18" ry="11.3" transform="rotate(59.5 193.9 604.7)" fill="none" stroke="#111" stroke-width="2.1"/>
<ellipse cx="193.9" cy="604.7" rx="13.2" ry="8.3" transform="rotate(59.5 193.9 604.7)" fill="none" stroke="#111" stroke-width="1.4"/>
<ellipse cx="193.9" cy="604.7" rx="1.8" ry="1.1" transform="rotate(59.5 193.9 604.7)" fill="none" stroke="#111" stroke-width="1.4"/>
<path d="M234.6 608.3 232.9 609.9 231.7 612.2 231.3 615.1 231.5 618.4 232.5 621.8 234.1 625.1 236.2 628.1 238.7 630.6 241.5 632.4 244.2 633.4 246.8 633.6 249 632.8 293.8 606.4 295.6 604.8 296.7 602.5 297.2 599.6 296.9 596.4 295.9 592.9 294.3 589.6 292.2 586.6 289.7 584.1 287 582.3 284.2 581.3 281.6 581.2 279.4 581.9Z" fill="#fff" stroke="#111" stroke-width="1.4"/>
<ellipse cx="241.8" cy="620.6" rx="14.2" ry="8.9" transform="rotate(59.5 241.8 620.6)" fill="none" stroke="#111" stroke-width="1.4"/>
<path d="M274.2 618 276 616.2 277.1 613.5 277.3 610.3 276.8 606.7 275.4 603.1 273.4 599.6 270.9 596.7 268 594.5 265 593.1 262.2 592.8 259.7 593.5" fill="none" stroke="#111" stroke-width="1.8"/>
<path d="M281 613.9 282.9 612.1 284 609.5 284.2 606.3 283.7 602.7 282.3 599 280.3 595.6 277.8 592.6 274.9 590.4 271.9 589.1 269.1 588.7 266.6 589.5" fill="none" stroke="#111" stroke-width="1.4"/>
<path d="M282.8 612.9 284.6 611.1 285.7 608.5 286 605.2 285.4 601.6 284.1 598 282 594.6 279.5 591.6 276.6 589.4 273.6 588.1 270.8 587.7 268.4 588.4" fill="none" stroke="#111" stroke-width="1.4"/>
<path d="M230.4 615.1 229.2 616.2 228.3 618 228 620.1 228.2 622.5 228.9 625 230.1 627.5 231.7 629.7 233.5 631.5 235.5 632.9 237.5 633.6 239.4 633.7 241.1 633.2 247.1 629.6 248.4 628.4 249.3 626.7 249.6 624.6 249.4 622.2 248.7 619.7 247.5 617.2 245.9 615 244.1 613.1 242.1 611.8 240 611 238.1 611 236.5 611.5Z" fill="#fff" stroke="#111" stroke-width="1.4"/>
<ellipse cx="235.8" cy="624.1" rx="10.5" ry="6.6" transform="rotate(59.5 235.8 624.1)" fill="none" stroke="#111" stroke-width="1.4"/>
<path d="M224.3 616.4 222.7 617.8 221.7 619.8 221.3 622.4 221.6 625.2 222.4 628.2 223.8 631.2 225.7 633.8 227.9 636 230.3 637.6 232.7 638.5 235 638.6 237 637.9 242.1 634.9 243.7 633.5 244.7 631.4 245.1 628.9 244.8 626 244 623 242.6 620.1 240.7 617.5 238.5 615.3 236.1 613.7 233.7 612.8 231.4 612.7 229.4 613.3Z" fill="#fff" stroke="#111" stroke-width="1.4"/>
<ellipse cx="230.6" cy="627.2" rx="12.5" ry="7.9" transform="rotate(59.5 230.6 627.2)" fill="none" stroke="#111" stroke-width="1.4"/>
<path d="M219.9 620.7 218.5 622 217.6 623.8 217.3 626 217.5 628.5 218.2 631.1 219.5 633.7 221.1 636.1 223.1 638 225.2 639.4 227.3 640.2 229.3 640.3 231 639.7 236.2 636.6 237.5 635.4 238.4 633.6 238.8 631.4 238.6 628.9 237.8 626.2 236.6 623.6 234.9 621.3 233 619.4 230.9 618 228.8 617.2 226.8 617.1 225 617.7Z" fill="#fff" stroke="#111" stroke-width="1.4"/>
<ellipse cx="225.4" cy="630.2" rx="11" ry="6.9" transform="rotate(59.5 225.4 630.2)" fill="none" stroke="#111" stroke-width="1.4"/>
<path d="M212.8 618.5 210.7 620.4 209.4 623.1 208.9 626.4 209.2 630.2 210.3 634.2 212.2 638 214.6 641.5 217.6 644.4 220.7 646.5 223.9 647.7 226.9 647.8 229.5 647 233.8 644.4 235.8 642.6 237.2 639.9 237.7 636.5 237.4 632.7 236.3 628.8 234.4 624.9 231.9 621.4 229 618.5 225.8 616.4 222.7 615.3 219.7 615.1 217.1 616Z" fill="#fff" stroke="#111" stroke-width="1.8"/>
<ellipse cx="221.1" cy="632.7" rx="16.5" ry="10.4" transform="rotate(59.5 221.1 632.7)" fill="none" stroke="#111" stroke-width="1.8"/>
<path d="M207.7 619.8 205.5 621.8 204 624.7 203.5 628.4 203.8 632.5 205 636.8 207.1 641 209.7 644.9 212.9 648 216.4 650.3 219.8 651.6 223.1 651.7 226 650.8 230.3 648.3 232.5 646.2 233.9 643.3 234.5 639.6 234.2 635.5 232.9 631.2 230.9 627 228.2 623.2 225 620 221.6 617.7 218.1 616.4 214.8 616.3 212 617.2Z" fill="#fff" stroke="#111" stroke-width="2.1"/>
<ellipse cx="216.8" cy="635.3" rx="18" ry="11.3" transform="rotate(59.5 216.8 635.3)" fill="none" stroke="#111" stroke-width="2.1"/>
<ellipse cx="216.8" cy="635.3" rx="13.2" ry="8.3" transform="rotate(59.5 216.8 635.3)" fill="none" stroke="#111" stroke-width="1.4"/>
<ellipse cx="216.8" cy="635.3" rx="1.8" ry="1.1" transform="rotate(59.5 216.8 635.3)" fill="none" stroke="#111" stroke-width="1.4"/>
<path d="M895.7 107.9 892.9 109.7 890.2 111.8 887.8 114.2 885.6 116.8 883.6 119.7 881.7 122.8 880.1 126.2 878.8 129.7 877.6 133.5 876.7 137.4 876 141.5 875.6 145.8 875.4 150.2 875.5 154.7 875.7 159.3 876.3 164 877 168.8 878.1 173.6 879.3 178.4 880.8 183.3 882.5 188.2 884.4 193 886.5 197.8 888.8 202.5 891.3 207.2 894 211.8 896.8 216.2 899.9 220.5 903 224.7 906.3 228.7 909.8 232.6 913.3 236.2 917 239.6 920.7 242.9 924.5 245.9 928.4 248.6 932.2 251.1 936.2 253.3 940.1 255.3 944 257 948 258.4 951.8 259.5 955.7 260.3 959.4 260.8 963.1 261 966.7 260.9 970.2 260.6 973.6 259.9 976.9 258.9 980 257.7 982.9 256.1 987.3 253.6 990 251.7 992.7 249.6 995.1 247.2 997.3 244.6 999.4 241.7 1001.2 238.6 1002.8 235.3 1004.1 231.7 1005.3 228 1006.2 224.1 1006.9 220 1007.3 215.7 1007.5 211.3 1007.5 206.8 1007.2 202.2 1006.6 197.5 1005.9 192.7 1004.9 187.9 1003.6 183 1002.1 178.2 1000.5 173.3 998.5 168.5 996.4 163.7 994.1 158.9 991.6 154.3 988.9 149.7 986.1 145.2 983 140.9 979.9 136.7 976.6 132.7 973.1 128.9 969.6 125.3 965.9 121.8 962.2 118.6 958.4 115.6 954.6 112.9 950.7 110.4 946.7 108.1 942.8 106.2 938.9 104.5 935 103.1 931.1 102 927.2 101.2 923.5 100.7 919.8 100.4 916.2 100.5 912.7 100.9 909.3 101.6 906 102.5 902.9 103.8 900 105.4Z" fill="#fff" stroke="#111" stroke-width="1.4"/>
<ellipse cx="939.3" cy="182" rx="86" ry="54.2" transform="rotate(59.5 939.3 182)" fill="#fff" stroke="#111" stroke-width="1.4"/>
<path d="M991.7 250.4 994.2 248.2 996.5 245.7 998.6 242.9 1000.5 239.9 1002.2 236.7 1003.6 233.2 1004.8 229.6 1005.9 225.7 1006.6 221.7 1007.2 217.5 1007.5 213.2 1007.5 208.8 1007.3 204.2 1006.9 199.6 1006.2 194.9 1005.3 190.1 1004.2 185.3 1002.9 180.4 1001.3 175.6 999.5 170.8 997.5 166 995.3 161.2 992.9 156.6 990.3 152 987.5 147.5 984.6 143.1 981.5 138.9 978.3 134.8 975 130.9 971.5 127.2 967.9 123.6 964.2 120.3 960.5 117.2 956.7 114.3 952.8 111.7 948.9 109.4 945 107.3 941.1 105.4 937.2 103.9 933.3 102.6 929.5 101.6 925.7 100.9 922 100.5 918.3 100.4 914.8 100.6 911.3 101.1 908 101.9 904.8 103" fill="none" stroke="#111" stroke-width="1.4"/>
<ellipse cx="939.3" cy="182" rx="70" ry="44.1" transform="rotate(59.5 939.3 182)" fill="none" stroke="#111" stroke-width="1.4"/>
<path d="M987.3 256.9 981.9 248.4 987.8 242.9 993.9 250.6Z" fill="#fff" stroke="none"/>
<path d="M985.7 254.3 981.9 248.4 987.8 242.9 992.1 248.3" fill="none" stroke="#111" stroke-width="1.4"/>
<path d="M981.9 248.4 978.1 242.6 983.5 237.5 987.8 242.9" fill="none" stroke="#111" stroke-width="1.1"/>
<path d="M996.5 235.5 989 228.4 991.8 218.7 999.9 224.3Z" fill="#fff" stroke="#111" stroke-width="1.4"/>
<path d="M989 228.4 992.4 226.4 995.3 216.7 991.8 218.7" fill="none" stroke="#111" stroke-width="1"/>
<path d="M1001 210.7 992.8 206.9 991.7 194.8 999.7 196.8Z" fill="#fff" stroke="#111" stroke-width="1.4"/>
<path d="M992.8 206.9 996.2 204.8 995.2 192.8 991.7 194.8" fill="none" stroke="#111" stroke-width="1"/>
<path d="M996 181.4 988.5 181.5 983.6 169 990.4 167Z" fill="#fff" stroke="#111" stroke-width="1.4"/>
<path d="M988.5 181.5 992 179.5 987.1 167 983.6 169" fill="none" stroke="#111" stroke-width="1"/>
<path d="M982.4 152.3 976.7 156.2 968.8 145.2 973.3 139.6Z" fill="#fff" stroke="#111" stroke-width="1.4"/>
<path d="M976.7 156.2 980.2 154.2 972.3 143.2 968.8 145.2" fill="none" stroke="#111" stroke-width="1"/>
<path d="M962.3 127.7 959.2 134.9 949.5 126.9 951 118.5Z" fill="#fff" stroke="#111" stroke-width="1.4"/>
<path d="M959.2 134.9 962.7 132.8 952.9 124.9 949.5 126.9" fill="none" stroke="#111" stroke-width="1"/>
<path d="M938.6 111.3 938.7 120.7 928.6 117.1 927 107.2Z" fill="#fff" stroke="#111" stroke-width="1.4"/>
<path d="M938.7 120.7 942.2 118.7 932.1 115.1 928.6 117.1" fill="none" stroke="#111" stroke-width="1"/>
<path d="M915.1 105.7 918.3 115.8 909.4 117.1 904.8 107.2Z" fill="#fff" stroke="#111" stroke-width="1.4"/>
<path d="M918.3 115.8 921.7 113.8 912.8 115.1 909.4 117.1" fill="none" stroke="#111" stroke-width="1"/>
<path d="M891.3 107.1 896.7 115.6 890.8 121.1 884.7 113.4Z" fill="#fff" stroke="none"/>
<path d="M892.9 109.7 896.7 115.6 890.8 121.1 886.5 115.7" fill="none" stroke="#111" stroke-width="1.4"/>
<path d="M896.7 115.6 900.5 121.4 895.1 126.5 890.8 121.1" fill="none" stroke="#111" stroke-width="1.1"/>
<path d="M877.6 125.5 884.5 131.8 881.8 140.8 874.6 135.6Z" fill="#fff" stroke="none"/>
<path d="M879.6 127.4 884.5 131.8 881.8 140.8 876.7 137.2" fill="none" stroke="#111" stroke-width="1.4"/>
<path d="M884.5 131.8 889.4 136.3 886.9 144.5 881.8 140.8" fill="none" stroke="#111" stroke-width="1.1"/>
<path d="M873.2 152.4 880.6 155.7 881.6 166.8 874.3 164.9Z" fill="#fff" stroke="none"/>
<path d="M875.4 153.4 880.6 155.7 881.6 166.8 876.5 165.5" fill="none" stroke="#111" stroke-width="1.4"/>
<path d="M880.6 155.7 885.8 158 886.7 168.2 881.6 166.8" fill="none" stroke="#111" stroke-width="1.1"/>
<path d="M878.9 183.8 885.7 183.6 890.2 195.2 883.9 196.8Z" fill="#fff" stroke="none"/>
<path d="M880.9 183.8 885.7 183.6 890.2 195.2 885.8 196.3" fill="none" stroke="#111" stroke-width="1.4"/>
<path d="M885.7 183.6 890.4 183.5 894.5 194 890.2 195.2" fill="none" stroke="#111" stroke-width="1.1"/>
<path d="M893.8 215 898.9 211.3 906.2 221.5 902 226.5Z" fill="#fff" stroke="none"/>
<path d="M895.3 213.9 898.9 211.3 906.2 221.5 903.2 225" fill="none" stroke="#111" stroke-width="1.4"/>
<path d="M898.9 211.3 902.5 208.7 909.1 218 906.2 221.5" fill="none" stroke="#111" stroke-width="1.1"/>
<path d="M915.6 241.1 918.3 234.5 927.3 241.8 925.7 249.4Z" fill="#fff" stroke="none"/>
<path d="M916.4 239.1 918.3 234.5 927.3 241.8 926.2 247.1" fill="none" stroke="#111" stroke-width="1.4"/>
<path d="M918.3 234.5 920.1 229.8 928.3 236.5 927.3 241.8" fill="none" stroke="#111" stroke-width="1.1"/>
<path d="M941 258.2 940.8 249.7 950.2 253 951.5 262Z" fill="#fff" stroke="none"/>
<path d="M941 255.7 940.8 249.7 950.2 253 951.1 259.3" fill="none" stroke="#111" stroke-width="1.4"/>
<path d="M940.8 249.7 940.7 243.7 949.2 246.7 950.2 253" fill="none" stroke="#111" stroke-width="1.1"/>
<path d="M966.2 263.8 963.2 254.6 971.4 253.4 975.5 262.4Z" fill="#fff" stroke="none"/>
<path d="M965.3 261 963.2 254.6 971.4 253.4 974.3 259.7" fill="none" stroke="#111" stroke-width="1.4"/>
<path d="M963.2 254.6 961.1 248.2 968.6 247.1 971.4 253.4" fill="none" stroke="#111" stroke-width="1.1"/>
<path d="M908.6 126.4 907 127.3 905.5 128.3 904 129.4 902.6 130.6 901.3 131.9 900.1 133.3 898.9 134.8 897.9 136.5 896.9 138.2 896 140 896 140 895.6 141.9 895.9 144.2 896.9 146.5 898.5 148.4 900.3 149.7 902.2 150.2 903.8 149.8 904.8 148.6 904.8 148.6 905.6 147.1 906.3 145.8 907.2 144.5 908.1 143.3 909.1 142.2 910.2 141.1 911.3 140.2 912.4 139.3 913.6 138.5 914.9 137.8 914.9 137.8 916.1 136.7 916.6 134.9 916.4 132.6 915.5 130.3 914 128.3 912.2 126.8 910.3 126.2 908.6 126.4Z" fill="#fff" stroke="#111" stroke-width="1.4"/>
<path d="M905.1 131 904.7 132.1 904.6 133.3 904.8 134.7 905.3 136.1 906.1 137.4 907.1 138.5 908.2 139.4 909.3 139.9 910.4 140.1" fill="none" stroke="#111" stroke-width="1.4"/>
<path d="M892.4 153.4 892.2 155.8 892.1 158.2 892.1 160.6 892.2 163.1 892.4 165.7 892.7 168.3 893.1 170.9 893.6 173.5 894.2 176.1 894.8 178.8 894.8 178.8 895.8 181.1 897.3 183.1 899.1 184.5 901 185.1 902.6 184.7 903.7 183.6 904.2 181.7 903.9 179.4 903.9 179.4 903.4 177.3 902.9 175.2 902.6 173.1 902.2 171.1 902 169 901.9 167 901.8 165 901.8 163.1 901.9 161.2 902 159.3 902 159.3 901.9 157.1 901 154.7 899.6 152.7 897.8 151.1 895.9 150.4 894.2 150.6 893 151.7 892.4 153.4Z" fill="#fff" stroke="#111" stroke-width="1.4"/>
<path d="M897.1 161.4 896.7 162.4 896.6 163.6 896.8 165 897.3 166.4 898.1 167.7 899.1 168.9 900.2 169.7 901.3 170.2 902.4 170.4" fill="none" stroke="#111" stroke-width="1.4"/>
<path d="M913.1 214.2 914.9 216.4 916.7 218.5 918.6 220.5 920.6 222.5 922.6 224.4 924.6 226.2 926.7 227.9 928.8 229.5 930.9 231 933 232.3 933 232.3 934.9 233.1 936.6 233 937.8 232 938.4 230.2 938.3 228 937.5 225.7 936.1 223.6 934.3 222 934.3 222 932.6 220.9 930.9 219.7 929.3 218.5 927.6 217.1 926 215.7 924.4 214.2 922.9 212.7 921.4 211 919.9 209.3 918.4 207.6 918.4 207.6 916.7 206 914.8 205.1 913.1 205 911.7 205.9 911 207.6 911 209.7 911.7 212 913.1 214.2Z" fill="#fff" stroke="#111" stroke-width="1.4"/>
<path d="M924.2 214 923.8 215.1 923.7 216.3 923.9 217.7 924.4 219.1 925.2 220.4 926.2 221.5 927.3 222.4 928.4 222.9 929.5 223.1" fill="none" stroke="#111" stroke-width="1.4"/>
<path d="M954.3 240.2 956.3 240.3 958.3 240.4 960.2 240.2 962.2 240 964 239.7 965.8 239.2 967.6 238.6 969.3 237.9 970.9 237.1 972.5 236.1 972.5 236.1 973.5 234.9 973.9 232.9 973.5 230.7 972.5 228.4 970.9 226.4 969.1 225.1 967.2 224.6 965.7 225.1 965.7 225.1 964.4 225.8 963.1 226.5 961.8 227 960.4 227.5 959 227.9 957.5 228.1 956 228.3 954.4 228.4 952.8 228.4 951.2 228.3 951.2 228.3 949.6 228.6 948.4 229.7 947.9 231.6 948.2 233.8 949.1 236.1 950.6 238.1 952.4 239.6 954.3 240.2Z" fill="#fff" stroke="#111" stroke-width="1.4"/>
<path d="M961.3 227.8 960.9 228.8 960.8 230 961.1 231.4 961.6 232.8 962.4 234.1 963.3 235.3 964.4 236.1 965.6 236.6 966.7 236.8" fill="none" stroke="#111" stroke-width="1.4"/>
<path d="M984.1 220.2 984.8 218.2 985.3 216 985.7 213.8 986.1 211.6 986.3 209.3 986.4 206.9 986.5 204.4 986.4 202 986.3 199.4 986 196.9 986 196.9 985.4 194.6 984.2 192.4 982.5 190.6 980.6 189.6 978.8 189.4 977.4 190.2 976.6 191.7 976.5 193.8 976.5 193.8 976.7 195.9 976.8 197.9 976.8 199.8 976.8 201.8 976.7 203.7 976.5 205.5 976.2 207.3 975.9 209.1 975.4 210.8 975 212.4 975 212.4 974.7 214.4 975.2 216.7 976.4 219 978 220.8 979.9 222 981.7 222.3 983.2 221.6 984.1 220.2Z" fill="#fff" stroke="#111" stroke-width="1.4"/>
<path d="M981.4 200.5 981 201.5 980.9 202.7 981.1 204.1 981.6 205.5 982.4 206.8 983.3 208 984.4 208.8 985.6 209.3 986.7 209.5" fill="none" stroke="#111" stroke-width="1.4"/>
<path d="M944.1 130.7 941.9 129.5 939.8 128.4 937.6 127.4 935.5 126.5 933.3 125.7 931.2 125.1 929.1 124.6 927 124.2 924.9 123.9 922.9 123.7 922.9 123.7 921.3 124.1 920.2 125.3 919.7 127.1 920 129.4 921 131.7 922.6 133.7 924.4 135.1 926.3 135.6 926.3 135.6 927.9 135.8 929.5 136 931.2 136.3 932.9 136.7 934.5 137.3 936.2 137.9 938 138.6 939.7 139.4 941.4 140.2 943.1 141.2 943.1 141.2 945 141.9 946.6 141.7 947.8 140.6 948.4 138.8 948.2 136.6 947.3 134.3 945.9 132.2 944.1 130.7Z" fill="#fff" stroke="#111" stroke-width="1.4"/>
<path d="M933.8 125.5 933.4 126.5 933.3 127.8 933.5 129.2 934 130.6 934.8 131.9 935.8 133 936.9 133.9 938 134.4 939.1 134.5" fill="none" stroke="#111" stroke-width="1.4"/>
<path d="M912 143.5 909.3 145.5 906.9 147.9 904.9 150.8 903.3 154.1 902.1 157.7 901.3 161.7 900.9 166 901 170.5 901.6 175.2 902.5 180 903.9 184.8 905.7 189.7 907.8 194.4 910.3 199.1 913.2 203.5 916.3 207.7 919.7 211.6 923.2 215.1 926.9 218.3 930.8 221 934.7 223.3 938.6 225.1 942.5 226.3 946.3 227 949.9 227.2 953.4 226.9 956.7 226 959.7 224.5 963.2 222.5 965.9 220.6 968.2 218.1 970.2 215.3 971.9 212 973.1 208.3 973.9 204.3 974.2 200 974.1 195.5 973.6 190.8 972.6 186 971.3 181.2 969.5 176.4 967.3 171.6 964.8 167 962 162.5 958.9 158.3 955.5 154.4 951.9 150.9 948.2 147.7 944.4 145 940.5 142.7 936.6 141 932.7 139.7 928.9 139 925.2 138.8 921.7 139.2 918.5 140.1 915.4 141.5Z" fill="#fff" stroke="#111" stroke-width="1.4"/>
<ellipse cx="935.9" cy="184" rx="47" ry="29.6" transform="rotate(59.5 935.9 184)" fill="none" stroke="#111" stroke-width="1.4"/>
<ellipse cx="935.9" cy="184" rx="45" ry="28.4" transform="rotate(59.5 935.9 184)" fill="none" stroke="#111" stroke-width="1.4"/>
<ellipse cx="935.9" cy="184" rx="25" ry="15.8" transform="rotate(59.5 935.9 184)" fill="#fff" stroke="#111" stroke-width="1.4"/>
<path d="M928.8 160.1 927 163.4 926 167.5 926 172.1 926.8 177 928.5 182.1 930.9 186.9 934 191.5 937.6 195.4 941.5 198.5 945.6 200.6 949.6 201.8 953.4 201.8" fill="none" stroke="#111" stroke-width="1.4"/>
<path d="M757.3 205.9 754.5 207.7 751.9 209.9 749.6 212.5 747.5 215.3 745.6 218.4 744 221.7 742.6 225.3 741.6 229.2 740.8 233.3 740.3 237.5 740.1 241.9 740.2 246.5 740.6 251.2 741.2 255.9 742.2 260.8 743.4 265.7 744.9 270.6 746.6 275.4 748.7 280.3 750.9 285.1 753.4 289.8 756.1 294.4 759 298.9 762.1 303.2 765.4 307.3 768.8 311.2 772.4 314.9 776 318.3 779.8 321.5 783.7 324.4 787.6 327 791.5 329.2 795.5 331.2 799.5 332.8 803.4 334.1 807.3 335 811.1 335.6 814.8 335.9 818.4 335.7 821.9 335.2 825.2 334.4 828.4 333.2 831.4 331.7 871 308.3 873.8 306.5 876.4 304.3 878.8 301.7 880.9 298.9 882.7 295.8 884.4 292.5 885.7 288.9 886.7 285 887.5 280.9 888 276.7 888.2 272.3 888.1 267.7 887.8 263 887.1 258.3 886.2 253.4 884.9 248.5 883.5 243.6 881.7 238.8 879.7 233.9 877.4 229.1 874.9 224.4 872.2 219.8 869.3 215.3 866.2 211 863 206.9 859.5 203 856 199.3 852.3 195.9 848.5 192.7 844.7 189.8 840.7 187.3 836.8 185 832.8 183 828.9 181.4 824.9 180.1 821.1 179.2 817.3 178.6 813.5 178.3 809.9 178.5 806.4 179 803.1 179.8 799.9 181 796.9 182.5Z" fill="#fff" stroke="#111" stroke-width="1.4"/>
<path d="M732.2 212.5 729.5 214.4 726.9 216.5 724.5 218.8 722.3 221.5 720.4 224.4 718.7 227.6 717.2 231 715.9 234.6 714.9 238.4 714.2 242.3 713.6 246.5 713.4 250.8 713.4 255.2 713.6 259.8 714.1 264.4 714.9 269.2 715.9 273.9 717.1 278.7 718.6 283.5 720.4 288.3 722.3 293.1 724.5 297.8 726.8 302.5 729.4 307 732.1 311.5 735.1 315.8 738.1 320 741.4 324 744.7 327.8 748.2 331.5 751.8 334.9 755.5 338.1 759.3 341 763.1 343.7 766.9 346.1 770.8 348.3 774.7 350.2 778.6 351.7 782.4 353 786.3 353.9 790 354.6 793.7 354.9 797.3 355 800.8 354.7 804.2 354.1 807.4 353.1 810.5 351.9 813.4 350.4 835 337.7 837.7 335.9 840.3 333.8 842.6 331.4 844.8 328.7 846.8 325.8 848.5 322.7 850 319.3 851.2 315.7 852.2 311.9 853 307.9 853.5 303.7 853.8 299.4 853.8 295 853.5 290.4 853 285.8 852.3 281.1 851.3 276.3 850 271.5 848.5 266.7 846.8 261.9 844.9 257.1 842.7 252.4 840.3 247.8 837.8 243.2 835 238.7 832.1 234.4 829 230.2 825.8 226.2 822.4 222.4 818.9 218.8 815.3 215.3 811.7 212.2 807.9 209.2 804.1 206.5 800.2 204.1 796.3 201.9 792.5 200.1 788.6 198.5 784.7 197.2 780.9 196.3 777.1 195.6 773.5 195.3 769.9 195.3 766.4 195.6 763 196.2 759.8 197.1 756.7 198.3 753.7 199.8Z" fill="#fff" stroke="#111" stroke-width="1.4"/>
<path d="M718.5 227.9 720.2 224.7 722.1 221.8 724.3 219.1 726.6 216.7 729.2 214.5 732 212.7 734.9 211.1 738 209.9 741.2 208.9 744.6 208.3 748.1 208 751.7 208 755.4 208.3 759.1 208.9 763 209.9 766.8 211.1 770.7 212.7 774.6 214.5 778.5 216.7 782.4 219.1 786.2 221.8 790 224.8 793.7 227.9 797.3 231.4 800.8 235 804.2 238.9 807.4 242.9 810.5 247.1 813.5 251.4 816.2 255.9 818.8 260.5 821.2 265.1 823.3 269.9 825.3 274.7 827 279.5 828.5 284.3 829.7 289.1 830.7 293.9 831.5 298.6 832 303.3 832.2 307.9 832.2 312.3 831.9 316.6 831.4 320.8 830.6 324.8 829.6 328.6 828.3 332.2 826.8 335.6 825.1 338.7 823.1 341.6 820.9 344.3 818.5 346.6 815.9 348.7 813.2 350.5 810.2 352 807.1 353.2 803.8 354.1 800.4 354.7 796.9 355 793.3 354.9 814.8 342.2 818.5 342.3 822 342 825.4 341.4 828.6 340.6 831.7 339.4 834.7 337.9 837.5 336.1 840.1 334 842.5 331.6 844.7 328.9 846.6 326 848.4 322.9 849.9 319.5 851.2 315.9 852.2 312.1 853 308.1 853.5 303.9 853.8 299.6 853.8 295.2 853.5 290.6 853 286 852.3 281.2 851.3 276.4 850 271.6 848.6 266.8 846.8 262 844.9 257.2 842.7 252.4 840.3 247.8 837.8 243.2 835 238.7 832.1 234.4 829 230.2 825.7 226.2 822.4 222.3 818.9 218.7 815.2 215.3 811.5 212.1 807.8 209.1 803.9 206.4 800.1 204 796.2 201.9 792.3 200 788.4 198.4 784.5 197.2 780.7 196.2 776.9 195.6 773.2 195.3 769.6 195.3 766.1 195.6 762.7 196.2 759.5 197.2 756.4 198.4 753.5 200 750.7 201.8 748.2 204 745.8 206.4 743.7 209.1 741.7 212.1 740 215.2Z" fill="#555" stroke="none"/>
<path d="M812.7 350.8L833.1 338.7L835.9 337.1L815.5 349.1ZM816.7 348.2L837.2 336.2L839.7 334.1L819.3 346.2ZM820.4 345.1L840.8 333.1L843.1 330.6L822.7 342.6ZM823.7 341.4L844.1 329.4L846.1 326.5L825.6 338.5ZM826.5 337.1L846.9 325.1L848.5 321.9L828.1 333.9ZM828.8 332.3L849.2 320.3L850.5 316.8L830.1 328.8ZM830.6 327.1L851.1 315.1L852 311.3L831.6 323.3ZM831.9 321.4L852.4 309.4L852.9 305.3L832.5 317.4ZM832.7 315.4L853.1 303.4L853.4 299.1L832.9 311.1ZM832.9 309.1L853.4 297L853.2 292.6L832.8 304.6ZM832.6 302.5L853.1 290.5L852.6 285.9L832.1 297.9ZM831.8 295.7L852.2 283.7L851.4 279L830.9 291ZM830.4 288.8L850.9 276.8L849.6 272L829.2 284ZM828.6 281.8L849 269.8L847.4 265L827 277.1ZM826.2 274.8L846.6 262.8L844.7 258.1L824.3 270.1ZM823.3 267.9L843.8 255.9L841.6 251.2L821.1 263.2ZM820 261.1L840.4 249L838 244.5L817.5 256.5ZM816.3 254.4L836.7 242.4L834 238L813.5 250.1ZM812.2 248L832.6 236L829.6 231.8L809.2 243.9ZM807.7 241.9L828.1 229.9L824.9 226L804.5 238ZM802.9 236.2L823.4 224.2L820 220.5L799.5 232.5ZM797.9 230.9L818.3 218.8L814.8 215.5L794.3 227.5ZM792.6 226L813.1 214L809.4 210.9L789 222.9ZM787.2 221.6L807.6 209.6L803.8 206.9L783.4 218.9ZM781.6 217.8L802.1 205.7L798.2 203.4L777.8 215.5ZM776 214.5L796.4 202.5L792.6 200.6L772.2 212.6ZM770.3 211.8L790.8 199.8L786.9 198.3L766.5 210.4ZM764.7 209.8L785.1 197.8L781.4 196.7L760.9 208.8ZM759.2 208.4L779.6 196.4L775.9 195.8L755.5 207.8ZM753.7 207.7L774.2 195.6L770.6 195.5L750.2 207.5ZM748.5 207.6L768.9 195.6L765.5 195.9L745.1 207.9ZM743.5 208.2L763.9 196.1L760.7 196.9L740.2 209ZM738.7 209.4L759.2 197.4L756.1 198.6L735.7 210.7ZM734.3 211.3L754.7 199.3L751.9 201L731.5 213ZM730.2 213.9L750.7 201.8L748.1 203.9L727.7 215.9ZM726.6 217L747 205L744.7 207.5L724.3 219.5ZM723.3 220.7L743.7 208.7L741.8 211.5L721.4 223.6ZM798.5 354.5L818.9 342.5L822.3 342.2L801.9 354.2ZM803.5 353.9L823.9 341.9L827.2 341.1L806.8 353.2ZM808.2 352.7L828.7 340.7L831.7 339.4L811.3 351.5Z" fill="#fff" stroke="#111" stroke-width="1.1"/>
<path d="M815 349.4L817.8 347.8M819.1 346.9L821.6 344.8M822.8 343.7L825 341.3M826 340L828 337.2M828.8 335.7L830.4 332.5M831.1 331L832.4 327.4M833 325.7L833.9 321.9M834.3 320.1L834.8 316M835 314L835.3 309.8M835.3 307.7L835.1 303.3M835 301.1L834.5 296.5M834.1 294.3L833.3 289.6M832.8 287.4L831.6 282.7M830.9 280.4L829.3 275.7M828.5 273.4L826.6 268.7M825.7 266.5L823.5 261.9M822.4 259.7L819.9 255.2M818.6 253.1L815.9 248.7M814.5 246.7L811.5 242.5M810 240.6L806.8 236.6M805.3 234.8L801.9 231.2M800.2 229.5L796.7 226.1M795 224.6L791.3 221.6M789.5 220.2L785.8 217.6M784 216.4L780.1 214.1M778.3 213.1L774.5 211.2M772.7 210.5L768.8 209M767 208.4L763.3 207.4M761.5 207L757.8 206.4M756.1 206.3L752.5 206.2M750.8 206.2L747.4 206.5M745.8 206.8L742.6 207.6M741.1 208.1L738 209.3M736.6 210L733.8 211.6M732.6 212.5L730 214.6M728.9 215.6L726.6 218.1M725.6 219.4L723.7 222.2M800.8 353.2L804.3 352.8M805.8 352.6L809.1 351.8M810.6 351.3L813.6 350.1" fill="none" stroke="#111" stroke-width="1.1"/>
<path d="M830.4 339.9 833.4 338.5 836.3 336.9 838.9 334.9 841.4 332.7 843.7 330.2 845.8 327.4 847.6 324.3 849.2 321.1 850.6 317.6 851.7 313.9 852.6 310 853.3 305.9 853.7 301.7 853.8 297.3 853.7 292.8 853.3 288.2 852.7 283.5 851.8 278.7 850.7 274 849.3 269.1 847.7 264.3 845.9 259.5 843.8 254.8 841.5 250.1 839.1 245.5 836.4 240.9 833.6 236.6 830.6 232.3 827.4 228.2 824.1 224.3 820.7 220.5 817.1 217 813.5 213.7 809.8 210.6 806 207.8 802.1 205.2 798.2 203 794.3 201 790.5 199.2 786.6 197.8 782.7 196.7 778.9 195.9 775.2 195.4 771.6 195.3 768 195.4 764.6 195.8 761.3 196.6 758.1 197.7 755.1 199.1 752.3 200.8 749.6 202.7" fill="none" stroke="#111" stroke-width="1.4"/>
<path d="M808.9 352.6 811.9 351.2 814.7 349.6 817.4 347.6 819.9 345.4 822.2 342.8 824.2 340.1 826.1 337 827.7 333.8 829.1 330.3 830.2 326.6 831.1 322.7 831.7 318.6 832.1 314.3 832.3 310 832.1 305.5 831.8 300.9 831.1 296.2 830.3 291.4 829.1 286.6 827.8 281.8 826.2 277 824.3 272.2 822.3 267.5 820 262.8 817.5 258.2 814.9 253.6 812 249.2 809 245 805.9 240.9 802.6 237 799.1 233.2 795.6 229.7 791.9 226.4 788.2 223.3 784.4 220.5 780.6 217.9 776.7 215.6 772.8 213.6 768.9 211.9 765 210.5 761.2 209.4 757.4 208.6 753.7 208.1 750 207.9 746.5 208.1 743.1 208.5 739.7 209.3 736.6 210.4 733.6 211.8 730.7 213.5 728.1 215.4" fill="none" stroke="#111" stroke-width="1.8"/>
<path d="M732.2 212.5 729.5 214.4 726.9 216.5 724.5 218.8 722.3 221.5 720.4 224.4 718.7 227.6 717.2 231 715.9 234.6 714.9 238.4 714.2 242.3 713.6 246.5 713.4 250.8 713.4 255.2 713.6 259.8 714.1 264.4 714.9 269.2 715.9 273.9 717.1 278.7 718.6 283.5 720.4 288.3 722.3 293.1 724.5 297.8 726.8 302.5 729.4 307 732.1 311.5 735.1 315.8 738.1 320 741.4 324 744.7 327.8 748.2 331.5 751.8 334.9 755.5 338.1 759.3 341 763.1 343.7 766.9 346.1 770.8 348.3 774.7 350.2 778.6 351.7 782.4 353 786.3 353.9 790 354.6 793.7 354.9 797.3 355 800.8 354.7 804.2 354.1 807.4 353.1 810.5 351.9 813.4 350.4" fill="none" stroke="#111" stroke-width="1.4"/>
<path d="M730.4 219.4 727.7 221.2 725.1 223.3 722.8 225.8 720.7 228.5 718.8 231.5 717.2 234.7 715.8 238.2 714.6 241.9 713.8 245.8 713.2 249.9 712.8 254.2 712.8 258.6 713 263.1 713.5 267.7 714.2 272.5 715.2 277.2 716.5 282 718 286.8 719.8 291.6 721.8 296.4 724 301.1 726.5 305.7 729.1 310.2 732 314.6 735 318.8 738.2 322.9 741.5 326.8 745 330.4 748.6 333.9 752.3 337.1 756 340 759.9 342.7 763.7 345.1 767.6 347.1 771.5 348.9 775.4 350.4 779.2 351.5 783 352.3 786.7 352.8 790.3 352.9 793.9 352.7 797.3 352.2 800.5 351.3 803.6 350.1 806.6 348.6 811.7 345.6 814.5 343.7 817 341.6 819.4 339.2 821.5 336.5 823.4 333.5 825 330.2 826.4 326.8 827.5 323 828.4 319.1 829 315 829.3 310.8 829.4 306.4 829.2 301.8 828.7 297.2 828 292.5 826.9 287.7 825.7 282.9 824.2 278.1 822.4 273.3 820.4 268.6 818.1 263.9 815.7 259.2 813 254.7 810.2 250.4 807.2 246.1 804 242.1 800.6 238.2 797.2 234.5 793.6 231.1 789.9 227.9 786.1 224.9 782.3 222.3 778.5 219.9 774.6 217.8 770.7 216 766.8 214.6 763 213.4 759.2 212.6 755.5 212.2 751.8 212 748.3 212.2 744.9 212.8 741.6 213.6 738.5 214.8 735.6 216.3Z" fill="#fff" stroke="#111" stroke-width="1.4"/>
<ellipse cx="768.5" cy="284" rx="75" ry="47.2" transform="rotate(59.5 768.5 284)" fill="none" stroke="#111" stroke-width="1.4"/>
<ellipse cx="768.5" cy="284" rx="71" ry="44.7" transform="rotate(59.5 768.5 284)" fill="none" stroke="#111" stroke-width="1.4"/>
<ellipse cx="796.2" cy="333.6" rx="14" ry="8.8" transform="rotate(59.5 796.2 333.6)" fill="none" stroke="#111" stroke-width="1.4"/>
<ellipse cx="806.8" cy="308.6" rx="14" ry="8.8" transform="rotate(59.5 806.8 308.6)" fill="none" stroke="#111" stroke-width="1.4"/>
<ellipse cx="798" cy="273.5" rx="14" ry="8.8" transform="rotate(59.5 798 273.5)" fill="none" stroke="#111" stroke-width="1.4"/>
<ellipse cx="773.8" cy="244.8" rx="14" ry="8.8" transform="rotate(59.5 773.8 244.8)" fill="none" stroke="#111" stroke-width="1.4"/>
<ellipse cx="745.6" cy="235.9" rx="14" ry="8.8" transform="rotate(59.5 745.6 235.9)" fill="none" stroke="#111" stroke-width="1.4"/>
<ellipse cx="726.6" cy="250.9" rx="14" ry="8.8" transform="rotate(59.5 726.6 250.9)" fill="none" stroke="#111" stroke-width="1.4"/>
<ellipse cx="725.6" cy="282.9" rx="14" ry="8.8" transform="rotate(59.5 725.6 282.9)" fill="none" stroke="#111" stroke-width="1.4"/>
<ellipse cx="743.2" cy="316.9" rx="14" ry="8.8" transform="rotate(59.5 743.2 316.9)" fill="none" stroke="#111" stroke-width="1.4"/>
<ellipse cx="771" cy="336.9" rx="14" ry="8.8" transform="rotate(59.5 771 336.9)" fill="none" stroke="#111" stroke-width="1.4"/>
<ellipse cx="745" cy="257" rx="5.2" ry="3.3" transform="rotate(59.5 745 257)" fill="none" stroke="#111" stroke-width="1.4"/>
<ellipse cx="761.2" cy="255.7" rx="5.2" ry="3.3" transform="rotate(59.5 761.2 255.7)" fill="none" stroke="#111" stroke-width="1.4"/>
<ellipse cx="778.8" cy="268.4" rx="5.2" ry="3.3" transform="rotate(59.5 778.8 268.4)" fill="none" stroke="#111" stroke-width="1.4"/>
<ellipse cx="791.5" cy="290.8" rx="5.2" ry="3.3" transform="rotate(59.5 791.5 290.8)" fill="none" stroke="#111" stroke-width="1.4"/>
<ellipse cx="792" cy="311.3" rx="5.2" ry="3.3" transform="rotate(59.5 792 311.3)" fill="none" stroke="#111" stroke-width="1.4"/>
<ellipse cx="780.6" cy="321" rx="5.2" ry="3.3" transform="rotate(59.5 780.6 321)" fill="none" stroke="#111" stroke-width="1.4"/>
<path d="M727 276.6 724.4 278.7 722.3 281.5 720.8 285 720 289 719.9 293.5 720.4 298.2 721.6 303.1 723.5 307.9 725.9 312.6 728.9 317.1 732.2 321 735.9 324.5 739.8 327.3 743.7 329.3 747.6 330.5 751.4 330.9 754.9 330.5 758 329.2 776.9 318 779.6 315.9 781.7 313.1 783.1 309.6 783.9 305.6 784.1 301.1 783.5 296.4 782.3 291.5 780.4 286.7 778 282 775.1 277.6 771.7 273.6 768 270.1 764.2 267.4 760.2 265.3 756.3 264.1 752.6 263.7 749.1 264.2 746 265.4Z" fill="#fff" stroke="#111" stroke-width="1.4"/>
<ellipse cx="742.5" cy="302.9" rx="30.5" ry="19.2" transform="rotate(59.5 742.5 302.9)" fill="none" stroke="#111" stroke-width="1.4"/>
<ellipse cx="742.5" cy="302.9" rx="29" ry="18.3" transform="rotate(59.5 742.5 302.9)" fill="none" stroke="#111" stroke-width="1.4"/>
<clipPath id="c1"><ellipse cx="742.5" cy="302.9" rx="26" ry="16.4" transform="rotate(59.5 742.5 302.9)"/></clipPath>
<ellipse cx="742.5" cy="302.9" rx="26" ry="16.4" transform="rotate(59.5 742.5 302.9)" fill="#fff" stroke="#111" stroke-width="1.4"/>
<g clip-path="url(#c1)">
<path d="M729.3 280.5 726.6 282.7 724.7 285.8 723.5 289.7 723.2 294.1 723.7 298.9 725 303.9 727.1 308.8 729.8 313.5 733.1 317.7 736.9 321.3 740.8 324.1 744.9 325.9 748.8 326.7 752.5 326.5 755.7 325.3 826.3 283.7 829 281.5 830.9 278.4 832.1 274.5 832.5 270.1 832 265.3 830.6 260.3 828.6 255.3 825.8 250.7 822.5 246.4 818.8 242.9 814.8 240.1 810.8 238.3 806.8 237.4 803.2 237.6 799.9 238.9Z" fill="#fff" stroke="#111" stroke-width="1.4"/>
<path d="M760.1 320.3 758.1 323.3 755.5 325.4 752.2 326.6 748.6 326.7 744.7 325.8 740.7 324 736.8 321.2 733.1 317.7 729.8 313.5 727.1 308.8 725 303.9 723.7 299 723.2 294.2 723.5 289.8 724.6 286 726.5 282.9 729.1 280.6 732.2 279.3 735.8 279 806.5 237.4 802.9 237.7 799.7 239 797.2 241.3 795.3 244.4 794.1 248.2 793.8 252.6 794.3 257.4 795.7 262.3 797.7 267.2 800.5 271.9 803.7 276 807.4 279.6 811.3 282.4 815.3 284.2 819.3 285.1 822.9 285 826.1 283.8 828.8 281.7 830.8 278.7Z" fill="#111" stroke="none"/>
<path d="M755.1 325.5L824.6 284.6L827.1 283.1L757.6 324.1ZM758.9 322.8L828.4 281.9L830.2 279.3L760.6 320.3ZM736.1 278.6L805.6 237.6L802.5 237.9L733 278.9ZM731.3 279.4L800.8 238.5L798.3 239.9L728.8 280.9ZM727.5 282.1L797 241.2L795.3 243.7L725.7 284.7ZM724.9 286.5L794.5 245.5L793.6 248.9L724.1 289.9ZM723.9 292.2L793.4 251.2L793.5 255.1L724 296.1ZM724.4 298.6L793.9 257.7L795 261.9L725.5 302.9ZM726.4 305.4L795.9 264.5L797.9 268.6L728.4 309.6ZM729.8 312L799.3 271L802 274.8L732.5 315.7ZM734.3 317.8L803.8 276.8L807 279.8L737.4 320.8ZM739.5 322.3L809 281.4L812.4 283.4L742.9 324.4ZM745 325.3L814.5 284.3L817.8 285.2L748.3 326.2ZM750.3 326.4L819.8 285.4L822.9 285.1L753.4 326.1Z" fill="#fff" stroke="#111" stroke-width="1.1"/>
</g>
<ellipse cx="742.5" cy="302.9" rx="26" ry="16.4" transform="rotate(59.5 742.5 302.9)" fill="none" stroke="#111" stroke-width="1.5"/>
<path d="M578.4 371.8C580 369.4 583.9 361.1 588 357.5C592.1 353.9 596.5 349.7 602.8 349.9C609.1 350.1 620.2 354.4 626 358.7C631.8 363 635.4 369.7 637.5 375.6C639.6 381.5 640 388.4 638.7 394.3C637.4 400.2 633.9 407 629.9 411.2C625.9 415.4 619.7 418.1 615 419.6C610.3 421.2 604 420.4 601.8 420.5" fill="#fff" stroke="#111" stroke-width="1.4"/>
<ellipse cx="590.1" cy="395.3" rx="27.5" ry="17.3" transform="rotate(59.5 590.1 395.3)" fill="#fff" stroke="#111" stroke-width="1.4"/>
<ellipse cx="590.1" cy="395.3" rx="25.2" ry="15.9" transform="rotate(59.5 590.1 395.3)" fill="none" stroke="#111" stroke-width="1.4"/>
<ellipse cx="590.1" cy="395.3" rx="21" ry="13.2" transform="rotate(59.5 590.1 395.3)" fill="none" stroke="#111" stroke-width="1.4"/>
<clipPath id="c2"><ellipse cx="590.1" cy="395.3" rx="21" ry="13.2" transform="rotate(59.5 590.1 395.3)"/></clipPath>
<g clip-path="url(#c2)">
<path d="M596.7 367.3 594.6 370.5 593.5 374.7 593.7 379.7 594.9 384.9 597.2 390.1 600.5 394.9 604.3 398.8 608.5 401.7" fill="none" stroke="#111" stroke-width="1.4"/>
</g>
<path d="M512.3 421.8 510.1 423.8 508.7 426.7 508.1 430.4 508.4 434.5 509.6 438.8 511.7 443 514.4 446.9 517.6 450 521 452.3 524.5 453.6 527.7 453.8 530.6 452.8 555.6 438.1 557.8 436.1 559.2 433.1 559.8 429.5 559.5 425.3 558.2 421 556.2 416.8 553.5 413 550.3 409.8 546.9 407.5 543.4 406.3 540.1 406.1 537.3 407.1Z" fill="#fff" stroke="#111" stroke-width="1.4"/>
<ellipse cx="521.5" cy="437.3" rx="18" ry="11.3" transform="rotate(59.5 521.5 437.3)" fill="none" stroke="#111" stroke-width="1.4"/>
<path d="M499 426.7 496.5 429 494.8 432.4 494.2 436.5 494.5 441.2 495.9 446.1 498.3 450.9 501.3 455.3 505 458.9 508.9 461.5 512.8 463 516.6 463.1 519.8 462.1 532.7 454.4 535.2 452.1 536.9 448.8 537.5 444.6 537.2 439.9 535.8 435 533.4 430.2 530.4 425.9 526.7 422.3 522.8 419.6 518.9 418.2 515.1 418 511.9 419.1Z" fill="#fff" stroke="#111" stroke-width="1.4"/>
<ellipse cx="509.4" cy="444.4" rx="20.5" ry="12.9" transform="rotate(59.5 509.4 444.4)" fill="none" stroke="#111" stroke-width="1.4"/>
<path d="M522.6 460.4 525 458 526.6 454.7 527.2 450.5 526.8 445.9 525.4 441 523.1 436.3 520.1 432 516.5 428.4 512.6 425.8 508.7 424.3 505 424.1 501.8 425.1" fill="none" stroke="#111" stroke-width="1.4"/>
<path d="M442.8 457.5 440.2 459.8 438.5 463 437.6 467.1 437.7 471.8 438.8 476.7 440.7 481.7 443.5 486.3 446.9 490.5 450.7 493.8 454.7 496.2 458.7 497.4 462.4 497.4 465.7 496.3 520.8 463.8 523.4 461.5 525.2 458.2 526 454.1 525.9 449.5 524.9 444.5 522.9 439.6 520.1 434.9 516.8 430.8 513 427.5 508.9 425.1 505 423.9 501.2 423.8 498 425Z" fill="#fff" stroke="#111" stroke-width="1.4"/>
<ellipse cx="454.2" cy="476.9" rx="22.5" ry="14.2" transform="rotate(59.5 454.2 476.9)" fill="none" stroke="#111" stroke-width="1.4"/>
<path d="M386.7 488.2 384 490.5 382.1 493.7 381.1 497.7 380.9 502.3 381.7 507.3 383.4 512.3 385.8 517.2 388.9 521.7 392.5 525.6 396.5 528.6 400.5 530.7 404.5 531.8 408.3 531.7 411.5 530.5 466.7 498 469.3 495.7 471.2 492.5 472.3 488.5 472.4 483.9 471.6 479 470 473.9 467.5 469 464.4 464.5 460.8 460.7 456.9 457.6 452.8 455.5 448.8 454.5 445.1 454.5 441.8 455.8Z" fill="#fff" stroke="#111" stroke-width="1.4"/>
<path d="M382.5 493 384.5 490 387.2 488 390.5 486.9 394.1 487 398.1 488.1 402 490.3 405.9 493.3 409.4 497.1 412.4 501.5 414.8 506.3 416.4 511.2 417.2 516 417.2 520.6 416.2 524.5 414.5 527.8 412 530.1 408.9 531.5 405.4 531.8 460.5 499.4 464.1 499 467.2 497.7 469.7 495.3 471.4 492 472.3 488.1 472.4 483.6 471.6 478.7 469.9 473.8 467.5 469 464.5 464.6 461 460.8 457.2 457.8 453.2 455.6 449.3 454.5 445.6 454.5 442.3 455.5 439.6 457.5 437.6 460.5Z" fill="#1a1a1a" stroke="none"/>
<path d="M411.8 530.3L465.9 498.5L468.9 495.9L414.9 527.7ZM415.8 526.5L469.8 494.7L471.5 490.5L417.5 522.3ZM417.8 520.6L471.8 488.8L471.9 483.5L417.9 515.3ZM417.6 513.4L471.7 481.5L470.1 475.8L416.1 507.6ZM415.3 505.5L469.4 473.7L466.4 468.1L412.4 500ZM411.1 498.1L465.2 466.3L461.2 461.6L407.1 493.4ZM405.6 492L459.6 460.2L455 457L401 488.8ZM399.3 488L453.4 456.1L448.7 454.8L394.7 486.6ZM393.1 486.4L447.2 454.6L443.1 455.2L389 487.1ZM387.7 487.6L441.8 455.8L438.7 458.3L384.7 490.2Z" fill="#fff" stroke="#111" stroke-width="1.2"/>
<path d="M465.3 498.7 468.2 496.9 470.4 494.1 471.9 490.4 472.4 486.1 472.1 481.4 470.9 476.4 468.8 471.4 466.1 466.7 462.7 462.5 459 459.1 455 456.5 450.9 454.9 447 454.4 443.5 455 440.5 456.6" fill="none" stroke="#111" stroke-width="1.4"/>
<path d="M410.1 531.1 413.1 529.3 415.3 526.6 416.7 522.9 417.3 518.6 417 513.9 415.7 508.9 413.7 503.9 410.9 499.2 407.6 495 403.8 491.5 399.8 488.9 395.8 487.3 391.9 486.8 388.4 487.4 385.4 489.1" fill="none" stroke="#111" stroke-width="1.8"/>
<path d="M386.7 488.2 384 490.5 382.1 493.7 381.1 497.7 380.9 502.3 381.7 507.3 383.4 512.3 385.8 517.2 388.9 521.7 392.5 525.6 396.5 528.6 400.5 530.7 404.5 531.8 408.3 531.7 411.5 530.5" fill="none" stroke="#111" stroke-width="1.4"/>
<path d="M377.4 490.2 374.7 492.4 372.7 495.4 371.4 499.1 370.9 503.4 371.2 508.1 372.2 513 374 517.9 376.4 522.7 379.4 527.2 382.9 531.1 386.7 534.4 390.7 536.9 394.7 538.5 398.5 539.2 402.1 538.9 405.3 537.6 413.1 533 415.7 530.9 417.7 527.9 419 524.2 419.5 519.9 419.3 515.2 418.2 510.3 416.5 505.4 414 500.6 411 496.1 407.6 492.2 403.8 488.9 399.8 486.4 395.8 484.8 391.9 484.1 388.3 484.4 385.1 485.7Z" fill="#fff" stroke="#111" stroke-width="1.4"/>
<ellipse cx="391.3" cy="513.9" rx="27.5" ry="17.3" transform="rotate(59.5 391.3 513.9)" fill="none" stroke="#111" stroke-width="1.4"/>
<ellipse cx="393.9" cy="512.4" rx="27.5" ry="17.3" transform="rotate(59.5 393.9 512.4)" fill="none" stroke="#111" stroke-width="1.4"/>
<path d="M334.6 520.1 332.1 522.2 330.3 525.3 329.3 529.2 329.1 533.6 329.9 538.3 331.5 543.1 333.8 547.8 336.8 552.1 340.2 555.9 344 558.8 347.9 560.8 351.8 561.8 355.3 561.7 358.5 560.6 403.3 534.2 405.8 532 407.6 528.9 408.6 525.1 408.8 520.7 408 515.9 406.4 511.1 404.1 506.4 401.1 502.1 397.7 498.4 393.9 495.4 390 493.4 386.1 492.4 382.6 492.5 379.4 493.7Z" fill="#fff" stroke="#111" stroke-width="1.4"/>
<ellipse cx="346.5" cy="540.3" rx="23.5" ry="14.8" transform="rotate(59.5 346.5 540.3)" fill="none" stroke="#111" stroke-width="1.4"/>
<path d="M388.9 542.6 391.5 540.2 393.3 536.8 394.1 532.5 394 527.7 392.8 522.6 390.8 517.5 387.9 512.7 384.5 508.4 380.6 505 376.4 502.5 372.3 501.2 368.4 501.1 365 502.2" fill="none" stroke="#111" stroke-width="2.2"/>
<path d="M316.1 537.9 314 539.9 312.6 542.7 312 546.3 312.3 550.3 313.5 554.5 315.5 558.6 318.1 562.3 321.2 565.4 324.6 567.6 327.9 568.9 331.1 569 333.9 568.1 355.4 555.4 357.6 553.4 359 550.6 359.5 547 359.2 543 358 538.8 356 534.7 353.4 531 350.3 527.9 347 525.7 343.6 524.5 340.4 524.3 337.7 525.2Z" fill="#fff" stroke="#111" stroke-width="1.4"/>
<path d="M313.1 541.3 314.9 538.8 317.4 537.3 320.4 536.9 323.7 537.6 327.1 539.4 330.4 542 333.3 545.5 335.6 549.4 337.2 553.6 337.9 557.8 337.8 561.6 336.8 564.8 335 567.3 332.5 568.7 329.5 569.1 351 556.4 354 556 356.5 554.6 358.4 552.1 359.4 548.9 359.5 545.1 358.7 540.9 357.1 536.7 354.8 532.8 351.9 529.4 348.6 526.7 345.2 524.9 341.9 524.2 338.9 524.7 336.4 526.1 334.7 528.6Z" fill="#1a1a1a" stroke="none"/>
<path d="M333.4 568.2L353.8 556.2L356 554.9L335.6 566.9ZM336.8 565.6L357.2 553.6L358.5 551L338.1 563ZM338.5 561L359 548.9L359.1 545.5L338.6 557.5ZM338.3 555.1L358.7 543.1L357.7 539.3L337.2 551.3ZM336.2 548.8L356.6 536.8L354.5 533.2L334.1 545.3ZM332.4 543.1L352.8 531.1L350.1 528.3L329.6 540.3ZM327.7 538.9L348.1 526.8L345 525.3L324.6 537.3ZM322.6 536.7L343 524.7L340.1 524.5L319.7 536.6ZM318 537L338.4 524.9L336.2 526.2L315.8 538.3Z" fill="#fff" stroke="#111" stroke-width="1.2"/>
<path d="M333.2 566.9 333.6 566.6 334.8 567.5 335.2 567.1 335.6 566.7 335.9 566.3 336.3 565.8 335.6 564.3 335.9 563.8 336.1 563.3 337.3 563.7 337.5 563.1 337.7 562.4 337.8 561.8 337.9 561.1 336.9 559.8 337 559.2 337 558.5 338 558.2 337.9 557.5 337.8 556.7 337.7 556 337.6 555.2 336.4 554.3 336.2 553.6 336 552.8 336.7 552 336.4 551.2 336 550.5 335.7 549.7 335.3 548.9 334.1 548.5 333.7 547.9 333.3 547.2 333.6 546 333.1 545.3 332.6 544.6 332.1 543.9 331.5 543.3 330.5 543.5 329.9 542.9 329.4 542.4 329.2 541 328.6 540.4 328 540 327.3 539.5 326.7 539.1 326 539.9 325.4 539.6 324.8 539.3 324.2 537.8 323.5 537.6 322.9 537.4 322.3 537.2 321.6 537.1 321.3 538.3 320.8 538.2 320.3 538.2 319.3 536.9 318.7 537 318.1 537.1 317.6 537.3 317.1 537.4 317.3 538.9 316.8 539.1 316.4 539.4 315.2 538.5 314.8 538.9 314.4 539.3 314.1 539.7 313.7 540.2 314.4 541.7 314.1 542.2 313.9 542.7 312.7 542.3 312.5 542.9 312.3 543.6 312.2 544.2 312.1 544.9 313.1 546.2 313 546.8 313 547.5 312 547.8 312.1 548.5 312.2 549.3 312.3 550 312.4 550.8 313.6 551.7 313.8 552.4 314 553.2 313.3 554 313.6 554.8 314 555.5 314.3 556.3 314.7 557.1 315.9 557.5 316.3 558.1 316.7 558.8 316.4 560 316.9 560.7 317.4 561.4 317.9 562.1 318.5 562.7 319.5 562.5 320.1 563.1 320.6 563.6 320.8 565 321.4 565.6 322 566 322.7 566.5 323.3 566.9 324 566.1 324.6 566.4 325.2 566.7 325.8 568.2 326.5 568.4 327.1 568.6 327.7 568.8 328.4 568.9 328.7 567.7 329.2 567.8 329.7 567.8 330.7 569.1 331.3 569 331.9 568.9 332.4 568.7 332.9 568.6 332.7 567.1 333.2 566.9Z" fill="#fff" stroke="#111" stroke-width="1.4"/>
<path d="M40.9 641.4 38.2 643.2 35.6 645.3 33.3 647.8 31.2 650.5 29.3 653.5 27.7 656.7 26.3 660.2 25.1 663.9 24.3 667.8 23.7 671.9 23.3 676.2 23.3 680.6 23.5 685.1 24 689.7 24.7 694.5 25.7 699.2 27 704 28.5 708.8 30.3 713.6 32.3 718.4 34.5 723.1 37 727.7 39.6 732.2 42.5 736.6 45.5 740.8 48.7 744.9 52 748.8 55.5 752.4 59.1 755.9 62.8 759.1 66.5 762 70.4 764.7 74.2 767.1 78.1 769.1 82 770.9 85.9 772.4 89.7 773.5 93.5 774.3 97.2 774.8 100.8 774.9 104.4 774.7 107.8 774.2 111 773.3 114.1 772.1 117.1 770.6 121.4 768.1 124.1 766.3 126.7 764.1 129 761.7 131.1 759 133 756 134.6 752.7 136 749.3 137.2 745.6 138 741.6 138.6 737.6 139 733.3 139 728.9 138.8 724.4 138.3 719.7 137.6 715 136.6 710.2 135.3 705.4 133.8 700.6 132 695.8 130 691.1 127.8 686.4 125.3 681.8 122.7 677.2 119.8 672.9 116.8 668.6 113.6 664.6 110.3 660.7 106.8 657 103.2 653.6 99.5 650.4 95.8 647.4 92 644.8 88.1 642.4 84.2 640.3 80.3 638.5 76.4 637.1 72.6 636 68.8 635.1 65.1 634.7 61.5 634.5 57.9 634.7 54.5 635.3 51.3 636.1 48.2 637.3 45.2 638.8Z" fill="#fff" stroke="#111" stroke-width="1.4"/>
<ellipse cx="79" cy="706" rx="75" ry="47.2" transform="rotate(59.5 79 706)" fill="none" stroke="#111" stroke-width="1.4"/>
<ellipse cx="79" cy="706" rx="33" ry="20.8" transform="rotate(59.5 79 706)" fill="none" stroke="#111" stroke-width="1.4"/>
<path d="M65.5 675.7 63 678 61.1 681 59.7 684.5 59 688.5 58.8 692.8 59.3 697.4 60.3 702.2 61.9 707 64.1 711.7 66.8 716.2 69.9 720.4 73.3 724.2 76.9 727.4 80.7 730.1 84.6 732 88.5 733.3 92.2 733.8 95.7 733.5 98.9 732.5" fill="none" stroke="#111" stroke-width="1.4"/>
<ellipse cx="108.2" cy="754.4" rx="14.5" ry="9.1" transform="rotate(59.5 108.2 754.4)" fill="none" stroke="#111" stroke-width="1.4"/>
<path d="M105.3 739.4 103.8 741.7 103.1 744.8 103.2 748.3 104.2 752 105.9 755.7 108.3 759 111.1 761.7 114.1 763.5 117.1 764.3 119.8 764.1" fill="none" stroke="#111" stroke-width="1.4"/>
<ellipse cx="120.8" cy="730.9" rx="14.5" ry="9.1" transform="rotate(59.5 120.8 730.9)" fill="none" stroke="#111" stroke-width="1.4"/>
<path d="M117.9 716 116.4 718.3 115.6 721.3 115.8 724.8 116.8 728.6 118.5 732.2 120.9 735.5 123.7 738.2 126.7 740 129.7 740.9 132.4 740.7" fill="none" stroke="#111" stroke-width="1.4"/>
<ellipse cx="113.8" cy="695.8" rx="14.5" ry="9.1" transform="rotate(59.5 113.8 695.8)" fill="none" stroke="#111" stroke-width="1.4"/>
<path d="M110.9 680.9 109.4 683.1 108.7 686.2 108.8 689.7 109.8 693.4 111.5 697.1 113.9 700.4 116.7 703.1 119.7 704.9 122.7 705.8 125.4 705.5" fill="none" stroke="#111" stroke-width="1.4"/>
<ellipse cx="90.5" cy="665.4" rx="14.5" ry="9.1" transform="rotate(59.5 90.5 665.4)" fill="none" stroke="#111" stroke-width="1.4"/>
<path d="M87.6 650.5 86.1 652.8 85.4 655.8 85.5 659.4 86.5 663.1 88.2 666.8 90.6 670.1 93.4 672.8 96.4 674.6 99.4 675.4 102.2 675.2" fill="none" stroke="#111" stroke-width="1.4"/>
<ellipse cx="61.9" cy="654.1" rx="14.5" ry="9.1" transform="rotate(59.5 61.9 654.1)" fill="none" stroke="#111" stroke-width="1.4"/>
<path d="M59 639.2 57.5 641.5 56.7 644.5 56.9 648 57.9 651.8 59.6 655.4 62 658.7 64.8 661.4 67.8 663.2 70.8 664.1 73.5 663.9" fill="none" stroke="#111" stroke-width="1.4"/>
<ellipse cx="41.2" cy="667" rx="14.5" ry="9.1" transform="rotate(59.5 41.2 667)" fill="none" stroke="#111" stroke-width="1.4"/>
<path d="M38.3 652.1 36.8 654.4 36.1 657.4 36.2 660.9 37.2 664.7 39 668.4 41.3 671.7 44.1 674.3 47.2 676.2 50.1 677 52.9 676.8" fill="none" stroke="#111" stroke-width="1.4"/>
<ellipse cx="38.3" cy="698.2" rx="14.5" ry="9.1" transform="rotate(59.5 38.3 698.2)" fill="none" stroke="#111" stroke-width="1.4"/>
<path d="M35.4 683.3 33.9 685.6 33.1 688.6 33.3 692.1 34.3 695.9 36 699.5 38.4 702.8 41.2 705.5 44.2 707.3 47.2 708.2 49.9 708" fill="none" stroke="#111" stroke-width="1.4"/>
<ellipse cx="54.4" cy="733" rx="14.5" ry="9.1" transform="rotate(59.5 54.4 733)" fill="none" stroke="#111" stroke-width="1.4"/>
<path d="M51.5 718.1 50 720.4 49.2 723.4 49.4 726.9 50.4 730.7 52.1 734.4 54.5 737.7 57.3 740.3 60.3 742.2 63.3 743 66 742.8" fill="none" stroke="#111" stroke-width="1.4"/>
<ellipse cx="82" cy="755.2" rx="14.5" ry="9.1" transform="rotate(59.5 82 755.2)" fill="none" stroke="#111" stroke-width="1.4"/>
<path d="M79.1 740.3 77.6 742.6 76.9 745.6 77 749.1 78 752.9 79.7 756.5 82.1 759.8 84.9 762.5 87.9 764.3 90.9 765.2 93.6 765" fill="none" stroke="#111" stroke-width="1.4"/>
</svg></body></html>
